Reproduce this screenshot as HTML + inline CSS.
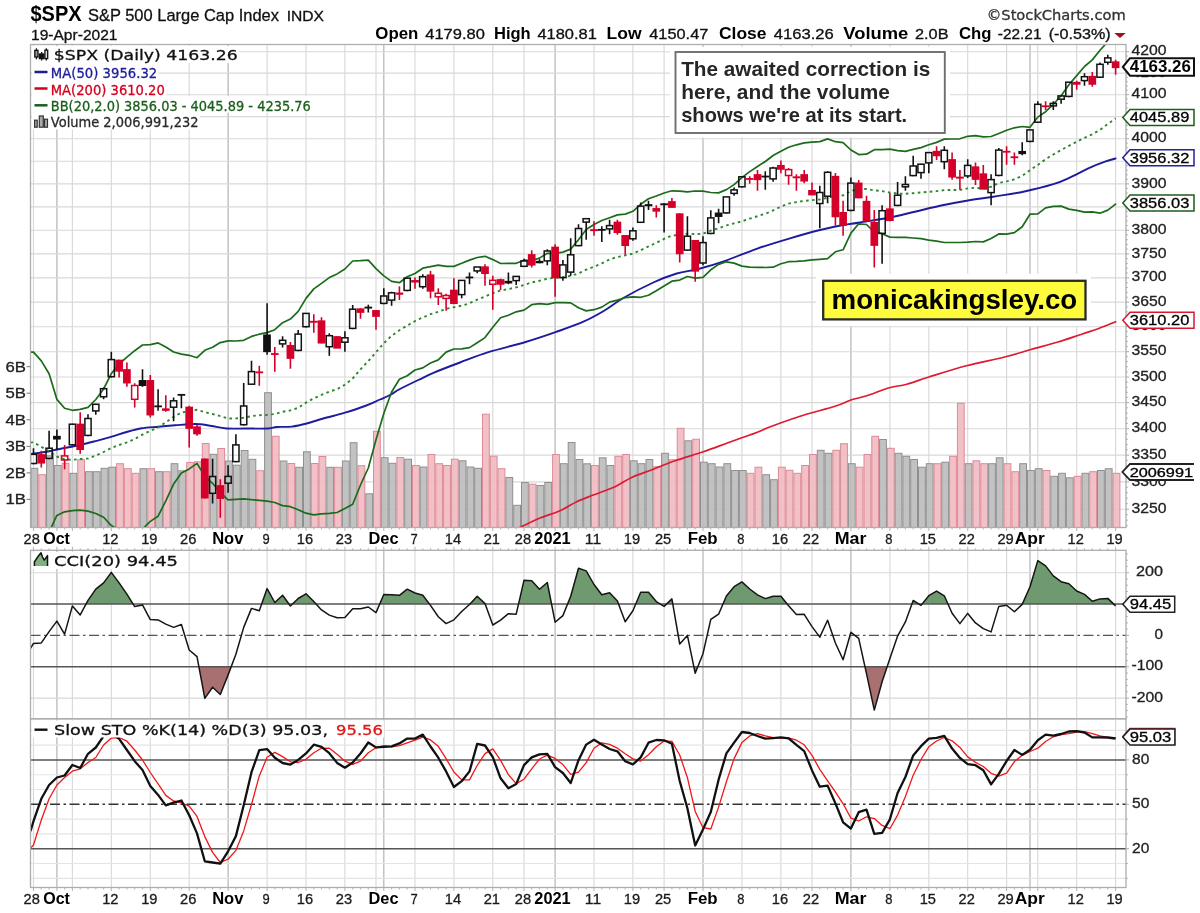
<!DOCTYPE html>
<html lang="en"><head><meta charset="utf-8"><title>$SPX S&amp;P 500 Large Cap Index</title>
<style>html,body{margin:0;padding:0;background:#fff}svg text{white-space:pre}</style></head>
<body>
<svg width="1200" height="913" viewBox="0 0 1200 913" style="display:block">
<rect width="1200" height="913" fill="#fff"/>
<clipPath id="cp"><rect x="30.5" y="44.5" width="1095.5" height="483.0"/></clipPath>
<line x1="33.5" y1="44.5" x2="33.5" y2="527.5" stroke="#d9d9d9" stroke-width="1.15"/>
<line x1="72.4" y1="44.5" x2="72.4" y2="527.5" stroke="#d9d9d9" stroke-width="1.15"/>
<line x1="376" y1="44.5" x2="376" y2="527.5" stroke="#d9d9d9" stroke-width="1.15"/>
<line x1="111.3" y1="44.5" x2="111.3" y2="527.5" stroke="#d9d9d9" stroke-width="1.15"/>
<line x1="150.3" y1="44.5" x2="150.3" y2="527.5" stroke="#d9d9d9" stroke-width="1.15"/>
<line x1="189.2" y1="44.5" x2="189.2" y2="527.5" stroke="#d9d9d9" stroke-width="1.15"/>
<line x1="267.1" y1="44.5" x2="267.1" y2="527.5" stroke="#d9d9d9" stroke-width="1.15"/>
<line x1="306" y1="44.5" x2="306" y2="527.5" stroke="#d9d9d9" stroke-width="1.15"/>
<line x1="344.9" y1="44.5" x2="344.9" y2="527.5" stroke="#d9d9d9" stroke-width="1.15"/>
<line x1="415" y1="44.5" x2="415" y2="527.5" stroke="#d9d9d9" stroke-width="1.15"/>
<line x1="453.9" y1="44.5" x2="453.9" y2="527.5" stroke="#d9d9d9" stroke-width="1.15"/>
<line x1="492.8" y1="44.5" x2="492.8" y2="527.5" stroke="#d9d9d9" stroke-width="1.15"/>
<line x1="524" y1="44.5" x2="524" y2="527.5" stroke="#d9d9d9" stroke-width="1.15"/>
<line x1="594" y1="44.5" x2="594" y2="527.5" stroke="#d9d9d9" stroke-width="1.15"/>
<line x1="632.9" y1="44.5" x2="632.9" y2="527.5" stroke="#d9d9d9" stroke-width="1.15"/>
<line x1="664.1" y1="44.5" x2="664.1" y2="527.5" stroke="#d9d9d9" stroke-width="1.15"/>
<line x1="741.9" y1="44.5" x2="741.9" y2="527.5" stroke="#d9d9d9" stroke-width="1.15"/>
<line x1="780.9" y1="44.5" x2="780.9" y2="527.5" stroke="#d9d9d9" stroke-width="1.15"/>
<line x1="812" y1="44.5" x2="812" y2="527.5" stroke="#d9d9d9" stroke-width="1.15"/>
<line x1="889.9" y1="44.5" x2="889.9" y2="527.5" stroke="#d9d9d9" stroke-width="1.15"/>
<line x1="928.8" y1="44.5" x2="928.8" y2="527.5" stroke="#d9d9d9" stroke-width="1.15"/>
<line x1="967.7" y1="44.5" x2="967.7" y2="527.5" stroke="#d9d9d9" stroke-width="1.15"/>
<line x1="1006.6" y1="44.5" x2="1006.6" y2="527.5" stroke="#d9d9d9" stroke-width="1.15"/>
<line x1="1037.8" y1="44.5" x2="1037.8" y2="527.5" stroke="#d9d9d9" stroke-width="1.15"/>
<line x1="1076.7" y1="44.5" x2="1076.7" y2="527.5" stroke="#d9d9d9" stroke-width="1.15"/>
<line x1="1115.6" y1="44.5" x2="1115.6" y2="527.5" stroke="#d9d9d9" stroke-width="1.15"/>
<line x1="56.9" y1="44.5" x2="56.9" y2="527.5" stroke="#b4b4b4" stroke-width="1.2"/>
<line x1="228.1" y1="44.5" x2="228.1" y2="527.5" stroke="#b4b4b4" stroke-width="1.2"/>
<line x1="383.8" y1="44.5" x2="383.8" y2="527.5" stroke="#b4b4b4" stroke-width="1.2"/>
<line x1="555.1" y1="44.5" x2="555.1" y2="527.5" stroke="#b4b4b4" stroke-width="1.2"/>
<line x1="703" y1="44.5" x2="703" y2="527.5" stroke="#b4b4b4" stroke-width="1.2"/>
<line x1="850.9" y1="44.5" x2="850.9" y2="527.5" stroke="#b4b4b4" stroke-width="1.2"/>
<line x1="1030" y1="44.5" x2="1030" y2="527.5" stroke="#b4b4b4" stroke-width="1.2"/>
<line x1="30.5" y1="509.2" x2="1126" y2="509.2" stroke="#d9d9d9" stroke-width="1.15"/>
<line x1="30.5" y1="481.9" x2="1126" y2="481.9" stroke="#d9d9d9" stroke-width="1.15"/>
<line x1="30.5" y1="455.1" x2="1126" y2="455.1" stroke="#d9d9d9" stroke-width="1.15"/>
<line x1="30.5" y1="428.7" x2="1126" y2="428.7" stroke="#d9d9d9" stroke-width="1.15"/>
<line x1="30.5" y1="402.6" x2="1126" y2="402.6" stroke="#d9d9d9" stroke-width="1.15"/>
<line x1="30.5" y1="377" x2="1126" y2="377" stroke="#d9d9d9" stroke-width="1.15"/>
<line x1="30.5" y1="351.7" x2="1126" y2="351.7" stroke="#d9d9d9" stroke-width="1.15"/>
<line x1="30.5" y1="326.7" x2="1126" y2="326.7" stroke="#d9d9d9" stroke-width="1.15"/>
<line x1="30.5" y1="302.1" x2="1126" y2="302.1" stroke="#d9d9d9" stroke-width="1.15"/>
<line x1="30.5" y1="277.8" x2="1126" y2="277.8" stroke="#d9d9d9" stroke-width="1.15"/>
<line x1="30.5" y1="253.9" x2="1126" y2="253.9" stroke="#d9d9d9" stroke-width="1.15"/>
<line x1="30.5" y1="230.2" x2="1126" y2="230.2" stroke="#d9d9d9" stroke-width="1.15"/>
<line x1="30.5" y1="206.9" x2="1126" y2="206.9" stroke="#d9d9d9" stroke-width="1.15"/>
<line x1="30.5" y1="183.9" x2="1126" y2="183.9" stroke="#d9d9d9" stroke-width="1.15"/>
<line x1="30.5" y1="161.2" x2="1126" y2="161.2" stroke="#d9d9d9" stroke-width="1.15"/>
<line x1="30.5" y1="138.7" x2="1126" y2="138.7" stroke="#d9d9d9" stroke-width="1.15"/>
<line x1="30.5" y1="116.6" x2="1126" y2="116.6" stroke="#d9d9d9" stroke-width="1.15"/>
<line x1="30.5" y1="94.7" x2="1126" y2="94.7" stroke="#d9d9d9" stroke-width="1.15"/>
<line x1="30.5" y1="73.1" x2="1126" y2="73.1" stroke="#d9d9d9" stroke-width="1.15"/>
<line x1="30.5" y1="51.7" x2="1126" y2="51.7" stroke="#d9d9d9" stroke-width="1.15"/>
<g clip-path="url(#cp)">
<rect x="31" y="468.3" width="6.8" height="61.2" fill="#bdbdbd" stroke="#8f8f8f" stroke-width="1" fill-opacity="0.92"/>
<rect x="38.8" y="474.7" width="6.8" height="54.8" fill="#f0bcc2" stroke="#dd8a96" stroke-width="1" fill-opacity="0.92"/>
<rect x="46.6" y="455.8" width="6.8" height="73.7" fill="#bdbdbd" stroke="#8f8f8f" stroke-width="1" fill-opacity="0.92"/>
<rect x="54.4" y="465.5" width="6.8" height="64" fill="#bdbdbd" stroke="#8f8f8f" stroke-width="1" fill-opacity="0.92"/>
<rect x="62.1" y="463.3" width="6.8" height="66.2" fill="#f0bcc2" stroke="#dd8a96" stroke-width="1" fill-opacity="0.92"/>
<rect x="69.9" y="473.3" width="6.8" height="56.2" fill="#bdbdbd" stroke="#8f8f8f" stroke-width="1" fill-opacity="0.92"/>
<rect x="77.7" y="459.7" width="6.8" height="69.8" fill="#f0bcc2" stroke="#dd8a96" stroke-width="1" fill-opacity="0.92"/>
<rect x="85.5" y="471.7" width="6.8" height="57.8" fill="#bdbdbd" stroke="#8f8f8f" stroke-width="1" fill-opacity="0.92"/>
<rect x="93.3" y="471.7" width="6.8" height="57.8" fill="#bdbdbd" stroke="#8f8f8f" stroke-width="1" fill-opacity="0.92"/>
<rect x="101.1" y="468.3" width="6.8" height="61.2" fill="#bdbdbd" stroke="#8f8f8f" stroke-width="1" fill-opacity="0.92"/>
<rect x="108.8" y="467.2" width="6.8" height="62.3" fill="#bdbdbd" stroke="#8f8f8f" stroke-width="1" fill-opacity="0.92"/>
<rect x="116.6" y="463.7" width="6.8" height="65.8" fill="#f0bcc2" stroke="#dd8a96" stroke-width="1" fill-opacity="0.92"/>
<rect x="124.4" y="468.7" width="6.8" height="60.8" fill="#f0bcc2" stroke="#dd8a96" stroke-width="1" fill-opacity="0.92"/>
<rect x="132.2" y="473.3" width="6.8" height="56.2" fill="#f0bcc2" stroke="#dd8a96" stroke-width="1" fill-opacity="0.92"/>
<rect x="140" y="468.7" width="6.8" height="60.8" fill="#bdbdbd" stroke="#8f8f8f" stroke-width="1" fill-opacity="0.92"/>
<rect x="147.8" y="468.7" width="6.8" height="60.8" fill="#f0bcc2" stroke="#dd8a96" stroke-width="1" fill-opacity="0.92"/>
<rect x="155.6" y="471.7" width="6.8" height="57.8" fill="#bdbdbd" stroke="#8f8f8f" stroke-width="1" fill-opacity="0.92"/>
<rect x="163.3" y="471.7" width="6.8" height="57.8" fill="#f0bcc2" stroke="#dd8a96" stroke-width="1" fill-opacity="0.92"/>
<rect x="171.1" y="463.7" width="6.8" height="65.8" fill="#bdbdbd" stroke="#8f8f8f" stroke-width="1" fill-opacity="0.92"/>
<rect x="178.9" y="470.8" width="6.8" height="58.7" fill="#bdbdbd" stroke="#8f8f8f" stroke-width="1" fill-opacity="0.92"/>
<rect x="186.7" y="462.5" width="6.8" height="67" fill="#f0bcc2" stroke="#dd8a96" stroke-width="1" fill-opacity="0.92"/>
<rect x="194.5" y="461.8" width="6.8" height="67.7" fill="#f0bcc2" stroke="#dd8a96" stroke-width="1" fill-opacity="0.92"/>
<rect x="202.3" y="443.5" width="6.8" height="86" fill="#f0bcc2" stroke="#dd8a96" stroke-width="1" fill-opacity="0.92"/>
<rect x="210.1" y="454.3" width="6.8" height="75.2" fill="#bdbdbd" stroke="#8f8f8f" stroke-width="1" fill-opacity="0.92"/>
<rect x="217.8" y="448.5" width="6.8" height="81" fill="#f0bcc2" stroke="#dd8a96" stroke-width="1" fill-opacity="0.92"/>
<rect x="225.6" y="461" width="6.8" height="68.5" fill="#bdbdbd" stroke="#8f8f8f" stroke-width="1" fill-opacity="0.92"/>
<rect x="233.4" y="465.2" width="6.8" height="64.3" fill="#bdbdbd" stroke="#8f8f8f" stroke-width="1" fill-opacity="0.92"/>
<rect x="241.2" y="450.5" width="6.8" height="79" fill="#bdbdbd" stroke="#8f8f8f" stroke-width="1" fill-opacity="0.92"/>
<rect x="249" y="459.3" width="6.8" height="70.2" fill="#bdbdbd" stroke="#8f8f8f" stroke-width="1" fill-opacity="0.92"/>
<rect x="256.8" y="470.7" width="6.8" height="58.8" fill="#f0bcc2" stroke="#dd8a96" stroke-width="1" fill-opacity="0.92"/>
<rect x="264.6" y="392.7" width="6.8" height="136.8" fill="#bdbdbd" stroke="#8f8f8f" stroke-width="1" fill-opacity="0.92"/>
<rect x="272.3" y="436.3" width="6.8" height="93.2" fill="#f0bcc2" stroke="#dd8a96" stroke-width="1" fill-opacity="0.92"/>
<rect x="280.1" y="461" width="6.8" height="68.5" fill="#bdbdbd" stroke="#8f8f8f" stroke-width="1" fill-opacity="0.92"/>
<rect x="287.9" y="463.5" width="6.8" height="66" fill="#f0bcc2" stroke="#dd8a96" stroke-width="1" fill-opacity="0.92"/>
<rect x="295.7" y="467.3" width="6.8" height="62.2" fill="#bdbdbd" stroke="#8f8f8f" stroke-width="1" fill-opacity="0.92"/>
<rect x="303.5" y="451.8" width="6.8" height="77.7" fill="#bdbdbd" stroke="#8f8f8f" stroke-width="1" fill-opacity="0.92"/>
<rect x="311.3" y="463.5" width="6.8" height="66" fill="#f0bcc2" stroke="#dd8a96" stroke-width="1" fill-opacity="0.92"/>
<rect x="319" y="456.5" width="6.8" height="73" fill="#f0bcc2" stroke="#dd8a96" stroke-width="1" fill-opacity="0.92"/>
<rect x="326.8" y="467.3" width="6.8" height="62.2" fill="#bdbdbd" stroke="#8f8f8f" stroke-width="1" fill-opacity="0.92"/>
<rect x="334.6" y="467.3" width="6.8" height="62.2" fill="#f0bcc2" stroke="#dd8a96" stroke-width="1" fill-opacity="0.92"/>
<rect x="342.4" y="461" width="6.8" height="68.5" fill="#bdbdbd" stroke="#8f8f8f" stroke-width="1" fill-opacity="0.92"/>
<rect x="350.2" y="442.7" width="6.8" height="86.8" fill="#bdbdbd" stroke="#8f8f8f" stroke-width="1" fill-opacity="0.92"/>
<rect x="358" y="465.7" width="6.8" height="63.8" fill="#f0bcc2" stroke="#dd8a96" stroke-width="1" fill-opacity="0.92"/>
<rect x="365.8" y="493.8" width="6.8" height="35.7" fill="#bdbdbd" stroke="#8f8f8f" stroke-width="1" fill-opacity="0.92"/>
<rect x="373.5" y="431.3" width="6.8" height="98.2" fill="#f0bcc2" stroke="#dd8a96" stroke-width="1" fill-opacity="0.92"/>
<rect x="381.3" y="457.7" width="6.8" height="71.8" fill="#bdbdbd" stroke="#8f8f8f" stroke-width="1" fill-opacity="0.92"/>
<rect x="389.1" y="463.3" width="6.8" height="66.2" fill="#bdbdbd" stroke="#8f8f8f" stroke-width="1" fill-opacity="0.92"/>
<rect x="396.9" y="457.5" width="6.8" height="72" fill="#f0bcc2" stroke="#dd8a96" stroke-width="1" fill-opacity="0.92"/>
<rect x="404.7" y="459.2" width="6.8" height="70.3" fill="#bdbdbd" stroke="#8f8f8f" stroke-width="1" fill-opacity="0.92"/>
<rect x="412.5" y="465.5" width="6.8" height="64" fill="#f0bcc2" stroke="#dd8a96" stroke-width="1" fill-opacity="0.92"/>
<rect x="420.2" y="467" width="6.8" height="62.5" fill="#bdbdbd" stroke="#8f8f8f" stroke-width="1" fill-opacity="0.92"/>
<rect x="428" y="454.5" width="6.8" height="75" fill="#f0bcc2" stroke="#dd8a96" stroke-width="1" fill-opacity="0.92"/>
<rect x="435.8" y="463.7" width="6.8" height="65.8" fill="#f0bcc2" stroke="#dd8a96" stroke-width="1" fill-opacity="0.92"/>
<rect x="443.6" y="465.5" width="6.8" height="64" fill="#f0bcc2" stroke="#dd8a96" stroke-width="1" fill-opacity="0.92"/>
<rect x="451.4" y="459.2" width="6.8" height="70.3" fill="#f0bcc2" stroke="#dd8a96" stroke-width="1" fill-opacity="0.92"/>
<rect x="459.2" y="460.8" width="6.8" height="68.7" fill="#bdbdbd" stroke="#8f8f8f" stroke-width="1" fill-opacity="0.92"/>
<rect x="467" y="467" width="6.8" height="62.5" fill="#bdbdbd" stroke="#8f8f8f" stroke-width="1" fill-opacity="0.92"/>
<rect x="474.7" y="468.3" width="6.8" height="61.2" fill="#bdbdbd" stroke="#8f8f8f" stroke-width="1" fill-opacity="0.92"/>
<rect x="482.5" y="414.2" width="6.8" height="115.3" fill="#f0bcc2" stroke="#dd8a96" stroke-width="1" fill-opacity="0.92"/>
<rect x="490.3" y="456.2" width="6.8" height="73.3" fill="#f0bcc2" stroke="#dd8a96" stroke-width="1" fill-opacity="0.92"/>
<rect x="498.1" y="468.7" width="6.8" height="60.8" fill="#f0bcc2" stroke="#dd8a96" stroke-width="1" fill-opacity="0.92"/>
<rect x="505.9" y="477.5" width="6.8" height="52" fill="#bdbdbd" stroke="#8f8f8f" stroke-width="1" fill-opacity="0.92"/>
<rect x="513.7" y="505.3" width="6.8" height="24.2" fill="#bdbdbd" stroke="#8f8f8f" stroke-width="1" fill-opacity="0.92"/>
<rect x="521.5" y="482.5" width="6.8" height="47" fill="#bdbdbd" stroke="#8f8f8f" stroke-width="1" fill-opacity="0.92"/>
<rect x="529.2" y="484.2" width="6.8" height="45.3" fill="#f0bcc2" stroke="#dd8a96" stroke-width="1" fill-opacity="0.92"/>
<rect x="537" y="485.5" width="6.8" height="44" fill="#bdbdbd" stroke="#8f8f8f" stroke-width="1" fill-opacity="0.92"/>
<rect x="544.8" y="482.5" width="6.8" height="47" fill="#bdbdbd" stroke="#8f8f8f" stroke-width="1" fill-opacity="0.92"/>
<rect x="552.6" y="454.5" width="6.8" height="75" fill="#f0bcc2" stroke="#dd8a96" stroke-width="1" fill-opacity="0.92"/>
<rect x="560.4" y="463.7" width="6.8" height="65.8" fill="#bdbdbd" stroke="#8f8f8f" stroke-width="1" fill-opacity="0.92"/>
<rect x="568.2" y="442.5" width="6.8" height="87" fill="#bdbdbd" stroke="#8f8f8f" stroke-width="1" fill-opacity="0.92"/>
<rect x="576" y="459.5" width="6.8" height="70" fill="#bdbdbd" stroke="#8f8f8f" stroke-width="1" fill-opacity="0.92"/>
<rect x="583.7" y="463.8" width="6.8" height="65.7" fill="#bdbdbd" stroke="#8f8f8f" stroke-width="1" fill-opacity="0.92"/>
<rect x="591.5" y="465.5" width="6.8" height="64" fill="#f0bcc2" stroke="#dd8a96" stroke-width="1" fill-opacity="0.92"/>
<rect x="599.3" y="457.8" width="6.8" height="71.7" fill="#bdbdbd" stroke="#8f8f8f" stroke-width="1" fill-opacity="0.92"/>
<rect x="607.1" y="465.5" width="6.8" height="64" fill="#bdbdbd" stroke="#8f8f8f" stroke-width="1" fill-opacity="0.92"/>
<rect x="614.9" y="456.3" width="6.8" height="73.2" fill="#f0bcc2" stroke="#dd8a96" stroke-width="1" fill-opacity="0.92"/>
<rect x="622.7" y="454.5" width="6.8" height="75" fill="#f0bcc2" stroke="#dd8a96" stroke-width="1" fill-opacity="0.92"/>
<rect x="630.4" y="460.8" width="6.8" height="68.7" fill="#bdbdbd" stroke="#8f8f8f" stroke-width="1" fill-opacity="0.92"/>
<rect x="638.2" y="463.7" width="6.8" height="65.8" fill="#bdbdbd" stroke="#8f8f8f" stroke-width="1" fill-opacity="0.92"/>
<rect x="646" y="459.5" width="6.8" height="70" fill="#bdbdbd" stroke="#8f8f8f" stroke-width="1" fill-opacity="0.92"/>
<rect x="653.8" y="466.7" width="6.8" height="62.8" fill="#f0bcc2" stroke="#dd8a96" stroke-width="1" fill-opacity="0.92"/>
<rect x="661.6" y="453.3" width="6.8" height="76.2" fill="#bdbdbd" stroke="#8f8f8f" stroke-width="1" fill-opacity="0.92"/>
<rect x="669.4" y="459.7" width="6.8" height="69.8" fill="#f0bcc2" stroke="#dd8a96" stroke-width="1" fill-opacity="0.92"/>
<rect x="677.2" y="428.3" width="6.8" height="101.2" fill="#f0bcc2" stroke="#dd8a96" stroke-width="1" fill-opacity="0.92"/>
<rect x="684.9" y="440.8" width="6.8" height="88.7" fill="#bdbdbd" stroke="#8f8f8f" stroke-width="1" fill-opacity="0.92"/>
<rect x="692.7" y="439.2" width="6.8" height="90.3" fill="#f0bcc2" stroke="#dd8a96" stroke-width="1" fill-opacity="0.92"/>
<rect x="700.5" y="462.2" width="6.8" height="67.3" fill="#bdbdbd" stroke="#8f8f8f" stroke-width="1" fill-opacity="0.92"/>
<rect x="708.3" y="463.7" width="6.8" height="65.8" fill="#bdbdbd" stroke="#8f8f8f" stroke-width="1" fill-opacity="0.92"/>
<rect x="716.1" y="467" width="6.8" height="62.5" fill="#bdbdbd" stroke="#8f8f8f" stroke-width="1" fill-opacity="0.92"/>
<rect x="723.9" y="463.7" width="6.8" height="65.8" fill="#bdbdbd" stroke="#8f8f8f" stroke-width="1" fill-opacity="0.92"/>
<rect x="731.6" y="470.5" width="6.8" height="59" fill="#bdbdbd" stroke="#8f8f8f" stroke-width="1" fill-opacity="0.92"/>
<rect x="739.4" y="470.5" width="6.8" height="59" fill="#bdbdbd" stroke="#8f8f8f" stroke-width="1" fill-opacity="0.92"/>
<rect x="747.2" y="473.3" width="6.8" height="56.2" fill="#f0bcc2" stroke="#dd8a96" stroke-width="1" fill-opacity="0.92"/>
<rect x="755" y="467.2" width="6.8" height="62.3" fill="#f0bcc2" stroke="#dd8a96" stroke-width="1" fill-opacity="0.92"/>
<rect x="762.8" y="474.7" width="6.8" height="54.8" fill="#bdbdbd" stroke="#8f8f8f" stroke-width="1" fill-opacity="0.92"/>
<rect x="770.6" y="479.7" width="6.8" height="49.8" fill="#bdbdbd" stroke="#8f8f8f" stroke-width="1" fill-opacity="0.92"/>
<rect x="778.4" y="467.2" width="6.8" height="62.3" fill="#f0bcc2" stroke="#dd8a96" stroke-width="1" fill-opacity="0.92"/>
<rect x="786.1" y="470.3" width="6.8" height="59.2" fill="#f0bcc2" stroke="#dd8a96" stroke-width="1" fill-opacity="0.92"/>
<rect x="793.9" y="473.3" width="6.8" height="56.2" fill="#f0bcc2" stroke="#dd8a96" stroke-width="1" fill-opacity="0.92"/>
<rect x="801.7" y="465.5" width="6.8" height="64" fill="#f0bcc2" stroke="#dd8a96" stroke-width="1" fill-opacity="0.92"/>
<rect x="809.5" y="454.5" width="6.8" height="75" fill="#f0bcc2" stroke="#dd8a96" stroke-width="1" fill-opacity="0.92"/>
<rect x="817.3" y="450.3" width="6.8" height="79.2" fill="#bdbdbd" stroke="#8f8f8f" stroke-width="1" fill-opacity="0.92"/>
<rect x="825.1" y="453.3" width="6.8" height="76.2" fill="#bdbdbd" stroke="#8f8f8f" stroke-width="1" fill-opacity="0.92"/>
<rect x="832.9" y="450.3" width="6.8" height="79.2" fill="#f0bcc2" stroke="#dd8a96" stroke-width="1" fill-opacity="0.92"/>
<rect x="840.6" y="443.7" width="6.8" height="85.8" fill="#f0bcc2" stroke="#dd8a96" stroke-width="1" fill-opacity="0.92"/>
<rect x="848.4" y="463.7" width="6.8" height="65.8" fill="#bdbdbd" stroke="#8f8f8f" stroke-width="1" fill-opacity="0.92"/>
<rect x="856.2" y="467.2" width="6.8" height="62.3" fill="#f0bcc2" stroke="#dd8a96" stroke-width="1" fill-opacity="0.92"/>
<rect x="864" y="454.5" width="6.8" height="75" fill="#f0bcc2" stroke="#dd8a96" stroke-width="1" fill-opacity="0.92"/>
<rect x="871.8" y="436.3" width="6.8" height="93.2" fill="#f0bcc2" stroke="#dd8a96" stroke-width="1" fill-opacity="0.92"/>
<rect x="879.6" y="439.5" width="6.8" height="90" fill="#bdbdbd" stroke="#8f8f8f" stroke-width="1" fill-opacity="0.92"/>
<rect x="887.4" y="448.3" width="6.8" height="81.2" fill="#f0bcc2" stroke="#dd8a96" stroke-width="1" fill-opacity="0.92"/>
<rect x="895.1" y="453.3" width="6.8" height="76.2" fill="#bdbdbd" stroke="#8f8f8f" stroke-width="1" fill-opacity="0.92"/>
<rect x="902.9" y="456.3" width="6.8" height="73.2" fill="#bdbdbd" stroke="#8f8f8f" stroke-width="1" fill-opacity="0.92"/>
<rect x="910.7" y="459.5" width="6.8" height="70" fill="#bdbdbd" stroke="#8f8f8f" stroke-width="1" fill-opacity="0.92"/>
<rect x="918.5" y="467.2" width="6.8" height="62.3" fill="#bdbdbd" stroke="#8f8f8f" stroke-width="1" fill-opacity="0.92"/>
<rect x="926.3" y="463.7" width="6.8" height="65.8" fill="#bdbdbd" stroke="#8f8f8f" stroke-width="1" fill-opacity="0.92"/>
<rect x="934.1" y="463.7" width="6.8" height="65.8" fill="#f0bcc2" stroke="#dd8a96" stroke-width="1" fill-opacity="0.92"/>
<rect x="941.8" y="462.2" width="6.8" height="67.3" fill="#bdbdbd" stroke="#8f8f8f" stroke-width="1" fill-opacity="0.92"/>
<rect x="949.6" y="456.3" width="6.8" height="73.2" fill="#f0bcc2" stroke="#dd8a96" stroke-width="1" fill-opacity="0.92"/>
<rect x="957.4" y="403.3" width="6.8" height="126.2" fill="#f0bcc2" stroke="#dd8a96" stroke-width="1" fill-opacity="0.92"/>
<rect x="965.2" y="463.7" width="6.8" height="65.8" fill="#bdbdbd" stroke="#8f8f8f" stroke-width="1" fill-opacity="0.92"/>
<rect x="973" y="460.8" width="6.8" height="68.7" fill="#f0bcc2" stroke="#dd8a96" stroke-width="1" fill-opacity="0.92"/>
<rect x="980.8" y="463.7" width="6.8" height="65.8" fill="#f0bcc2" stroke="#dd8a96" stroke-width="1" fill-opacity="0.92"/>
<rect x="988.6" y="463.7" width="6.8" height="65.8" fill="#bdbdbd" stroke="#8f8f8f" stroke-width="1" fill-opacity="0.92"/>
<rect x="996.3" y="457.8" width="6.8" height="71.7" fill="#bdbdbd" stroke="#8f8f8f" stroke-width="1" fill-opacity="0.92"/>
<rect x="1004.1" y="463.7" width="6.8" height="65.8" fill="#f0bcc2" stroke="#dd8a96" stroke-width="1" fill-opacity="0.92"/>
<rect x="1011.9" y="471.7" width="6.8" height="57.8" fill="#f0bcc2" stroke="#dd8a96" stroke-width="1" fill-opacity="0.92"/>
<rect x="1019.7" y="463.7" width="6.8" height="65.8" fill="#bdbdbd" stroke="#8f8f8f" stroke-width="1" fill-opacity="0.92"/>
<rect x="1027.5" y="470.5" width="6.8" height="59" fill="#bdbdbd" stroke="#8f8f8f" stroke-width="1" fill-opacity="0.92"/>
<rect x="1035.3" y="468.7" width="6.8" height="60.8" fill="#bdbdbd" stroke="#8f8f8f" stroke-width="1" fill-opacity="0.92"/>
<rect x="1043.1" y="470.5" width="6.8" height="59" fill="#f0bcc2" stroke="#dd8a96" stroke-width="1" fill-opacity="0.92"/>
<rect x="1050.8" y="476.3" width="6.8" height="53.2" fill="#bdbdbd" stroke="#8f8f8f" stroke-width="1" fill-opacity="0.92"/>
<rect x="1058.6" y="473.3" width="6.8" height="56.2" fill="#bdbdbd" stroke="#8f8f8f" stroke-width="1" fill-opacity="0.92"/>
<rect x="1066.4" y="477.8" width="6.8" height="51.7" fill="#bdbdbd" stroke="#8f8f8f" stroke-width="1" fill-opacity="0.92"/>
<rect x="1074.2" y="476.3" width="6.8" height="53.2" fill="#f0bcc2" stroke="#dd8a96" stroke-width="1" fill-opacity="0.92"/>
<rect x="1082" y="473.3" width="6.8" height="56.2" fill="#bdbdbd" stroke="#8f8f8f" stroke-width="1" fill-opacity="0.92"/>
<rect x="1089.8" y="471.7" width="6.8" height="57.8" fill="#f0bcc2" stroke="#dd8a96" stroke-width="1" fill-opacity="0.92"/>
<rect x="1097.5" y="470.5" width="6.8" height="59" fill="#bdbdbd" stroke="#8f8f8f" stroke-width="1" fill-opacity="0.92"/>
<rect x="1105.3" y="468.7" width="6.8" height="60.8" fill="#bdbdbd" stroke="#8f8f8f" stroke-width="1" fill-opacity="0.92"/>
<rect x="1113.1" y="473.3" width="6.8" height="56.2" fill="#f0bcc2" stroke="#dd8a96" stroke-width="1" fill-opacity="0.92"/>
</g>
<g clip-path="url(#cp)" fill="none" stroke-linejoin="round" stroke-linecap="round">
<path d="M517,529C517.6,528.7 517,528.8 520.8,527C524.6,525.2 533.5,520.7 540,518C546.5,515.3 553.9,513.5 560,510.8C566.1,508.1 571.2,504.3 576.7,501.7C582.2,499.1 586.9,497.5 593.3,495C599.7,492.5 608.6,489.6 615,486.7C621.4,483.8 625.3,480.4 631.7,477.5C638.1,474.6 646.1,472 653.3,469.2C660.5,466.4 666.7,463.7 675,460.8C683.3,457.9 694.7,454.6 703.3,451.7C711.9,448.8 720.3,445.6 726.7,443.3C733.1,441 736.7,439.6 741.7,437.8C746.7,436 751.7,434.4 756.7,432.5C761.7,430.6 763.9,429.2 771.7,426.3C779.5,423.4 792.8,418.6 803.3,415.3C813.8,412 827.1,408.9 835,406.3C842.9,403.8 845.6,401.8 850.9,400C856.2,398.2 860.5,397.8 866.7,395.8C872.9,393.8 881.6,389.9 888.3,388C895,386.1 899.9,386 906.7,384.2C913.5,382.4 919,380.1 929,377C939,373.9 953.9,369.1 966.4,365.8C978.9,362.5 993,360 1003.7,357.3C1014.5,354.6 1021.9,352.1 1030.9,349.5C1040,346.9 1049.5,344.6 1058,342C1066.5,339.4 1075,336.4 1081.8,334.2C1088.6,331.9 1093.2,330.6 1098.8,328.5C1104.4,326.4 1112.8,322.8 1115.6,321.7" stroke="#dd1a30" stroke-width="1.7"/>
<path d="M30.5,453.9C32.9,453.6 40.4,452.8 45,452C49.6,451.2 52.5,450.4 58.3,449.2C64.1,448 73.6,446.4 80,445C86.4,443.6 91.4,442.2 96.7,440.8C102,439.4 106.7,438.2 111.7,436.7C116.7,435.2 121.7,433.4 126.7,432C131.7,430.6 136.4,429.2 141.7,428.3C147,427.4 152.8,427.2 158.3,426.7C163.9,426.2 169.8,425.7 175,425.3C180.2,424.9 185,424.4 189.2,424.2C193.4,424 196.2,423.9 200,424.2C203.8,424.5 207.2,425.3 211.7,426C216.1,426.7 221.1,428.1 226.7,428.5C232.2,428.9 238.1,428.5 245,428.5C251.9,428.5 263,428.8 268.3,428.5C273.6,428.2 272.8,427.3 276.7,427C280.6,426.7 286.7,427.2 291.7,426.6C296.7,426 301.4,424.9 306.7,423.5C312,422.1 316.9,420.3 323.3,418.5C329.7,416.7 338.1,414.8 345,412.7C351.9,410.6 359.2,408.2 365,406C370.8,403.8 375.8,401.3 380,399.5C384.2,397.7 386.7,396.8 390,395C393.3,393.2 395.3,391.5 400,389C404.7,386.5 412.6,382.7 418.3,380C424,377.3 427.1,375.5 434,372.6C440.9,369.7 450.9,365.9 460,362.5C469.1,359.1 477.4,355.6 488.3,352.2C499.2,348.8 514.3,345.4 525.6,342C536.9,338.6 546.6,335.3 556.2,331.9C565.8,328.5 575.5,325.2 583.4,321.7C591.3,318.2 597.1,314.9 603.7,311C610.4,307.1 615,302.8 623.3,298C631.6,293.2 644.4,286.6 653.3,282.5C662.2,278.4 669.2,275.8 676.7,273.5C684.2,271.2 690,271.2 698.3,269C706.6,266.8 717,263.7 726.7,260.3C736.4,256.9 746.2,252.5 756.7,248.8C767.2,245.1 779.5,241.4 790,238.3C800.5,235.2 811.1,232.2 820,230C828.9,227.8 836.6,226.2 843.3,225C850,223.8 852.2,223.8 860,222.5C867.8,221.2 880.8,219.3 890,217.5C899.2,215.7 906.7,213.6 915,211.7C923.3,209.8 931.2,207.7 940,205.8C948.8,203.9 959.1,202 968,200.5C976.9,199 984.1,198.2 993.3,196.7C1002.5,195.2 1013.3,193.8 1023.3,191.7C1033.3,189.6 1045.2,186.7 1053.3,184.2C1061.4,181.7 1065.9,179.3 1071.7,176.7C1077.5,174 1082.8,170.8 1088.3,168.3C1093.8,165.8 1100.5,163.3 1105,161.7C1109.5,160.1 1113.8,159 1115.6,158.5" stroke="#1c1c9c" stroke-width="1.9"/>
<path d="M30.5,352.1 L33.5,352.1 L41.3,360.9 L49.1,373.8 L56.9,399.4 L64.6,408.3 L72.4,410.3 L80.2,409.4 L88,407.4 L95.8,399.5 L103.6,389 L111.3,373.6 L119.1,364 L126.9,357.2 L134.7,350.7 L142.5,345 L150.3,344.6 L158.1,342.9 L165.8,347 L173.6,352 L181.4,354.1 L189.2,355.3 L197,357.7 L204.8,350.3 L212.6,347.3 L220.3,342.6 L228.1,340.9 L235.9,341 L243.7,340.3 L251.5,336.4 L259.3,334.2 L267.1,332.6 L274.8,329.7 L282.6,322.7 L290.4,319.1 L298.2,311.4 L306,298.4 L313.8,288.9 L321.5,283.4 L329.3,277.6 L337.1,273.9 L344.9,269 L352.7,261 L360.5,260.7 L368.3,260.1 L376,268.6 L383.8,275.9 L391.6,281.4 L399.4,282.7 L407.2,276.8 L415,273.5 L422.8,268.2 L430.5,266.7 L438.3,265.1 L446.1,266.4 L453.9,266.4 L461.7,263.3 L469.5,260.1 L477.2,257.5 L485,256.3 L492.8,259.6 L500.6,263.5 L508.4,263.4 L516.2,263.3 L524,260.2 L531.7,260.5 L539.5,258.1 L547.3,253.3 L555.1,253.4 L562.9,252.1 L570.7,249.1 L578.5,239.7 L586.2,229.5 L594,224.5 L601.8,220.5 L609.6,217.7 L617.4,214.9 L625.2,214.1 L632.9,211.3 L640.7,204.3 L648.5,198.8 L656.3,196 L664.1,193 L671.9,190.8 L679.7,191.2 L687.4,191.8 L695.2,191 L703,191.1 L710.8,192.5 L718.6,192.9 L726.4,189.6 L734.1,184.6 L741.9,177.6 L749.7,171.6 L757.5,166.5 L765.3,161.5 L773.1,155.5 L780.9,151.3 L788.6,147.3 L796.4,144.8 L804.2,142.9 L812,142.2 L819.8,141.6 L827.6,138.9 L835.4,141.7 L843.1,142.6 L850.9,150 L858.7,154.6 L866.5,154.2 L874.3,149.7 L882.1,149.6 L889.9,149.2 L897.6,150.7 L905.4,151.3 L913.2,149.4 L921,147.6 L928.8,144.7 L936.6,142.4 L944.3,139.1 L952.1,139 L959.9,138.8 L967.7,136.3 L975.5,135.6 L983.3,136.9 L991.1,136.5 L998.8,133.5 L1006.6,130.2 L1014.4,127.8 L1022.2,126.5 L1030,127.3 L1037.8,117.1 L1045.6,111.7 L1053.3,104.3 L1061.1,95.8 L1068.9,84.8 L1076.7,75.6 L1084.5,66.5 L1092.3,59.9 L1100,50.3 L1107.8,41.7 L1115.6,36.6" stroke="#1b6b1b" stroke-width="1.7"/>
<path d="M30.5,537.6 L33.5,537.6 L41.3,537 L49.1,531.9 L56.9,515.4 L64.6,511.8 L72.4,510.7 L80.2,510.1 L88,511.1 L95.8,513.5 L103.6,517.2 L111.3,525.6 L119.1,529.9 L126.9,531.7 L134.7,531.8 L142.5,529.1 L150.3,521.4 L158.1,516.2 L165.8,500.8 L173.6,484.1 L181.4,472.9 L189.2,468.9 L197,463.4 L204.8,476.3 L212.6,483.3 L220.3,492.7 L228.1,499.9 L235.9,499.3 L243.7,498.9 L251.5,499.7 L259.3,500.3 L267.1,501.1 L274.8,502.5 L282.6,505.6 L290.4,506.7 L298.2,509.7 L306,513.2 L313.8,514.9 L321.5,513.9 L329.3,513.4 L337.1,512.5 L344.9,508.4 L352.7,504.2 L360.5,485 L368.3,468 L376,439.8 L383.8,413.5 L391.6,392 L399.4,379.2 L407.2,375.8 L415,370 L422.8,367.9 L430.5,363 L438.3,359.9 L446.1,352.1 L453.9,349 L461.7,348.9 L469.5,347.6 L477.2,342.7 L485,337.6 L492.8,327.2 L500.6,317.8 L508.4,315.3 L516.2,311.8 L524,310.1 L531.7,304.7 L539.5,303.7 L547.3,304.4 L555.1,302.6 L562.9,302.6 L570.7,302.9 L578.5,307.7 L586.2,310.9 L594,309.7 L601.8,307.1 L609.6,302.1 L617.4,300.1 L625.2,297.7 L632.9,296.9 L640.7,297.3 L648.5,295.3 L656.3,290.8 L664.1,286 L671.9,281.2 L679.7,280.1 L687.4,276.5 L695.2,278.2 L703,277.3 L710.8,269.8 L718.6,264.4 L726.4,261.8 L734.1,263.1 L741.9,266.1 L749.7,267.1 L757.5,267.3 L765.3,267.5 L773.1,267.2 L780.9,263.7 L788.6,261.7 L796.4,261.4 L804.2,260.9 L812,259.9 L819.8,259.3 L827.6,258.6 L835.4,251.8 L843.1,249.8 L850.9,233.1 L858.7,223.8 L866.5,224.5 L874.3,232.1 L882.1,233.7 L889.9,237.1 L897.6,237.4 L905.4,237.4 L913.2,238 L921,238.7 L928.8,240.1 L936.6,241.1 L944.3,242.5 L952.1,242.5 L959.9,242.5 L967.7,242.1 L975.5,241.5 L983.3,241.9 L991.1,238.5 L998.8,233.9 L1006.6,234.2 L1014.4,232.6 L1022.2,226.8 L1030,214.2 L1037.8,213.9 L1045.6,207.9 L1053.3,206.3 L1061.1,206.1 L1068.9,209.1 L1076.7,210.3 L1084.5,212.2 L1092.3,211.8 L1100,213.2 L1107.8,210.1 L1115.6,204.1" stroke="#1b6b1b" stroke-width="1.7"/>
<path d="M30.5,442.4 L33.5,442.4 L41.3,446.8 L49.1,451.1 L56.9,456.5 L64.6,459.3 L72.4,459.8 L80.2,459 L88,458.5 L95.8,455.6 L103.6,452 L111.3,448 L119.1,445 L126.9,442.3 L134.7,439 L142.5,434.6 L150.3,430.8 L158.1,427.5 L165.8,422.3 L173.6,416.9 L181.4,412.5 L189.2,411.2 L197,409.8 L204.8,412.2 L212.6,414 L220.3,416.1 L228.1,418.6 L235.9,418.4 L243.7,417.8 L251.5,416.1 L259.3,415.3 L267.1,414.9 L274.8,414 L282.6,411.8 L290.4,410.4 L298.2,407.8 L306,402.6 L313.8,398.3 L321.5,394.9 L329.3,391.6 L337.1,389.2 L344.9,384.7 L352.7,378.5 L360.5,369.3 L368.3,361 L376,352.2 L383.8,343.3 L391.6,335.8 L399.4,330.3 L407.2,325.6 L415,321.1 L422.8,317.4 L430.5,314.2 L438.3,311.9 L446.1,308.8 L453.9,307.2 L461.7,305.6 L469.5,303.3 L477.2,299.6 L485,296.5 L492.8,293.1 L500.6,290.4 L508.4,289.1 L516.2,287.3 L524,285 L531.7,282.4 L539.5,280.8 L547.3,278.7 L555.1,277.8 L562.9,277.2 L570.7,275.8 L578.5,273.4 L586.2,269.7 L594,266.6 L601.8,263.3 L609.6,259.4 L617.4,257 L625.2,255.4 L632.9,253.6 L640.7,250.2 L648.5,246.4 L656.3,242.8 L664.1,238.9 L671.9,235.4 L679.7,235.1 L687.4,233.7 L695.2,234.1 L703,233.7 L710.8,230.7 L718.6,228.3 L726.4,225.4 L734.1,223.4 L741.9,221.3 L749.7,218.7 L757.5,216.2 L765.3,213.7 L773.1,210.5 L780.9,206.6 L788.6,203.6 L796.4,202.1 L804.2,200.9 L812,200.1 L819.8,199.5 L827.6,197.8 L835.4,195.9 L843.1,195.4 L850.9,191.1 L858.7,188.9 L866.5,189 L874.3,190.4 L882.1,191.1 L889.9,192.6 L897.6,193.5 L905.4,193.8 L913.2,193.2 L921,192.5 L928.8,191.8 L936.6,191.1 L944.3,190.1 L952.1,190 L959.9,189.9 L967.7,188.4 L975.5,187.8 L983.3,188.6 L991.1,186.8 L998.8,183 L1006.6,181.4 L1014.4,179.4 L1022.2,175.9 L1030,170.2 L1037.8,164.9 L1045.6,159.2 L1053.3,154.5 L1061.1,150.1 L1068.9,145.8 L1076.7,141.7 L1084.5,137.9 L1092.3,134.3 L1100,129.9 L1107.8,123.9 L1115.6,118.4" stroke="#2e862e" stroke-width="1.9" stroke-dasharray="2.6,3.4" stroke-linecap="butt"/>
</g>
<g clip-path="url(#cp)">
<line x1="33.5" y1="448.3" x2="33.5" y2="454.3" stroke="#111" stroke-width="1.6"/>
<line x1="33.5" y1="463.4" x2="33.5" y2="464.2" stroke="#111" stroke-width="1.6"/>
<rect x="30.4" y="454.3" width="6.2" height="9.2" fill="none" stroke="#111" stroke-width="1.5"/>
<line x1="41.3" y1="450.8" x2="41.3" y2="454.9" stroke="#d4002a" stroke-width="1.6"/>
<line x1="41.3" y1="462.9" x2="41.3" y2="467.5" stroke="#d4002a" stroke-width="1.6"/>
<rect x="38.2" y="454.9" width="6.2" height="7.9" fill="#d4002a" stroke="#d4002a" stroke-width="1.5"/>
<line x1="49.1" y1="430.8" x2="49.1" y2="448.2" stroke="#111" stroke-width="1.6"/>
<line x1="49.1" y1="458.4" x2="49.1" y2="459.2" stroke="#111" stroke-width="1.6"/>
<rect x="46" y="448.2" width="6.2" height="10.2" fill="none" stroke="#111" stroke-width="1.5"/>
<line x1="56.9" y1="429.5" x2="56.9" y2="436.6" stroke="#111" stroke-width="1.6"/>
<line x1="56.9" y1="438.8" x2="56.9" y2="450" stroke="#111" stroke-width="1.6"/>
<rect x="53.8" y="436.6" width="6.2" height="2.2" fill="#111" stroke="#111" stroke-width="1.5"/>
<line x1="64.6" y1="445" x2="64.6" y2="455.9" stroke="#d4002a" stroke-width="1.6"/>
<line x1="64.6" y1="460.1" x2="64.6" y2="469.2" stroke="#d4002a" stroke-width="1.6"/>
<rect x="61.5" y="455.9" width="6.2" height="4.1" fill="none" stroke="#d4002a" stroke-width="1.5"/>
<line x1="72.4" y1="423.7" x2="72.4" y2="424.2" stroke="#111" stroke-width="1.6"/>
<line x1="72.4" y1="444.7" x2="72.4" y2="445.5" stroke="#111" stroke-width="1.6"/>
<rect x="69.3" y="424.2" width="6.2" height="20.6" fill="none" stroke="#111" stroke-width="1.5"/>
<line x1="80.2" y1="412.2" x2="80.2" y2="424.4" stroke="#d4002a" stroke-width="1.6"/>
<line x1="80.2" y1="449.3" x2="80.2" y2="453.7" stroke="#d4002a" stroke-width="1.6"/>
<rect x="77.1" y="424.4" width="6.2" height="24.9" fill="#d4002a" stroke="#d4002a" stroke-width="1.5"/>
<line x1="88" y1="414.2" x2="88" y2="418.5" stroke="#111" stroke-width="1.6"/>
<line x1="88" y1="435.4" x2="88" y2="436.2" stroke="#111" stroke-width="1.6"/>
<rect x="84.9" y="418.5" width="6.2" height="16.9" fill="none" stroke="#111" stroke-width="1.5"/>
<line x1="95.8" y1="403.8" x2="95.8" y2="404.3" stroke="#111" stroke-width="1.6"/>
<line x1="95.8" y1="410.9" x2="95.8" y2="414.7" stroke="#111" stroke-width="1.6"/>
<rect x="92.7" y="404.3" width="6.2" height="6.6" fill="none" stroke="#111" stroke-width="1.5"/>
<line x1="103.6" y1="387.5" x2="103.6" y2="388.7" stroke="#111" stroke-width="1.6"/>
<line x1="103.6" y1="396.8" x2="103.6" y2="399.2" stroke="#111" stroke-width="1.6"/>
<rect x="100.5" y="388.7" width="6.2" height="8.1" fill="none" stroke="#111" stroke-width="1.5"/>
<line x1="111.3" y1="351.7" x2="111.3" y2="359.6" stroke="#111" stroke-width="1.6"/>
<line x1="111.3" y1="376.8" x2="111.3" y2="377.5" stroke="#111" stroke-width="1.6"/>
<rect x="108.2" y="359.6" width="6.2" height="17.1" fill="none" stroke="#111" stroke-width="1.5"/>
<line x1="119.1" y1="359.7" x2="119.1" y2="360.4" stroke="#d4002a" stroke-width="1.6"/>
<line x1="119.1" y1="370.9" x2="119.1" y2="377.5" stroke="#d4002a" stroke-width="1.6"/>
<rect x="116" y="360.4" width="6.2" height="10.5" fill="#d4002a" stroke="#d4002a" stroke-width="1.5"/>
<line x1="126.9" y1="362.5" x2="126.9" y2="369.9" stroke="#d4002a" stroke-width="1.6"/>
<line x1="126.9" y1="382.7" x2="126.9" y2="386.7" stroke="#d4002a" stroke-width="1.6"/>
<rect x="123.8" y="369.9" width="6.2" height="12.8" fill="#d4002a" stroke="#d4002a" stroke-width="1.5"/>
<line x1="134.7" y1="383.3" x2="134.7" y2="385.5" stroke="#d4002a" stroke-width="1.6"/>
<line x1="134.7" y1="399.2" x2="134.7" y2="407.5" stroke="#d4002a" stroke-width="1.6"/>
<rect x="131.6" y="385.5" width="6.2" height="13.8" fill="none" stroke="#d4002a" stroke-width="1.5"/>
<line x1="142.5" y1="369.2" x2="142.5" y2="380.8" stroke="#111" stroke-width="1.6"/>
<line x1="142.5" y1="385.2" x2="142.5" y2="386.7" stroke="#111" stroke-width="1.6"/>
<rect x="139.4" y="380.8" width="6.2" height="4.5" fill="#111" stroke="#111" stroke-width="1.5"/>
<line x1="150.3" y1="375" x2="150.3" y2="380.8" stroke="#d4002a" stroke-width="1.6"/>
<line x1="150.3" y1="414.6" x2="150.3" y2="417.5" stroke="#d4002a" stroke-width="1.6"/>
<rect x="147.2" y="380.8" width="6.2" height="33.9" fill="#d4002a" stroke="#d4002a" stroke-width="1.5"/>
<line x1="158.1" y1="389.2" x2="158.1" y2="406.2" stroke="#111" stroke-width="1.6"/>
<line x1="158.1" y1="406.5" x2="158.1" y2="410.8" stroke="#111" stroke-width="1.6"/>
<rect x="155" y="406.2" width="6.2" height="0.3" fill="#111" stroke="#111" stroke-width="1.5"/>
<line x1="165.8" y1="395.3" x2="165.8" y2="409.1" stroke="#d4002a" stroke-width="1.6"/>
<line x1="165.8" y1="410.1" x2="165.8" y2="411.7" stroke="#d4002a" stroke-width="1.6"/>
<rect x="162.7" y="409.1" width="6.2" height="1" fill="#d4002a" stroke="#d4002a" stroke-width="1.5"/>
<line x1="173.6" y1="397.5" x2="173.6" y2="400.8" stroke="#111" stroke-width="1.6"/>
<line x1="173.6" y1="407.2" x2="173.6" y2="421.3" stroke="#111" stroke-width="1.6"/>
<rect x="170.5" y="400.8" width="6.2" height="6.4" fill="none" stroke="#111" stroke-width="1.5"/>
<line x1="181.4" y1="394.2" x2="181.4" y2="394.7" stroke="#111" stroke-width="1.6"/>
<line x1="181.4" y1="395" x2="181.4" y2="408.3" stroke="#111" stroke-width="1.6"/>
<rect x="178.3" y="394.7" width="6.2" height="0.3" fill="none" stroke="#111" stroke-width="1.5"/>
<line x1="189.2" y1="405.8" x2="189.2" y2="407.4" stroke="#d4002a" stroke-width="1.6"/>
<line x1="189.2" y1="428.2" x2="189.2" y2="447.5" stroke="#d4002a" stroke-width="1.6"/>
<rect x="186.1" y="407.4" width="6.2" height="20.7" fill="#d4002a" stroke="#d4002a" stroke-width="1.5"/>
<line x1="197" y1="425" x2="197" y2="427.1" stroke="#d4002a" stroke-width="1.6"/>
<line x1="197" y1="433.6" x2="197" y2="435.8" stroke="#d4002a" stroke-width="1.6"/>
<rect x="193.9" y="427.1" width="6.2" height="6.5" fill="#d4002a" stroke="#d4002a" stroke-width="1.5"/>
<line x1="204.8" y1="458.5" x2="204.8" y2="459.3" stroke="#d4002a" stroke-width="1.6"/>
<line x1="204.8" y1="497.7" x2="204.8" y2="498.5" stroke="#d4002a" stroke-width="1.6"/>
<rect x="201.7" y="459.3" width="6.2" height="38.4" fill="#d4002a" stroke="#d4002a" stroke-width="1.5"/>
<line x1="212.6" y1="458.8" x2="212.6" y2="476.5" stroke="#111" stroke-width="1.6"/>
<line x1="212.6" y1="493.2" x2="212.6" y2="503.5" stroke="#111" stroke-width="1.6"/>
<rect x="209.5" y="476.5" width="6.2" height="16.8" fill="none" stroke="#111" stroke-width="1.5"/>
<line x1="220.3" y1="479.3" x2="220.3" y2="485.9" stroke="#d4002a" stroke-width="1.6"/>
<line x1="220.3" y1="498.2" x2="220.3" y2="517.7" stroke="#d4002a" stroke-width="1.6"/>
<rect x="217.2" y="485.9" width="6.2" height="12.3" fill="#d4002a" stroke="#d4002a" stroke-width="1.5"/>
<line x1="228.1" y1="465.2" x2="228.1" y2="476.4" stroke="#111" stroke-width="1.6"/>
<line x1="228.1" y1="483.3" x2="228.1" y2="492.7" stroke="#111" stroke-width="1.6"/>
<rect x="225" y="476.4" width="6.2" height="6.8" fill="none" stroke="#111" stroke-width="1.5"/>
<line x1="235.9" y1="434.3" x2="235.9" y2="444.9" stroke="#111" stroke-width="1.6"/>
<line x1="235.9" y1="461.6" x2="235.9" y2="462.3" stroke="#111" stroke-width="1.6"/>
<rect x="232.8" y="444.9" width="6.2" height="16.7" fill="none" stroke="#111" stroke-width="1.5"/>
<line x1="243.7" y1="383" x2="243.7" y2="406" stroke="#111" stroke-width="1.6"/>
<line x1="243.7" y1="424.8" x2="243.7" y2="425.5" stroke="#111" stroke-width="1.6"/>
<rect x="240.6" y="406" width="6.2" height="18.7" fill="none" stroke="#111" stroke-width="1.5"/>
<line x1="251.5" y1="360.8" x2="251.5" y2="371.6" stroke="#111" stroke-width="1.6"/>
<line x1="251.5" y1="384.2" x2="251.5" y2="385" stroke="#111" stroke-width="1.6"/>
<rect x="248.4" y="371.6" width="6.2" height="12.6" fill="none" stroke="#111" stroke-width="1.5"/>
<line x1="259.3" y1="365.8" x2="259.3" y2="372.2" stroke="#d4002a" stroke-width="1.6"/>
<line x1="259.3" y1="372.5" x2="259.3" y2="385.8" stroke="#d4002a" stroke-width="1.6"/>
<rect x="256.2" y="372.2" width="6.2" height="0.3" fill="#d4002a" stroke="#d4002a" stroke-width="1.5"/>
<line x1="267.1" y1="303.3" x2="267.1" y2="335.2" stroke="#111" stroke-width="1.6"/>
<line x1="267.1" y1="351.4" x2="267.1" y2="354.7" stroke="#111" stroke-width="1.6"/>
<rect x="263.9" y="335.2" width="6.2" height="16.2" fill="#111" stroke="#111" stroke-width="1.5"/>
<line x1="274.8" y1="347" x2="274.8" y2="353.9" stroke="#d4002a" stroke-width="1.6"/>
<line x1="274.8" y1="354.2" x2="274.8" y2="371.7" stroke="#d4002a" stroke-width="1.6"/>
<rect x="271.7" y="353.9" width="6.2" height="0.3" fill="#d4002a" stroke="#d4002a" stroke-width="1.5"/>
<line x1="282.6" y1="336.3" x2="282.6" y2="340.3" stroke="#111" stroke-width="1.6"/>
<line x1="282.6" y1="343.9" x2="282.6" y2="347.5" stroke="#111" stroke-width="1.6"/>
<rect x="279.5" y="340.3" width="6.2" height="3.6" fill="none" stroke="#111" stroke-width="1.5"/>
<line x1="290.4" y1="342" x2="290.4" y2="345.7" stroke="#d4002a" stroke-width="1.6"/>
<line x1="290.4" y1="358.2" x2="290.4" y2="368.7" stroke="#d4002a" stroke-width="1.6"/>
<rect x="287.3" y="345.7" width="6.2" height="12.4" fill="#d4002a" stroke="#d4002a" stroke-width="1.5"/>
<line x1="298.2" y1="330" x2="298.2" y2="334.1" stroke="#111" stroke-width="1.6"/>
<line x1="298.2" y1="350.4" x2="298.2" y2="351.2" stroke="#111" stroke-width="1.6"/>
<rect x="295.1" y="334.1" width="6.2" height="16.3" fill="none" stroke="#111" stroke-width="1.5"/>
<line x1="306" y1="326.7" x2="306" y2="327.5" stroke="#111" stroke-width="1.6"/>
<rect x="302.9" y="313.4" width="6.2" height="13.3" fill="none" stroke="#111" stroke-width="1.5"/>
<line x1="313.8" y1="314.2" x2="313.8" y2="321.6" stroke="#d4002a" stroke-width="1.6"/>
<line x1="313.8" y1="322" x2="313.8" y2="332.8" stroke="#d4002a" stroke-width="1.6"/>
<rect x="310.7" y="321.6" width="6.2" height="0.4" fill="#d4002a" stroke="#d4002a" stroke-width="1.5"/>
<line x1="321.5" y1="317.2" x2="321.5" y2="321.1" stroke="#d4002a" stroke-width="1.6"/>
<line x1="321.5" y1="342.7" x2="321.5" y2="343.3" stroke="#d4002a" stroke-width="1.6"/>
<rect x="318.4" y="321.1" width="6.2" height="21.7" fill="#d4002a" stroke="#d4002a" stroke-width="1.5"/>
<line x1="329.3" y1="333.3" x2="329.3" y2="335.7" stroke="#111" stroke-width="1.6"/>
<line x1="329.3" y1="346.8" x2="329.3" y2="355.8" stroke="#111" stroke-width="1.6"/>
<rect x="326.2" y="335.7" width="6.2" height="11" fill="none" stroke="#111" stroke-width="1.5"/>
<line x1="337.1" y1="336.2" x2="337.1" y2="336.9" stroke="#d4002a" stroke-width="1.6"/>
<rect x="334" y="336.9" width="6.2" height="11" fill="#d4002a" stroke="#d4002a" stroke-width="1.5"/>
<line x1="344.9" y1="331.3" x2="344.9" y2="337.8" stroke="#111" stroke-width="1.6"/>
<line x1="344.9" y1="342.3" x2="344.9" y2="351.7" stroke="#111" stroke-width="1.6"/>
<rect x="341.8" y="337.8" width="6.2" height="4.4" fill="none" stroke="#111" stroke-width="1.5"/>
<line x1="352.7" y1="305" x2="352.7" y2="309.2" stroke="#111" stroke-width="1.6"/>
<line x1="352.7" y1="328.4" x2="352.7" y2="329.2" stroke="#111" stroke-width="1.6"/>
<rect x="349.6" y="309.2" width="6.2" height="19.2" fill="none" stroke="#111" stroke-width="1.5"/>
<line x1="360.5" y1="308.3" x2="360.5" y2="309.1" stroke="#d4002a" stroke-width="1.6"/>
<line x1="360.5" y1="312.1" x2="360.5" y2="318.7" stroke="#d4002a" stroke-width="1.6"/>
<rect x="357.4" y="309.1" width="6.2" height="3" fill="#d4002a" stroke="#d4002a" stroke-width="1.5"/>
<line x1="368.3" y1="304.7" x2="368.3" y2="307.4" stroke="#111" stroke-width="1.6"/>
<line x1="368.3" y1="307.8" x2="368.3" y2="312.5" stroke="#111" stroke-width="1.6"/>
<rect x="365.2" y="307.4" width="6.2" height="0.4" fill="#111" stroke="#111" stroke-width="1.5"/>
<line x1="376" y1="310" x2="376" y2="310.8" stroke="#d4002a" stroke-width="1.6"/>
<line x1="376" y1="316" x2="376" y2="329.7" stroke="#d4002a" stroke-width="1.6"/>
<rect x="372.9" y="310.8" width="6.2" height="5.3" fill="#d4002a" stroke="#d4002a" stroke-width="1.5"/>
<line x1="383.8" y1="288.3" x2="383.8" y2="296" stroke="#111" stroke-width="1.6"/>
<line x1="383.8" y1="303.4" x2="383.8" y2="304.2" stroke="#111" stroke-width="1.6"/>
<rect x="380.7" y="296" width="6.2" height="7.4" fill="none" stroke="#111" stroke-width="1.5"/>
<line x1="391.6" y1="291.7" x2="391.6" y2="292.8" stroke="#111" stroke-width="1.6"/>
<line x1="391.6" y1="300.1" x2="391.6" y2="305.8" stroke="#111" stroke-width="1.6"/>
<rect x="388.5" y="292.8" width="6.2" height="7.3" fill="none" stroke="#111" stroke-width="1.5"/>
<line x1="399.4" y1="286.3" x2="399.4" y2="293.3" stroke="#d4002a" stroke-width="1.6"/>
<line x1="399.4" y1="293.9" x2="399.4" y2="300" stroke="#d4002a" stroke-width="1.6"/>
<rect x="396.3" y="293.3" width="6.2" height="0.7" fill="#d4002a" stroke="#d4002a" stroke-width="1.5"/>
<line x1="407.2" y1="290.4" x2="407.2" y2="291.2" stroke="#111" stroke-width="1.6"/>
<rect x="404.1" y="278.2" width="6.2" height="12.2" fill="none" stroke="#111" stroke-width="1.5"/>
<line x1="415" y1="277.5" x2="415" y2="280.8" stroke="#d4002a" stroke-width="1.6"/>
<line x1="415" y1="281.7" x2="415" y2="288.7" stroke="#d4002a" stroke-width="1.6"/>
<rect x="411.9" y="280.8" width="6.2" height="1" fill="#d4002a" stroke="#d4002a" stroke-width="1.5"/>
<line x1="422.8" y1="274.2" x2="422.8" y2="276.7" stroke="#111" stroke-width="1.6"/>
<line x1="422.8" y1="286.8" x2="422.8" y2="288.7" stroke="#111" stroke-width="1.6"/>
<rect x="419.6" y="276.7" width="6.2" height="10" fill="none" stroke="#111" stroke-width="1.5"/>
<line x1="430.5" y1="270.8" x2="430.5" y2="275.2" stroke="#d4002a" stroke-width="1.6"/>
<line x1="430.5" y1="291" x2="430.5" y2="298.3" stroke="#d4002a" stroke-width="1.6"/>
<rect x="427.4" y="275.2" width="6.2" height="15.7" fill="#d4002a" stroke="#d4002a" stroke-width="1.5"/>
<line x1="438.3" y1="288.3" x2="438.3" y2="293.3" stroke="#d4002a" stroke-width="1.6"/>
<line x1="438.3" y1="296.7" x2="438.3" y2="305" stroke="#d4002a" stroke-width="1.6"/>
<rect x="435.2" y="293.3" width="6.2" height="3.5" fill="none" stroke="#d4002a" stroke-width="1.5"/>
<line x1="446.1" y1="293.7" x2="446.1" y2="295.5" stroke="#d4002a" stroke-width="1.6"/>
<line x1="446.1" y1="298.4" x2="446.1" y2="310.8" stroke="#d4002a" stroke-width="1.6"/>
<rect x="443" y="295.5" width="6.2" height="2.9" fill="none" stroke="#d4002a" stroke-width="1.5"/>
<line x1="453.9" y1="278.3" x2="453.9" y2="290.4" stroke="#d4002a" stroke-width="1.6"/>
<line x1="453.9" y1="303.3" x2="453.9" y2="304.2" stroke="#d4002a" stroke-width="1.6"/>
<rect x="450.8" y="290.4" width="6.2" height="12.9" fill="#d4002a" stroke="#d4002a" stroke-width="1.5"/>
<line x1="461.7" y1="294.6" x2="461.7" y2="298.3" stroke="#111" stroke-width="1.6"/>
<rect x="458.6" y="280.4" width="6.2" height="14.2" fill="none" stroke="#111" stroke-width="1.5"/>
<line x1="469.5" y1="272.5" x2="469.5" y2="277.3" stroke="#111" stroke-width="1.6"/>
<line x1="469.5" y1="277.6" x2="469.5" y2="284.2" stroke="#111" stroke-width="1.6"/>
<rect x="466.4" y="277.3" width="6.2" height="0.3" fill="#111" stroke="#111" stroke-width="1.5"/>
<line x1="477.2" y1="270.9" x2="477.2" y2="273.3" stroke="#111" stroke-width="1.6"/>
<rect x="474.1" y="267" width="6.2" height="3.9" fill="none" stroke="#111" stroke-width="1.5"/>
<line x1="485" y1="264.2" x2="485" y2="267.1" stroke="#d4002a" stroke-width="1.6"/>
<line x1="485" y1="273.3" x2="485" y2="285.8" stroke="#d4002a" stroke-width="1.6"/>
<rect x="481.9" y="267.1" width="6.2" height="6.2" fill="#d4002a" stroke="#d4002a" stroke-width="1.5"/>
<line x1="492.8" y1="275.8" x2="492.8" y2="280.3" stroke="#d4002a" stroke-width="1.6"/>
<line x1="492.8" y1="284.3" x2="492.8" y2="309.7" stroke="#d4002a" stroke-width="1.6"/>
<rect x="489.7" y="280.3" width="6.2" height="4" fill="none" stroke="#d4002a" stroke-width="1.5"/>
<line x1="500.6" y1="278.7" x2="500.6" y2="279.9" stroke="#d4002a" stroke-width="1.6"/>
<line x1="500.6" y1="284" x2="500.6" y2="290" stroke="#d4002a" stroke-width="1.6"/>
<rect x="497.5" y="279.9" width="6.2" height="4.1" fill="#d4002a" stroke="#d4002a" stroke-width="1.5"/>
<line x1="508.4" y1="272.5" x2="508.4" y2="281.6" stroke="#111" stroke-width="1.6"/>
<line x1="508.4" y1="282.6" x2="508.4" y2="284.2" stroke="#111" stroke-width="1.6"/>
<rect x="505.3" y="281.6" width="6.2" height="1.1" fill="#111" stroke="#111" stroke-width="1.5"/>
<line x1="516.2" y1="280.6" x2="516.2" y2="285" stroke="#111" stroke-width="1.6"/>
<rect x="513.1" y="276.4" width="6.2" height="4.2" fill="none" stroke="#111" stroke-width="1.5"/>
<line x1="524" y1="258.7" x2="524" y2="260.9" stroke="#111" stroke-width="1.6"/>
<line x1="524" y1="266.2" x2="524" y2="267" stroke="#111" stroke-width="1.6"/>
<rect x="520.9" y="260.9" width="6.2" height="5.4" fill="none" stroke="#111" stroke-width="1.5"/>
<line x1="531.7" y1="250.3" x2="531.7" y2="254.9" stroke="#d4002a" stroke-width="1.6"/>
<line x1="531.7" y1="264.8" x2="531.7" y2="267.5" stroke="#d4002a" stroke-width="1.6"/>
<rect x="528.6" y="254.9" width="6.2" height="9.9" fill="#d4002a" stroke="#d4002a" stroke-width="1.5"/>
<line x1="539.5" y1="259.2" x2="539.5" y2="261.6" stroke="#111" stroke-width="1.6"/>
<line x1="539.5" y1="262.4" x2="539.5" y2="263.3" stroke="#111" stroke-width="1.6"/>
<rect x="536.4" y="261.6" width="6.2" height="0.9" fill="#111" stroke="#111" stroke-width="1.5"/>
<line x1="547.3" y1="249.2" x2="547.3" y2="251" stroke="#111" stroke-width="1.6"/>
<line x1="547.3" y1="260.9" x2="547.3" y2="265.3" stroke="#111" stroke-width="1.6"/>
<rect x="544.2" y="251" width="6.2" height="9.9" fill="none" stroke="#111" stroke-width="1.5"/>
<line x1="555.1" y1="244.2" x2="555.1" y2="247.4" stroke="#d4002a" stroke-width="1.6"/>
<line x1="555.1" y1="277.5" x2="555.1" y2="296.7" stroke="#d4002a" stroke-width="1.6"/>
<rect x="552" y="247.4" width="6.2" height="30.1" fill="#d4002a" stroke="#d4002a" stroke-width="1.5"/>
<line x1="562.9" y1="260" x2="562.9" y2="264.9" stroke="#111" stroke-width="1.6"/>
<line x1="562.9" y1="277.6" x2="562.9" y2="280.8" stroke="#111" stroke-width="1.6"/>
<rect x="559.8" y="264.9" width="6.2" height="12.7" fill="none" stroke="#111" stroke-width="1.5"/>
<line x1="570.7" y1="238.3" x2="570.7" y2="254.8" stroke="#111" stroke-width="1.6"/>
<line x1="570.7" y1="272.1" x2="570.7" y2="275.8" stroke="#111" stroke-width="1.6"/>
<rect x="567.6" y="254.8" width="6.2" height="17.3" fill="none" stroke="#111" stroke-width="1.5"/>
<line x1="578.5" y1="224.2" x2="578.5" y2="228.5" stroke="#111" stroke-width="1.6"/>
<line x1="578.5" y1="245.6" x2="578.5" y2="246.3" stroke="#111" stroke-width="1.6"/>
<rect x="575.4" y="228.5" width="6.2" height="17.1" fill="none" stroke="#111" stroke-width="1.5"/>
<line x1="586.2" y1="218.3" x2="586.2" y2="218.7" stroke="#111" stroke-width="1.6"/>
<line x1="586.2" y1="222.1" x2="586.2" y2="239.7" stroke="#111" stroke-width="1.6"/>
<rect x="583.1" y="218.7" width="6.2" height="3.4" fill="none" stroke="#111" stroke-width="1.5"/>
<line x1="594" y1="221.2" x2="594" y2="229.9" stroke="#d4002a" stroke-width="1.6"/>
<line x1="594" y1="230.4" x2="594" y2="235.8" stroke="#d4002a" stroke-width="1.6"/>
<rect x="590.9" y="229.9" width="6.2" height="0.5" fill="#d4002a" stroke="#d4002a" stroke-width="1.5"/>
<line x1="601.8" y1="226.3" x2="601.8" y2="229.7" stroke="#111" stroke-width="1.6"/>
<line x1="601.8" y1="230" x2="601.8" y2="242" stroke="#111" stroke-width="1.6"/>
<rect x="598.7" y="229.7" width="6.2" height="0.3" fill="none" stroke="#111" stroke-width="1.5"/>
<line x1="609.6" y1="219.7" x2="609.6" y2="225.6" stroke="#111" stroke-width="1.6"/>
<line x1="609.6" y1="228.9" x2="609.6" y2="234.2" stroke="#111" stroke-width="1.6"/>
<rect x="606.5" y="225.6" width="6.2" height="3.3" fill="none" stroke="#111" stroke-width="1.5"/>
<line x1="617.4" y1="219.7" x2="617.4" y2="222.4" stroke="#d4002a" stroke-width="1.6"/>
<line x1="617.4" y1="232.3" x2="617.4" y2="234.7" stroke="#d4002a" stroke-width="1.6"/>
<rect x="614.3" y="222.4" width="6.2" height="9.9" fill="#d4002a" stroke="#d4002a" stroke-width="1.5"/>
<line x1="625.2" y1="235" x2="625.2" y2="235.8" stroke="#d4002a" stroke-width="1.6"/>
<line x1="625.2" y1="245.2" x2="625.2" y2="254.7" stroke="#d4002a" stroke-width="1.6"/>
<rect x="622.1" y="235.8" width="6.2" height="9.5" fill="#d4002a" stroke="#d4002a" stroke-width="1.5"/>
<line x1="632.9" y1="227.5" x2="632.9" y2="230.8" stroke="#111" stroke-width="1.6"/>
<line x1="632.9" y1="238.8" x2="632.9" y2="240.8" stroke="#111" stroke-width="1.6"/>
<rect x="629.8" y="230.8" width="6.2" height="8" fill="none" stroke="#111" stroke-width="1.5"/>
<line x1="640.7" y1="202.5" x2="640.7" y2="206.1" stroke="#111" stroke-width="1.6"/>
<line x1="640.7" y1="222.2" x2="640.7" y2="223" stroke="#111" stroke-width="1.6"/>
<rect x="637.6" y="206.1" width="6.2" height="16.2" fill="none" stroke="#111" stroke-width="1.5"/>
<line x1="648.5" y1="200.8" x2="648.5" y2="204.9" stroke="#111" stroke-width="1.6"/>
<line x1="648.5" y1="205.5" x2="648.5" y2="210" stroke="#111" stroke-width="1.6"/>
<rect x="645.4" y="204.9" width="6.2" height="0.6" fill="#111" stroke="#111" stroke-width="1.5"/>
<line x1="656.3" y1="205.3" x2="656.3" y2="208.8" stroke="#d4002a" stroke-width="1.6"/>
<line x1="656.3" y1="210.9" x2="656.3" y2="217.5" stroke="#d4002a" stroke-width="1.6"/>
<rect x="653.2" y="208.8" width="6.2" height="2.1" fill="#d4002a" stroke="#d4002a" stroke-width="1.5"/>
<line x1="664.1" y1="203.3" x2="664.1" y2="204.1" stroke="#111" stroke-width="1.6"/>
<line x1="664.1" y1="204.4" x2="664.1" y2="232.5" stroke="#111" stroke-width="1.6"/>
<rect x="661" y="204.1" width="6.2" height="0.4" fill="#111" stroke="#111" stroke-width="1.5"/>
<line x1="671.9" y1="198" x2="671.9" y2="201.9" stroke="#d4002a" stroke-width="1.6"/>
<line x1="671.9" y1="207.1" x2="671.9" y2="207.5" stroke="#d4002a" stroke-width="1.6"/>
<rect x="668.8" y="201.9" width="6.2" height="5.2" fill="#d4002a" stroke="#d4002a" stroke-width="1.5"/>
<line x1="679.7" y1="213.3" x2="679.7" y2="214.1" stroke="#d4002a" stroke-width="1.6"/>
<line x1="679.7" y1="253.5" x2="679.7" y2="262.5" stroke="#d4002a" stroke-width="1.6"/>
<rect x="676.6" y="214.1" width="6.2" height="39.4" fill="#d4002a" stroke="#d4002a" stroke-width="1.5"/>
<line x1="687.4" y1="216.3" x2="687.4" y2="236.2" stroke="#111" stroke-width="1.6"/>
<line x1="687.4" y1="250.1" x2="687.4" y2="250.8" stroke="#111" stroke-width="1.6"/>
<rect x="684.3" y="236.2" width="6.2" height="13.9" fill="none" stroke="#111" stroke-width="1.5"/>
<line x1="695.2" y1="240" x2="695.2" y2="240.7" stroke="#d4002a" stroke-width="1.6"/>
<line x1="695.2" y1="271" x2="695.2" y2="281.7" stroke="#d4002a" stroke-width="1.6"/>
<rect x="692.1" y="240.7" width="6.2" height="30.2" fill="#d4002a" stroke="#d4002a" stroke-width="1.5"/>
<line x1="703" y1="236.3" x2="703" y2="242.6" stroke="#111" stroke-width="1.6"/>
<line x1="703" y1="262.9" x2="703" y2="265.3" stroke="#111" stroke-width="1.6"/>
<rect x="699.9" y="242.6" width="6.2" height="20.4" fill="none" stroke="#111" stroke-width="1.5"/>
<line x1="710.8" y1="210.3" x2="710.8" y2="217.9" stroke="#111" stroke-width="1.6"/>
<line x1="710.8" y1="233.4" x2="710.8" y2="234.2" stroke="#111" stroke-width="1.6"/>
<rect x="707.7" y="217.9" width="6.2" height="15.5" fill="none" stroke="#111" stroke-width="1.5"/>
<line x1="718.6" y1="208.7" x2="718.6" y2="213.3" stroke="#111" stroke-width="1.6"/>
<line x1="718.6" y1="216.1" x2="718.6" y2="223.3" stroke="#111" stroke-width="1.6"/>
<rect x="715.5" y="213.3" width="6.2" height="2.9" fill="#111" stroke="#111" stroke-width="1.5"/>
<line x1="726.4" y1="212.9" x2="726.4" y2="213.7" stroke="#111" stroke-width="1.6"/>
<rect x="723.3" y="196.9" width="6.2" height="16" fill="none" stroke="#111" stroke-width="1.5"/>
<line x1="734.1" y1="187.5" x2="734.1" y2="189.9" stroke="#111" stroke-width="1.6"/>
<line x1="734.1" y1="193.4" x2="734.1" y2="195.8" stroke="#111" stroke-width="1.6"/>
<rect x="731" y="189.9" width="6.2" height="3.5" fill="none" stroke="#111" stroke-width="1.5"/>
<line x1="741.9" y1="176.3" x2="741.9" y2="176.8" stroke="#111" stroke-width="1.6"/>
<line x1="741.9" y1="186.8" x2="741.9" y2="187.5" stroke="#111" stroke-width="1.6"/>
<rect x="738.8" y="176.8" width="6.2" height="10" fill="none" stroke="#111" stroke-width="1.5"/>
<line x1="749.7" y1="176.3" x2="749.7" y2="178.8" stroke="#d4002a" stroke-width="1.6"/>
<line x1="749.7" y1="179.1" x2="749.7" y2="183.7" stroke="#d4002a" stroke-width="1.6"/>
<rect x="746.6" y="178.8" width="6.2" height="0.3" fill="#d4002a" stroke="#d4002a" stroke-width="1.5"/>
<line x1="757.5" y1="170" x2="757.5" y2="174.9" stroke="#d4002a" stroke-width="1.6"/>
<line x1="757.5" y1="179.4" x2="757.5" y2="190.8" stroke="#d4002a" stroke-width="1.6"/>
<rect x="754.4" y="174.9" width="6.2" height="4.5" fill="#d4002a" stroke="#d4002a" stroke-width="1.5"/>
<line x1="765.3" y1="171.3" x2="765.3" y2="176.4" stroke="#111" stroke-width="1.6"/>
<line x1="765.3" y1="176.7" x2="765.3" y2="189.7" stroke="#111" stroke-width="1.6"/>
<rect x="762.2" y="176.4" width="6.2" height="0.3" fill="#111" stroke="#111" stroke-width="1.5"/>
<line x1="773.1" y1="166.7" x2="773.1" y2="168" stroke="#111" stroke-width="1.6"/>
<line x1="773.1" y1="178.9" x2="773.1" y2="181.7" stroke="#111" stroke-width="1.6"/>
<rect x="770" y="168" width="6.2" height="10.9" fill="none" stroke="#111" stroke-width="1.5"/>
<line x1="780.9" y1="160.5" x2="780.9" y2="165.7" stroke="#d4002a" stroke-width="1.6"/>
<line x1="780.9" y1="169.1" x2="780.9" y2="173.3" stroke="#d4002a" stroke-width="1.6"/>
<rect x="777.8" y="165.7" width="6.2" height="3.3" fill="#d4002a" stroke="#d4002a" stroke-width="1.5"/>
<line x1="788.6" y1="168" x2="788.6" y2="169.6" stroke="#d4002a" stroke-width="1.6"/>
<line x1="788.6" y1="175.6" x2="788.6" y2="184.7" stroke="#d4002a" stroke-width="1.6"/>
<rect x="785.5" y="169.6" width="6.2" height="5.9" fill="none" stroke="#d4002a" stroke-width="1.5"/>
<line x1="796.4" y1="174.2" x2="796.4" y2="177.1" stroke="#d4002a" stroke-width="1.6"/>
<line x1="796.4" y1="177.5" x2="796.4" y2="190.8" stroke="#d4002a" stroke-width="1.6"/>
<rect x="793.3" y="177.1" width="6.2" height="0.4" fill="#d4002a" stroke="#d4002a" stroke-width="1.5"/>
<line x1="804.2" y1="170" x2="804.2" y2="174.9" stroke="#d4002a" stroke-width="1.6"/>
<line x1="804.2" y1="180.8" x2="804.2" y2="183.3" stroke="#d4002a" stroke-width="1.6"/>
<rect x="801.1" y="174.9" width="6.2" height="5.9" fill="#d4002a" stroke="#d4002a" stroke-width="1.5"/>
<line x1="812" y1="182.5" x2="812" y2="190.7" stroke="#d4002a" stroke-width="1.6"/>
<line x1="812" y1="194.7" x2="812" y2="195.3" stroke="#d4002a" stroke-width="1.6"/>
<rect x="808.9" y="190.7" width="6.2" height="3.9" fill="#d4002a" stroke="#d4002a" stroke-width="1.5"/>
<line x1="819.8" y1="185.8" x2="819.8" y2="192.5" stroke="#111" stroke-width="1.6"/>
<line x1="819.8" y1="203.4" x2="819.8" y2="228.3" stroke="#111" stroke-width="1.6"/>
<rect x="816.7" y="192.5" width="6.2" height="11" fill="none" stroke="#111" stroke-width="1.5"/>
<line x1="827.6" y1="171.3" x2="827.6" y2="172.3" stroke="#111" stroke-width="1.6"/>
<line x1="827.6" y1="196.3" x2="827.6" y2="203.3" stroke="#111" stroke-width="1.6"/>
<rect x="824.5" y="172.3" width="6.2" height="23.9" fill="none" stroke="#111" stroke-width="1.5"/>
<line x1="835.4" y1="173" x2="835.4" y2="176.6" stroke="#d4002a" stroke-width="1.6"/>
<line x1="835.4" y1="216.5" x2="835.4" y2="225.8" stroke="#d4002a" stroke-width="1.6"/>
<rect x="832.3" y="176.6" width="6.2" height="39.9" fill="#d4002a" stroke="#d4002a" stroke-width="1.5"/>
<line x1="843.1" y1="200.8" x2="843.1" y2="212.7" stroke="#d4002a" stroke-width="1.6"/>
<line x1="843.1" y1="225" x2="843.1" y2="235.8" stroke="#d4002a" stroke-width="1.6"/>
<rect x="840" y="212.7" width="6.2" height="12.3" fill="#d4002a" stroke="#d4002a" stroke-width="1.5"/>
<line x1="850.9" y1="177.5" x2="850.9" y2="183.1" stroke="#111" stroke-width="1.6"/>
<line x1="850.9" y1="210.4" x2="850.9" y2="211.2" stroke="#111" stroke-width="1.6"/>
<rect x="847.8" y="183.1" width="6.2" height="27.3" fill="none" stroke="#111" stroke-width="1.5"/>
<line x1="858.7" y1="180" x2="858.7" y2="183.3" stroke="#d4002a" stroke-width="1.6"/>
<line x1="858.7" y1="197.6" x2="858.7" y2="198.3" stroke="#d4002a" stroke-width="1.6"/>
<rect x="855.6" y="183.3" width="6.2" height="14.3" fill="#d4002a" stroke="#d4002a" stroke-width="1.5"/>
<line x1="866.5" y1="195.8" x2="866.5" y2="201.6" stroke="#d4002a" stroke-width="1.6"/>
<line x1="866.5" y1="221" x2="866.5" y2="221.3" stroke="#d4002a" stroke-width="1.6"/>
<rect x="863.4" y="201.6" width="6.2" height="19.4" fill="#d4002a" stroke="#d4002a" stroke-width="1.5"/>
<line x1="874.3" y1="210" x2="874.3" y2="222.7" stroke="#d4002a" stroke-width="1.6"/>
<line x1="874.3" y1="245.1" x2="874.3" y2="267.5" stroke="#d4002a" stroke-width="1.6"/>
<rect x="871.2" y="222.7" width="6.2" height="22.4" fill="#d4002a" stroke="#d4002a" stroke-width="1.5"/>
<line x1="882.1" y1="205.3" x2="882.1" y2="210.7" stroke="#111" stroke-width="1.6"/>
<line x1="882.1" y1="233.4" x2="882.1" y2="263.7" stroke="#111" stroke-width="1.6"/>
<rect x="879" y="210.7" width="6.2" height="22.7" fill="none" stroke="#111" stroke-width="1.5"/>
<line x1="889.9" y1="193.3" x2="889.9" y2="209.1" stroke="#d4002a" stroke-width="1.6"/>
<line x1="889.9" y1="220.3" x2="889.9" y2="221.3" stroke="#d4002a" stroke-width="1.6"/>
<rect x="886.8" y="209.1" width="6.2" height="11.2" fill="#d4002a" stroke="#d4002a" stroke-width="1.5"/>
<line x1="897.6" y1="182" x2="897.6" y2="195.2" stroke="#111" stroke-width="1.6"/>
<line x1="897.6" y1="205.4" x2="897.6" y2="206.2" stroke="#111" stroke-width="1.6"/>
<rect x="894.5" y="195.2" width="6.2" height="10.2" fill="none" stroke="#111" stroke-width="1.5"/>
<line x1="905.4" y1="176.3" x2="905.4" y2="184.5" stroke="#111" stroke-width="1.6"/>
<line x1="905.4" y1="186.8" x2="905.4" y2="190.8" stroke="#111" stroke-width="1.6"/>
<rect x="902.3" y="184.5" width="6.2" height="2.3" fill="none" stroke="#111" stroke-width="1.5"/>
<line x1="913.2" y1="155.8" x2="913.2" y2="166" stroke="#111" stroke-width="1.6"/>
<line x1="913.2" y1="175.6" x2="913.2" y2="176.3" stroke="#111" stroke-width="1.6"/>
<rect x="910.1" y="166" width="6.2" height="9.6" fill="none" stroke="#111" stroke-width="1.5"/>
<line x1="921" y1="163.7" x2="921" y2="164.2" stroke="#111" stroke-width="1.6"/>
<line x1="921" y1="172.6" x2="921" y2="178.7" stroke="#111" stroke-width="1.6"/>
<rect x="917.9" y="164.2" width="6.2" height="8.4" fill="none" stroke="#111" stroke-width="1.5"/>
<line x1="928.8" y1="162.9" x2="928.8" y2="173.3" stroke="#111" stroke-width="1.6"/>
<rect x="925.7" y="152.6" width="6.2" height="10.3" fill="none" stroke="#111" stroke-width="1.5"/>
<line x1="936.6" y1="146.3" x2="936.6" y2="151.6" stroke="#d4002a" stroke-width="1.6"/>
<line x1="936.6" y1="155.5" x2="936.6" y2="160" stroke="#d4002a" stroke-width="1.6"/>
<rect x="933.5" y="151.6" width="6.2" height="3.9" fill="#d4002a" stroke="#d4002a" stroke-width="1.5"/>
<line x1="944.3" y1="146.3" x2="944.3" y2="150.3" stroke="#111" stroke-width="1.6"/>
<line x1="944.3" y1="161.7" x2="944.3" y2="169.2" stroke="#111" stroke-width="1.6"/>
<rect x="941.2" y="150.3" width="6.2" height="11.4" fill="none" stroke="#111" stroke-width="1.5"/>
<line x1="952.1" y1="152.5" x2="952.1" y2="159.9" stroke="#d4002a" stroke-width="1.6"/>
<line x1="952.1" y1="176.9" x2="952.1" y2="179.7" stroke="#d4002a" stroke-width="1.6"/>
<rect x="949" y="159.9" width="6.2" height="16.9" fill="#d4002a" stroke="#d4002a" stroke-width="1.5"/>
<line x1="959.9" y1="170" x2="959.9" y2="177.4" stroke="#d4002a" stroke-width="1.6"/>
<line x1="959.9" y1="177.9" x2="959.9" y2="189.7" stroke="#d4002a" stroke-width="1.6"/>
<rect x="956.8" y="177.4" width="6.2" height="0.5" fill="#d4002a" stroke="#d4002a" stroke-width="1.5"/>
<line x1="967.7" y1="159.2" x2="967.7" y2="165.4" stroke="#111" stroke-width="1.6"/>
<line x1="967.7" y1="175.9" x2="967.7" y2="178" stroke="#111" stroke-width="1.6"/>
<rect x="964.6" y="165.4" width="6.2" height="10.5" fill="none" stroke="#111" stroke-width="1.5"/>
<line x1="975.5" y1="162.5" x2="975.5" y2="167.1" stroke="#d4002a" stroke-width="1.6"/>
<line x1="975.5" y1="179.1" x2="975.5" y2="185" stroke="#d4002a" stroke-width="1.6"/>
<rect x="972.4" y="167.1" width="6.2" height="12" fill="#d4002a" stroke="#d4002a" stroke-width="1.5"/>
<line x1="983.3" y1="165" x2="983.3" y2="174.1" stroke="#d4002a" stroke-width="1.6"/>
<rect x="980.2" y="174.1" width="6.2" height="14.8" fill="#d4002a" stroke="#d4002a" stroke-width="1.5"/>
<line x1="991.1" y1="174.2" x2="991.1" y2="179.6" stroke="#111" stroke-width="1.6"/>
<line x1="991.1" y1="192.6" x2="991.1" y2="205.3" stroke="#111" stroke-width="1.6"/>
<rect x="988" y="179.6" width="6.2" height="13" fill="none" stroke="#111" stroke-width="1.5"/>
<line x1="998.8" y1="148" x2="998.8" y2="150.1" stroke="#111" stroke-width="1.6"/>
<line x1="998.8" y1="175.4" x2="998.8" y2="176.2" stroke="#111" stroke-width="1.6"/>
<rect x="995.7" y="150.1" width="6.2" height="25.3" fill="none" stroke="#111" stroke-width="1.5"/>
<line x1="1006.6" y1="146.3" x2="1006.6" y2="151.6" stroke="#d4002a" stroke-width="1.6"/>
<line x1="1006.6" y1="151.9" x2="1006.6" y2="164.7" stroke="#d4002a" stroke-width="1.6"/>
<rect x="1003.5" y="151.6" width="6.2" height="0.3" fill="#d4002a" stroke="#d4002a" stroke-width="1.5"/>
<line x1="1014.4" y1="152.5" x2="1014.4" y2="157.1" stroke="#d4002a" stroke-width="1.6"/>
<line x1="1014.4" y1="157.4" x2="1014.4" y2="164.7" stroke="#d4002a" stroke-width="1.6"/>
<rect x="1011.3" y="157.1" width="6.2" height="0.3" fill="#d4002a" stroke="#d4002a" stroke-width="1.5"/>
<line x1="1022.2" y1="142.2" x2="1022.2" y2="151.7" stroke="#111" stroke-width="1.6"/>
<line x1="1022.2" y1="153.4" x2="1022.2" y2="155.3" stroke="#111" stroke-width="1.6"/>
<rect x="1019.1" y="151.7" width="6.2" height="1.7" fill="#111" stroke="#111" stroke-width="1.5"/>
<line x1="1030" y1="141.4" x2="1030" y2="142.2" stroke="#111" stroke-width="1.6"/>
<rect x="1026.9" y="129.9" width="6.2" height="11.5" fill="none" stroke="#111" stroke-width="1.5"/>
<line x1="1037.8" y1="101.3" x2="1037.8" y2="104.3" stroke="#111" stroke-width="1.6"/>
<line x1="1037.8" y1="122.3" x2="1037.8" y2="123" stroke="#111" stroke-width="1.6"/>
<rect x="1034.7" y="104.3" width="6.2" height="17.9" fill="none" stroke="#111" stroke-width="1.5"/>
<line x1="1045.6" y1="101.3" x2="1045.6" y2="106.1" stroke="#d4002a" stroke-width="1.6"/>
<line x1="1045.6" y1="106.4" x2="1045.6" y2="110" stroke="#d4002a" stroke-width="1.6"/>
<rect x="1042.5" y="106.1" width="6.2" height="0.3" fill="#d4002a" stroke="#d4002a" stroke-width="1.5"/>
<line x1="1053.3" y1="101.3" x2="1053.3" y2="103.4" stroke="#111" stroke-width="1.6"/>
<line x1="1053.3" y1="105.9" x2="1053.3" y2="110" stroke="#111" stroke-width="1.6"/>
<rect x="1050.2" y="103.4" width="6.2" height="2.5" fill="none" stroke="#111" stroke-width="1.5"/>
<line x1="1061.1" y1="99.2" x2="1061.1" y2="103.7" stroke="#111" stroke-width="1.6"/>
<rect x="1058" y="95.9" width="6.2" height="3.3" fill="none" stroke="#111" stroke-width="1.5"/>
<line x1="1068.9" y1="96.4" x2="1068.9" y2="97.2" stroke="#111" stroke-width="1.6"/>
<rect x="1065.8" y="82.2" width="6.2" height="14.2" fill="none" stroke="#111" stroke-width="1.5"/>
<line x1="1076.7" y1="80.8" x2="1076.7" y2="82.6" stroke="#d4002a" stroke-width="1.6"/>
<line x1="1076.7" y1="84" x2="1076.7" y2="89.7" stroke="#d4002a" stroke-width="1.6"/>
<rect x="1073.6" y="82.6" width="6.2" height="1.4" fill="none" stroke="#d4002a" stroke-width="1.5"/>
<line x1="1084.5" y1="73.3" x2="1084.5" y2="76.7" stroke="#111" stroke-width="1.6"/>
<line x1="1084.5" y1="80.6" x2="1084.5" y2="85.8" stroke="#111" stroke-width="1.6"/>
<rect x="1081.4" y="76.7" width="6.2" height="3.9" fill="none" stroke="#111" stroke-width="1.5"/>
<line x1="1092.3" y1="72" x2="1092.3" y2="76.6" stroke="#d4002a" stroke-width="1.6"/>
<line x1="1092.3" y1="84" x2="1092.3" y2="86.7" stroke="#d4002a" stroke-width="1.6"/>
<rect x="1089.2" y="76.6" width="6.2" height="7.4" fill="#d4002a" stroke="#d4002a" stroke-width="1.5"/>
<line x1="1100" y1="62.5" x2="1100" y2="64.3" stroke="#111" stroke-width="1.6"/>
<line x1="1100" y1="77.2" x2="1100" y2="78" stroke="#111" stroke-width="1.6"/>
<rect x="1096.9" y="64.3" width="6.2" height="12.9" fill="none" stroke="#111" stroke-width="1.5"/>
<line x1="1107.8" y1="54.7" x2="1107.8" y2="57.9" stroke="#111" stroke-width="1.6"/>
<line x1="1107.8" y1="62.2" x2="1107.8" y2="64.7" stroke="#111" stroke-width="1.6"/>
<rect x="1104.7" y="57.9" width="6.2" height="4.4" fill="none" stroke="#111" stroke-width="1.5"/>
<line x1="1115.6" y1="59.7" x2="1115.6" y2="62.1" stroke="#d4002a" stroke-width="1.6"/>
<line x1="1115.6" y1="67.4" x2="1115.6" y2="74.7" stroke="#d4002a" stroke-width="1.6"/>
<rect x="1112.5" y="62.1" width="6.2" height="5.3" fill="#d4002a" stroke="#d4002a" stroke-width="1.5"/>
</g>
<rect x="30.5" y="44.5" width="1095.5" height="483.0" fill="none" stroke="#adadad" stroke-width="1.3"/>
<line x1="1126.0" y1="525.7" x2="1127.8" y2="525.7" stroke="#aaa" stroke-width="1"/>
<line x1="1126.0" y1="520.2" x2="1127.8" y2="520.2" stroke="#aaa" stroke-width="1"/>
<line x1="1126.0" y1="514.7" x2="1127.8" y2="514.7" stroke="#aaa" stroke-width="1"/>
<line x1="1126.0" y1="509.2" x2="1129.0" y2="509.2" stroke="#aaa" stroke-width="1"/>
<line x1="1126.0" y1="503.7" x2="1127.8" y2="503.7" stroke="#aaa" stroke-width="1"/>
<line x1="1126.0" y1="498.2" x2="1127.8" y2="498.2" stroke="#aaa" stroke-width="1"/>
<line x1="1126.0" y1="492.8" x2="1127.8" y2="492.8" stroke="#aaa" stroke-width="1"/>
<line x1="1126.0" y1="487.3" x2="1127.8" y2="487.3" stroke="#aaa" stroke-width="1"/>
<line x1="1126.0" y1="481.9" x2="1129.0" y2="481.9" stroke="#aaa" stroke-width="1"/>
<line x1="1126.0" y1="476.5" x2="1127.8" y2="476.5" stroke="#aaa" stroke-width="1"/>
<line x1="1126.0" y1="471.2" x2="1127.8" y2="471.2" stroke="#aaa" stroke-width="1"/>
<line x1="1126.0" y1="465.8" x2="1127.8" y2="465.8" stroke="#aaa" stroke-width="1"/>
<line x1="1126.0" y1="460.4" x2="1127.8" y2="460.4" stroke="#aaa" stroke-width="1"/>
<line x1="1126.0" y1="455.1" x2="1129.0" y2="455.1" stroke="#aaa" stroke-width="1"/>
<line x1="1126.0" y1="449.8" x2="1127.8" y2="449.8" stroke="#aaa" stroke-width="1"/>
<line x1="1126.0" y1="444.5" x2="1127.8" y2="444.5" stroke="#aaa" stroke-width="1"/>
<line x1="1126.0" y1="439.2" x2="1127.8" y2="439.2" stroke="#aaa" stroke-width="1"/>
<line x1="1126.0" y1="433.9" x2="1127.8" y2="433.9" stroke="#aaa" stroke-width="1"/>
<line x1="1126.0" y1="428.7" x2="1129.0" y2="428.7" stroke="#aaa" stroke-width="1"/>
<line x1="1126.0" y1="423.4" x2="1127.8" y2="423.4" stroke="#aaa" stroke-width="1"/>
<line x1="1126.0" y1="418.2" x2="1127.8" y2="418.2" stroke="#aaa" stroke-width="1"/>
<line x1="1126.0" y1="413" x2="1127.8" y2="413" stroke="#aaa" stroke-width="1"/>
<line x1="1126.0" y1="407.8" x2="1127.8" y2="407.8" stroke="#aaa" stroke-width="1"/>
<line x1="1126.0" y1="402.6" x2="1129.0" y2="402.6" stroke="#aaa" stroke-width="1"/>
<line x1="1126.0" y1="397.5" x2="1127.8" y2="397.5" stroke="#aaa" stroke-width="1"/>
<line x1="1126.0" y1="392.3" x2="1127.8" y2="392.3" stroke="#aaa" stroke-width="1"/>
<line x1="1126.0" y1="387.2" x2="1127.8" y2="387.2" stroke="#aaa" stroke-width="1"/>
<line x1="1126.0" y1="382.1" x2="1127.8" y2="382.1" stroke="#aaa" stroke-width="1"/>
<line x1="1126.0" y1="377" x2="1129.0" y2="377" stroke="#aaa" stroke-width="1"/>
<line x1="1126.0" y1="371.9" x2="1127.8" y2="371.9" stroke="#aaa" stroke-width="1"/>
<line x1="1126.0" y1="366.8" x2="1127.8" y2="366.8" stroke="#aaa" stroke-width="1"/>
<line x1="1126.0" y1="361.7" x2="1127.8" y2="361.7" stroke="#aaa" stroke-width="1"/>
<line x1="1126.0" y1="356.7" x2="1127.8" y2="356.7" stroke="#aaa" stroke-width="1"/>
<line x1="1126.0" y1="351.7" x2="1129.0" y2="351.7" stroke="#aaa" stroke-width="1"/>
<line x1="1126.0" y1="346.6" x2="1127.8" y2="346.6" stroke="#aaa" stroke-width="1"/>
<line x1="1126.0" y1="341.6" x2="1127.8" y2="341.6" stroke="#aaa" stroke-width="1"/>
<line x1="1126.0" y1="336.6" x2="1127.8" y2="336.6" stroke="#aaa" stroke-width="1"/>
<line x1="1126.0" y1="331.7" x2="1127.8" y2="331.7" stroke="#aaa" stroke-width="1"/>
<line x1="1126.0" y1="326.7" x2="1129.0" y2="326.7" stroke="#aaa" stroke-width="1"/>
<line x1="1126.0" y1="321.8" x2="1127.8" y2="321.8" stroke="#aaa" stroke-width="1"/>
<line x1="1126.0" y1="316.8" x2="1127.8" y2="316.8" stroke="#aaa" stroke-width="1"/>
<line x1="1126.0" y1="311.9" x2="1127.8" y2="311.9" stroke="#aaa" stroke-width="1"/>
<line x1="1126.0" y1="307" x2="1127.8" y2="307" stroke="#aaa" stroke-width="1"/>
<line x1="1126.0" y1="302.1" x2="1129.0" y2="302.1" stroke="#aaa" stroke-width="1"/>
<line x1="1126.0" y1="297.2" x2="1127.8" y2="297.2" stroke="#aaa" stroke-width="1"/>
<line x1="1126.0" y1="292.3" x2="1127.8" y2="292.3" stroke="#aaa" stroke-width="1"/>
<line x1="1126.0" y1="287.5" x2="1127.8" y2="287.5" stroke="#aaa" stroke-width="1"/>
<line x1="1126.0" y1="282.7" x2="1127.8" y2="282.7" stroke="#aaa" stroke-width="1"/>
<line x1="1126.0" y1="277.8" x2="1129.0" y2="277.8" stroke="#aaa" stroke-width="1"/>
<line x1="1126.0" y1="273" x2="1127.8" y2="273" stroke="#aaa" stroke-width="1"/>
<line x1="1126.0" y1="268.2" x2="1127.8" y2="268.2" stroke="#aaa" stroke-width="1"/>
<line x1="1126.0" y1="263.4" x2="1127.8" y2="263.4" stroke="#aaa" stroke-width="1"/>
<line x1="1126.0" y1="258.6" x2="1127.8" y2="258.6" stroke="#aaa" stroke-width="1"/>
<line x1="1126.0" y1="253.9" x2="1129.0" y2="253.9" stroke="#aaa" stroke-width="1"/>
<line x1="1126.0" y1="249.1" x2="1127.8" y2="249.1" stroke="#aaa" stroke-width="1"/>
<line x1="1126.0" y1="244.4" x2="1127.8" y2="244.4" stroke="#aaa" stroke-width="1"/>
<line x1="1126.0" y1="239.7" x2="1127.8" y2="239.7" stroke="#aaa" stroke-width="1"/>
<line x1="1126.0" y1="234.9" x2="1127.8" y2="234.9" stroke="#aaa" stroke-width="1"/>
<line x1="1126.0" y1="230.2" x2="1129.0" y2="230.2" stroke="#aaa" stroke-width="1"/>
<line x1="1126.0" y1="225.6" x2="1127.8" y2="225.6" stroke="#aaa" stroke-width="1"/>
<line x1="1126.0" y1="220.9" x2="1127.8" y2="220.9" stroke="#aaa" stroke-width="1"/>
<line x1="1126.0" y1="216.2" x2="1127.8" y2="216.2" stroke="#aaa" stroke-width="1"/>
<line x1="1126.0" y1="211.6" x2="1127.8" y2="211.6" stroke="#aaa" stroke-width="1"/>
<line x1="1126.0" y1="206.9" x2="1129.0" y2="206.9" stroke="#aaa" stroke-width="1"/>
<line x1="1126.0" y1="202.3" x2="1127.8" y2="202.3" stroke="#aaa" stroke-width="1"/>
<line x1="1126.0" y1="197.7" x2="1127.8" y2="197.7" stroke="#aaa" stroke-width="1"/>
<line x1="1126.0" y1="193.1" x2="1127.8" y2="193.1" stroke="#aaa" stroke-width="1"/>
<line x1="1126.0" y1="188.5" x2="1127.8" y2="188.5" stroke="#aaa" stroke-width="1"/>
<line x1="1126.0" y1="183.9" x2="1129.0" y2="183.9" stroke="#aaa" stroke-width="1"/>
<line x1="1126.0" y1="179.3" x2="1127.8" y2="179.3" stroke="#aaa" stroke-width="1"/>
<line x1="1126.0" y1="174.8" x2="1127.8" y2="174.8" stroke="#aaa" stroke-width="1"/>
<line x1="1126.0" y1="170.2" x2="1127.8" y2="170.2" stroke="#aaa" stroke-width="1"/>
<line x1="1126.0" y1="165.7" x2="1127.8" y2="165.7" stroke="#aaa" stroke-width="1"/>
<line x1="1126.0" y1="161.2" x2="1129.0" y2="161.2" stroke="#aaa" stroke-width="1"/>
<line x1="1126.0" y1="156.7" x2="1127.8" y2="156.7" stroke="#aaa" stroke-width="1"/>
<line x1="1126.0" y1="152.2" x2="1127.8" y2="152.2" stroke="#aaa" stroke-width="1"/>
<line x1="1126.0" y1="147.7" x2="1127.8" y2="147.7" stroke="#aaa" stroke-width="1"/>
<line x1="1126.0" y1="143.2" x2="1127.8" y2="143.2" stroke="#aaa" stroke-width="1"/>
<line x1="1126.0" y1="138.7" x2="1129.0" y2="138.7" stroke="#aaa" stroke-width="1"/>
<line x1="1126.0" y1="134.3" x2="1127.8" y2="134.3" stroke="#aaa" stroke-width="1"/>
<line x1="1126.0" y1="129.8" x2="1127.8" y2="129.8" stroke="#aaa" stroke-width="1"/>
<line x1="1126.0" y1="125.4" x2="1127.8" y2="125.4" stroke="#aaa" stroke-width="1"/>
<line x1="1126.0" y1="121" x2="1127.8" y2="121" stroke="#aaa" stroke-width="1"/>
<line x1="1126.0" y1="116.6" x2="1129.0" y2="116.6" stroke="#aaa" stroke-width="1"/>
<line x1="1126.0" y1="112.2" x2="1127.8" y2="112.2" stroke="#aaa" stroke-width="1"/>
<line x1="1126.0" y1="107.8" x2="1127.8" y2="107.8" stroke="#aaa" stroke-width="1"/>
<line x1="1126.0" y1="103.4" x2="1127.8" y2="103.4" stroke="#aaa" stroke-width="1"/>
<line x1="1126.0" y1="99" x2="1127.8" y2="99" stroke="#aaa" stroke-width="1"/>
<line x1="1126.0" y1="94.7" x2="1129.0" y2="94.7" stroke="#aaa" stroke-width="1"/>
<line x1="1126.0" y1="90.3" x2="1127.8" y2="90.3" stroke="#aaa" stroke-width="1"/>
<line x1="1126.0" y1="86" x2="1127.8" y2="86" stroke="#aaa" stroke-width="1"/>
<line x1="1126.0" y1="81.7" x2="1127.8" y2="81.7" stroke="#aaa" stroke-width="1"/>
<line x1="1126.0" y1="77.4" x2="1127.8" y2="77.4" stroke="#aaa" stroke-width="1"/>
<line x1="1126.0" y1="73.1" x2="1129.0" y2="73.1" stroke="#aaa" stroke-width="1"/>
<line x1="1126.0" y1="68.8" x2="1127.8" y2="68.8" stroke="#aaa" stroke-width="1"/>
<line x1="1126.0" y1="64.5" x2="1127.8" y2="64.5" stroke="#aaa" stroke-width="1"/>
<line x1="1126.0" y1="60.2" x2="1127.8" y2="60.2" stroke="#aaa" stroke-width="1"/>
<line x1="1126.0" y1="56" x2="1127.8" y2="56" stroke="#aaa" stroke-width="1"/>
<line x1="1126.0" y1="51.7" x2="1129.0" y2="51.7" stroke="#aaa" stroke-width="1"/>
<text x="1131.5" y="512.8" font-family="Liberation Sans, Arial, sans-serif" font-size="14.5" font-weight="normal" fill="#222" textLength="35" lengthAdjust="spacingAndGlyphs" stroke="#222" stroke-width="0.3">3250</text>
<text x="1131.5" y="485.5" font-family="Liberation Sans, Arial, sans-serif" font-size="14.5" font-weight="normal" fill="#222" textLength="35" lengthAdjust="spacingAndGlyphs" stroke="#222" stroke-width="0.3">3300</text>
<text x="1131.5" y="458.7" font-family="Liberation Sans, Arial, sans-serif" font-size="14.5" font-weight="normal" fill="#222" textLength="35" lengthAdjust="spacingAndGlyphs" stroke="#222" stroke-width="0.3">3350</text>
<text x="1131.5" y="432.3" font-family="Liberation Sans, Arial, sans-serif" font-size="14.5" font-weight="normal" fill="#222" textLength="35" lengthAdjust="spacingAndGlyphs" stroke="#222" stroke-width="0.3">3400</text>
<text x="1131.5" y="406.2" font-family="Liberation Sans, Arial, sans-serif" font-size="14.5" font-weight="normal" fill="#222" textLength="35" lengthAdjust="spacingAndGlyphs" stroke="#222" stroke-width="0.3">3450</text>
<text x="1131.5" y="380.6" font-family="Liberation Sans, Arial, sans-serif" font-size="14.5" font-weight="normal" fill="#222" textLength="35" lengthAdjust="spacingAndGlyphs" stroke="#222" stroke-width="0.3">3500</text>
<text x="1131.5" y="355.3" font-family="Liberation Sans, Arial, sans-serif" font-size="14.5" font-weight="normal" fill="#222" textLength="35" lengthAdjust="spacingAndGlyphs" stroke="#222" stroke-width="0.3">3550</text>
<text x="1131.5" y="330.3" font-family="Liberation Sans, Arial, sans-serif" font-size="14.5" font-weight="normal" fill="#222" textLength="35" lengthAdjust="spacingAndGlyphs" stroke="#222" stroke-width="0.3">3600</text>
<text x="1131.5" y="305.7" font-family="Liberation Sans, Arial, sans-serif" font-size="14.5" font-weight="normal" fill="#222" textLength="35" lengthAdjust="spacingAndGlyphs" stroke="#222" stroke-width="0.3">3650</text>
<text x="1131.5" y="281.4" font-family="Liberation Sans, Arial, sans-serif" font-size="14.5" font-weight="normal" fill="#222" textLength="35" lengthAdjust="spacingAndGlyphs" stroke="#222" stroke-width="0.3">3700</text>
<text x="1131.5" y="257.5" font-family="Liberation Sans, Arial, sans-serif" font-size="14.5" font-weight="normal" fill="#222" textLength="35" lengthAdjust="spacingAndGlyphs" stroke="#222" stroke-width="0.3">3750</text>
<text x="1131.5" y="233.8" font-family="Liberation Sans, Arial, sans-serif" font-size="14.5" font-weight="normal" fill="#222" textLength="35" lengthAdjust="spacingAndGlyphs" stroke="#222" stroke-width="0.3">3800</text>
<text x="1131.5" y="210.5" font-family="Liberation Sans, Arial, sans-serif" font-size="14.5" font-weight="normal" fill="#222" textLength="35" lengthAdjust="spacingAndGlyphs" stroke="#222" stroke-width="0.3">3850</text>
<text x="1131.5" y="187.5" font-family="Liberation Sans, Arial, sans-serif" font-size="14.5" font-weight="normal" fill="#222" textLength="35" lengthAdjust="spacingAndGlyphs" stroke="#222" stroke-width="0.3">3900</text>
<text x="1131.5" y="164.8" font-family="Liberation Sans, Arial, sans-serif" font-size="14.5" font-weight="normal" fill="#222" textLength="35" lengthAdjust="spacingAndGlyphs" stroke="#222" stroke-width="0.3">3950</text>
<text x="1131.5" y="142.3" font-family="Liberation Sans, Arial, sans-serif" font-size="14.5" font-weight="normal" fill="#222" textLength="35" lengthAdjust="spacingAndGlyphs" stroke="#222" stroke-width="0.3">4000</text>
<text x="1131.5" y="120.2" font-family="Liberation Sans, Arial, sans-serif" font-size="14.5" font-weight="normal" fill="#222" textLength="35" lengthAdjust="spacingAndGlyphs" stroke="#222" stroke-width="0.3">4050</text>
<text x="1131.5" y="98.3" font-family="Liberation Sans, Arial, sans-serif" font-size="14.5" font-weight="normal" fill="#222" textLength="35" lengthAdjust="spacingAndGlyphs" stroke="#222" stroke-width="0.3">4100</text>
<text x="1131.5" y="76.7" font-family="Liberation Sans, Arial, sans-serif" font-size="14.5" font-weight="normal" fill="#222" textLength="35" lengthAdjust="spacingAndGlyphs" stroke="#222" stroke-width="0.3">4150</text>
<text x="1131.5" y="55.3" font-family="Liberation Sans, Arial, sans-serif" font-size="14.5" font-weight="normal" fill="#222" textLength="35" lengthAdjust="spacingAndGlyphs" stroke="#222" stroke-width="0.3">4200</text>
<line x1="33.5" y1="527.5" x2="33.5" y2="531.0" stroke="#b8b8b8" stroke-width="1.1"/>
<line x1="33.5" y1="546.8" x2="33.5" y2="550.3" stroke="#b8b8b8" stroke-width="1.1"/>
<line x1="33.5" y1="887.5" x2="33.5" y2="891.0" stroke="#b8b8b8" stroke-width="1.1"/>
<line x1="41.3" y1="527.5" x2="41.3" y2="529.5" stroke="#b8b8b8" stroke-width="1.1"/>
<line x1="41.3" y1="548.3" x2="41.3" y2="550.3" stroke="#b8b8b8" stroke-width="1.1"/>
<line x1="41.3" y1="887.5" x2="41.3" y2="889.5" stroke="#b8b8b8" stroke-width="1.1"/>
<line x1="49.1" y1="527.5" x2="49.1" y2="529.5" stroke="#b8b8b8" stroke-width="1.1"/>
<line x1="49.1" y1="548.3" x2="49.1" y2="550.3" stroke="#b8b8b8" stroke-width="1.1"/>
<line x1="49.1" y1="887.5" x2="49.1" y2="889.5" stroke="#b8b8b8" stroke-width="1.1"/>
<line x1="56.9" y1="527.5" x2="56.9" y2="531.0" stroke="#b8b8b8" stroke-width="1.1"/>
<line x1="56.9" y1="546.8" x2="56.9" y2="550.3" stroke="#b8b8b8" stroke-width="1.1"/>
<line x1="56.9" y1="887.5" x2="56.9" y2="891.0" stroke="#b8b8b8" stroke-width="1.1"/>
<line x1="64.6" y1="527.5" x2="64.6" y2="529.5" stroke="#b8b8b8" stroke-width="1.1"/>
<line x1="64.6" y1="548.3" x2="64.6" y2="550.3" stroke="#b8b8b8" stroke-width="1.1"/>
<line x1="64.6" y1="887.5" x2="64.6" y2="889.5" stroke="#b8b8b8" stroke-width="1.1"/>
<line x1="72.4" y1="527.5" x2="72.4" y2="531.0" stroke="#b8b8b8" stroke-width="1.1"/>
<line x1="72.4" y1="546.8" x2="72.4" y2="550.3" stroke="#b8b8b8" stroke-width="1.1"/>
<line x1="72.4" y1="887.5" x2="72.4" y2="891.0" stroke="#b8b8b8" stroke-width="1.1"/>
<line x1="80.2" y1="527.5" x2="80.2" y2="529.5" stroke="#b8b8b8" stroke-width="1.1"/>
<line x1="80.2" y1="548.3" x2="80.2" y2="550.3" stroke="#b8b8b8" stroke-width="1.1"/>
<line x1="80.2" y1="887.5" x2="80.2" y2="889.5" stroke="#b8b8b8" stroke-width="1.1"/>
<line x1="88" y1="527.5" x2="88" y2="529.5" stroke="#b8b8b8" stroke-width="1.1"/>
<line x1="88" y1="548.3" x2="88" y2="550.3" stroke="#b8b8b8" stroke-width="1.1"/>
<line x1="88" y1="887.5" x2="88" y2="889.5" stroke="#b8b8b8" stroke-width="1.1"/>
<line x1="95.8" y1="527.5" x2="95.8" y2="529.5" stroke="#b8b8b8" stroke-width="1.1"/>
<line x1="95.8" y1="548.3" x2="95.8" y2="550.3" stroke="#b8b8b8" stroke-width="1.1"/>
<line x1="95.8" y1="887.5" x2="95.8" y2="889.5" stroke="#b8b8b8" stroke-width="1.1"/>
<line x1="103.6" y1="527.5" x2="103.6" y2="529.5" stroke="#b8b8b8" stroke-width="1.1"/>
<line x1="103.6" y1="548.3" x2="103.6" y2="550.3" stroke="#b8b8b8" stroke-width="1.1"/>
<line x1="103.6" y1="887.5" x2="103.6" y2="889.5" stroke="#b8b8b8" stroke-width="1.1"/>
<line x1="111.3" y1="527.5" x2="111.3" y2="531.0" stroke="#b8b8b8" stroke-width="1.1"/>
<line x1="111.3" y1="546.8" x2="111.3" y2="550.3" stroke="#b8b8b8" stroke-width="1.1"/>
<line x1="111.3" y1="887.5" x2="111.3" y2="891.0" stroke="#b8b8b8" stroke-width="1.1"/>
<line x1="119.1" y1="527.5" x2="119.1" y2="529.5" stroke="#b8b8b8" stroke-width="1.1"/>
<line x1="119.1" y1="548.3" x2="119.1" y2="550.3" stroke="#b8b8b8" stroke-width="1.1"/>
<line x1="119.1" y1="887.5" x2="119.1" y2="889.5" stroke="#b8b8b8" stroke-width="1.1"/>
<line x1="126.9" y1="527.5" x2="126.9" y2="529.5" stroke="#b8b8b8" stroke-width="1.1"/>
<line x1="126.9" y1="548.3" x2="126.9" y2="550.3" stroke="#b8b8b8" stroke-width="1.1"/>
<line x1="126.9" y1="887.5" x2="126.9" y2="889.5" stroke="#b8b8b8" stroke-width="1.1"/>
<line x1="134.7" y1="527.5" x2="134.7" y2="529.5" stroke="#b8b8b8" stroke-width="1.1"/>
<line x1="134.7" y1="548.3" x2="134.7" y2="550.3" stroke="#b8b8b8" stroke-width="1.1"/>
<line x1="134.7" y1="887.5" x2="134.7" y2="889.5" stroke="#b8b8b8" stroke-width="1.1"/>
<line x1="142.5" y1="527.5" x2="142.5" y2="529.5" stroke="#b8b8b8" stroke-width="1.1"/>
<line x1="142.5" y1="548.3" x2="142.5" y2="550.3" stroke="#b8b8b8" stroke-width="1.1"/>
<line x1="142.5" y1="887.5" x2="142.5" y2="889.5" stroke="#b8b8b8" stroke-width="1.1"/>
<line x1="150.3" y1="527.5" x2="150.3" y2="531.0" stroke="#b8b8b8" stroke-width="1.1"/>
<line x1="150.3" y1="546.8" x2="150.3" y2="550.3" stroke="#b8b8b8" stroke-width="1.1"/>
<line x1="150.3" y1="887.5" x2="150.3" y2="891.0" stroke="#b8b8b8" stroke-width="1.1"/>
<line x1="158.1" y1="527.5" x2="158.1" y2="529.5" stroke="#b8b8b8" stroke-width="1.1"/>
<line x1="158.1" y1="548.3" x2="158.1" y2="550.3" stroke="#b8b8b8" stroke-width="1.1"/>
<line x1="158.1" y1="887.5" x2="158.1" y2="889.5" stroke="#b8b8b8" stroke-width="1.1"/>
<line x1="165.8" y1="527.5" x2="165.8" y2="529.5" stroke="#b8b8b8" stroke-width="1.1"/>
<line x1="165.8" y1="548.3" x2="165.8" y2="550.3" stroke="#b8b8b8" stroke-width="1.1"/>
<line x1="165.8" y1="887.5" x2="165.8" y2="889.5" stroke="#b8b8b8" stroke-width="1.1"/>
<line x1="173.6" y1="527.5" x2="173.6" y2="529.5" stroke="#b8b8b8" stroke-width="1.1"/>
<line x1="173.6" y1="548.3" x2="173.6" y2="550.3" stroke="#b8b8b8" stroke-width="1.1"/>
<line x1="173.6" y1="887.5" x2="173.6" y2="889.5" stroke="#b8b8b8" stroke-width="1.1"/>
<line x1="181.4" y1="527.5" x2="181.4" y2="529.5" stroke="#b8b8b8" stroke-width="1.1"/>
<line x1="181.4" y1="548.3" x2="181.4" y2="550.3" stroke="#b8b8b8" stroke-width="1.1"/>
<line x1="181.4" y1="887.5" x2="181.4" y2="889.5" stroke="#b8b8b8" stroke-width="1.1"/>
<line x1="189.2" y1="527.5" x2="189.2" y2="531.0" stroke="#b8b8b8" stroke-width="1.1"/>
<line x1="189.2" y1="546.8" x2="189.2" y2="550.3" stroke="#b8b8b8" stroke-width="1.1"/>
<line x1="189.2" y1="887.5" x2="189.2" y2="891.0" stroke="#b8b8b8" stroke-width="1.1"/>
<line x1="197" y1="527.5" x2="197" y2="529.5" stroke="#b8b8b8" stroke-width="1.1"/>
<line x1="197" y1="548.3" x2="197" y2="550.3" stroke="#b8b8b8" stroke-width="1.1"/>
<line x1="197" y1="887.5" x2="197" y2="889.5" stroke="#b8b8b8" stroke-width="1.1"/>
<line x1="204.8" y1="527.5" x2="204.8" y2="529.5" stroke="#b8b8b8" stroke-width="1.1"/>
<line x1="204.8" y1="548.3" x2="204.8" y2="550.3" stroke="#b8b8b8" stroke-width="1.1"/>
<line x1="204.8" y1="887.5" x2="204.8" y2="889.5" stroke="#b8b8b8" stroke-width="1.1"/>
<line x1="212.6" y1="527.5" x2="212.6" y2="529.5" stroke="#b8b8b8" stroke-width="1.1"/>
<line x1="212.6" y1="548.3" x2="212.6" y2="550.3" stroke="#b8b8b8" stroke-width="1.1"/>
<line x1="212.6" y1="887.5" x2="212.6" y2="889.5" stroke="#b8b8b8" stroke-width="1.1"/>
<line x1="220.3" y1="527.5" x2="220.3" y2="529.5" stroke="#b8b8b8" stroke-width="1.1"/>
<line x1="220.3" y1="548.3" x2="220.3" y2="550.3" stroke="#b8b8b8" stroke-width="1.1"/>
<line x1="220.3" y1="887.5" x2="220.3" y2="889.5" stroke="#b8b8b8" stroke-width="1.1"/>
<line x1="228.1" y1="527.5" x2="228.1" y2="531.0" stroke="#b8b8b8" stroke-width="1.1"/>
<line x1="228.1" y1="546.8" x2="228.1" y2="550.3" stroke="#b8b8b8" stroke-width="1.1"/>
<line x1="228.1" y1="887.5" x2="228.1" y2="891.0" stroke="#b8b8b8" stroke-width="1.1"/>
<line x1="235.9" y1="527.5" x2="235.9" y2="529.5" stroke="#b8b8b8" stroke-width="1.1"/>
<line x1="235.9" y1="548.3" x2="235.9" y2="550.3" stroke="#b8b8b8" stroke-width="1.1"/>
<line x1="235.9" y1="887.5" x2="235.9" y2="889.5" stroke="#b8b8b8" stroke-width="1.1"/>
<line x1="243.7" y1="527.5" x2="243.7" y2="529.5" stroke="#b8b8b8" stroke-width="1.1"/>
<line x1="243.7" y1="548.3" x2="243.7" y2="550.3" stroke="#b8b8b8" stroke-width="1.1"/>
<line x1="243.7" y1="887.5" x2="243.7" y2="889.5" stroke="#b8b8b8" stroke-width="1.1"/>
<line x1="251.5" y1="527.5" x2="251.5" y2="529.5" stroke="#b8b8b8" stroke-width="1.1"/>
<line x1="251.5" y1="548.3" x2="251.5" y2="550.3" stroke="#b8b8b8" stroke-width="1.1"/>
<line x1="251.5" y1="887.5" x2="251.5" y2="889.5" stroke="#b8b8b8" stroke-width="1.1"/>
<line x1="259.3" y1="527.5" x2="259.3" y2="529.5" stroke="#b8b8b8" stroke-width="1.1"/>
<line x1="259.3" y1="548.3" x2="259.3" y2="550.3" stroke="#b8b8b8" stroke-width="1.1"/>
<line x1="259.3" y1="887.5" x2="259.3" y2="889.5" stroke="#b8b8b8" stroke-width="1.1"/>
<line x1="267.1" y1="527.5" x2="267.1" y2="531.0" stroke="#b8b8b8" stroke-width="1.1"/>
<line x1="267.1" y1="546.8" x2="267.1" y2="550.3" stroke="#b8b8b8" stroke-width="1.1"/>
<line x1="267.1" y1="887.5" x2="267.1" y2="891.0" stroke="#b8b8b8" stroke-width="1.1"/>
<line x1="274.8" y1="527.5" x2="274.8" y2="529.5" stroke="#b8b8b8" stroke-width="1.1"/>
<line x1="274.8" y1="548.3" x2="274.8" y2="550.3" stroke="#b8b8b8" stroke-width="1.1"/>
<line x1="274.8" y1="887.5" x2="274.8" y2="889.5" stroke="#b8b8b8" stroke-width="1.1"/>
<line x1="282.6" y1="527.5" x2="282.6" y2="529.5" stroke="#b8b8b8" stroke-width="1.1"/>
<line x1="282.6" y1="548.3" x2="282.6" y2="550.3" stroke="#b8b8b8" stroke-width="1.1"/>
<line x1="282.6" y1="887.5" x2="282.6" y2="889.5" stroke="#b8b8b8" stroke-width="1.1"/>
<line x1="290.4" y1="527.5" x2="290.4" y2="529.5" stroke="#b8b8b8" stroke-width="1.1"/>
<line x1="290.4" y1="548.3" x2="290.4" y2="550.3" stroke="#b8b8b8" stroke-width="1.1"/>
<line x1="290.4" y1="887.5" x2="290.4" y2="889.5" stroke="#b8b8b8" stroke-width="1.1"/>
<line x1="298.2" y1="527.5" x2="298.2" y2="529.5" stroke="#b8b8b8" stroke-width="1.1"/>
<line x1="298.2" y1="548.3" x2="298.2" y2="550.3" stroke="#b8b8b8" stroke-width="1.1"/>
<line x1="298.2" y1="887.5" x2="298.2" y2="889.5" stroke="#b8b8b8" stroke-width="1.1"/>
<line x1="306" y1="527.5" x2="306" y2="531.0" stroke="#b8b8b8" stroke-width="1.1"/>
<line x1="306" y1="546.8" x2="306" y2="550.3" stroke="#b8b8b8" stroke-width="1.1"/>
<line x1="306" y1="887.5" x2="306" y2="891.0" stroke="#b8b8b8" stroke-width="1.1"/>
<line x1="313.8" y1="527.5" x2="313.8" y2="529.5" stroke="#b8b8b8" stroke-width="1.1"/>
<line x1="313.8" y1="548.3" x2="313.8" y2="550.3" stroke="#b8b8b8" stroke-width="1.1"/>
<line x1="313.8" y1="887.5" x2="313.8" y2="889.5" stroke="#b8b8b8" stroke-width="1.1"/>
<line x1="321.5" y1="527.5" x2="321.5" y2="529.5" stroke="#b8b8b8" stroke-width="1.1"/>
<line x1="321.5" y1="548.3" x2="321.5" y2="550.3" stroke="#b8b8b8" stroke-width="1.1"/>
<line x1="321.5" y1="887.5" x2="321.5" y2="889.5" stroke="#b8b8b8" stroke-width="1.1"/>
<line x1="329.3" y1="527.5" x2="329.3" y2="529.5" stroke="#b8b8b8" stroke-width="1.1"/>
<line x1="329.3" y1="548.3" x2="329.3" y2="550.3" stroke="#b8b8b8" stroke-width="1.1"/>
<line x1="329.3" y1="887.5" x2="329.3" y2="889.5" stroke="#b8b8b8" stroke-width="1.1"/>
<line x1="337.1" y1="527.5" x2="337.1" y2="529.5" stroke="#b8b8b8" stroke-width="1.1"/>
<line x1="337.1" y1="548.3" x2="337.1" y2="550.3" stroke="#b8b8b8" stroke-width="1.1"/>
<line x1="337.1" y1="887.5" x2="337.1" y2="889.5" stroke="#b8b8b8" stroke-width="1.1"/>
<line x1="344.9" y1="527.5" x2="344.9" y2="531.0" stroke="#b8b8b8" stroke-width="1.1"/>
<line x1="344.9" y1="546.8" x2="344.9" y2="550.3" stroke="#b8b8b8" stroke-width="1.1"/>
<line x1="344.9" y1="887.5" x2="344.9" y2="891.0" stroke="#b8b8b8" stroke-width="1.1"/>
<line x1="352.7" y1="527.5" x2="352.7" y2="529.5" stroke="#b8b8b8" stroke-width="1.1"/>
<line x1="352.7" y1="548.3" x2="352.7" y2="550.3" stroke="#b8b8b8" stroke-width="1.1"/>
<line x1="352.7" y1="887.5" x2="352.7" y2="889.5" stroke="#b8b8b8" stroke-width="1.1"/>
<line x1="360.5" y1="527.5" x2="360.5" y2="529.5" stroke="#b8b8b8" stroke-width="1.1"/>
<line x1="360.5" y1="548.3" x2="360.5" y2="550.3" stroke="#b8b8b8" stroke-width="1.1"/>
<line x1="360.5" y1="887.5" x2="360.5" y2="889.5" stroke="#b8b8b8" stroke-width="1.1"/>
<line x1="368.3" y1="527.5" x2="368.3" y2="529.5" stroke="#b8b8b8" stroke-width="1.1"/>
<line x1="368.3" y1="548.3" x2="368.3" y2="550.3" stroke="#b8b8b8" stroke-width="1.1"/>
<line x1="368.3" y1="887.5" x2="368.3" y2="889.5" stroke="#b8b8b8" stroke-width="1.1"/>
<line x1="376" y1="527.5" x2="376" y2="531.0" stroke="#b8b8b8" stroke-width="1.1"/>
<line x1="376" y1="546.8" x2="376" y2="550.3" stroke="#b8b8b8" stroke-width="1.1"/>
<line x1="376" y1="887.5" x2="376" y2="891.0" stroke="#b8b8b8" stroke-width="1.1"/>
<line x1="383.8" y1="527.5" x2="383.8" y2="531.0" stroke="#b8b8b8" stroke-width="1.1"/>
<line x1="383.8" y1="546.8" x2="383.8" y2="550.3" stroke="#b8b8b8" stroke-width="1.1"/>
<line x1="383.8" y1="887.5" x2="383.8" y2="891.0" stroke="#b8b8b8" stroke-width="1.1"/>
<line x1="391.6" y1="527.5" x2="391.6" y2="529.5" stroke="#b8b8b8" stroke-width="1.1"/>
<line x1="391.6" y1="548.3" x2="391.6" y2="550.3" stroke="#b8b8b8" stroke-width="1.1"/>
<line x1="391.6" y1="887.5" x2="391.6" y2="889.5" stroke="#b8b8b8" stroke-width="1.1"/>
<line x1="399.4" y1="527.5" x2="399.4" y2="529.5" stroke="#b8b8b8" stroke-width="1.1"/>
<line x1="399.4" y1="548.3" x2="399.4" y2="550.3" stroke="#b8b8b8" stroke-width="1.1"/>
<line x1="399.4" y1="887.5" x2="399.4" y2="889.5" stroke="#b8b8b8" stroke-width="1.1"/>
<line x1="407.2" y1="527.5" x2="407.2" y2="529.5" stroke="#b8b8b8" stroke-width="1.1"/>
<line x1="407.2" y1="548.3" x2="407.2" y2="550.3" stroke="#b8b8b8" stroke-width="1.1"/>
<line x1="407.2" y1="887.5" x2="407.2" y2="889.5" stroke="#b8b8b8" stroke-width="1.1"/>
<line x1="415" y1="527.5" x2="415" y2="531.0" stroke="#b8b8b8" stroke-width="1.1"/>
<line x1="415" y1="546.8" x2="415" y2="550.3" stroke="#b8b8b8" stroke-width="1.1"/>
<line x1="415" y1="887.5" x2="415" y2="891.0" stroke="#b8b8b8" stroke-width="1.1"/>
<line x1="422.8" y1="527.5" x2="422.8" y2="529.5" stroke="#b8b8b8" stroke-width="1.1"/>
<line x1="422.8" y1="548.3" x2="422.8" y2="550.3" stroke="#b8b8b8" stroke-width="1.1"/>
<line x1="422.8" y1="887.5" x2="422.8" y2="889.5" stroke="#b8b8b8" stroke-width="1.1"/>
<line x1="430.5" y1="527.5" x2="430.5" y2="529.5" stroke="#b8b8b8" stroke-width="1.1"/>
<line x1="430.5" y1="548.3" x2="430.5" y2="550.3" stroke="#b8b8b8" stroke-width="1.1"/>
<line x1="430.5" y1="887.5" x2="430.5" y2="889.5" stroke="#b8b8b8" stroke-width="1.1"/>
<line x1="438.3" y1="527.5" x2="438.3" y2="529.5" stroke="#b8b8b8" stroke-width="1.1"/>
<line x1="438.3" y1="548.3" x2="438.3" y2="550.3" stroke="#b8b8b8" stroke-width="1.1"/>
<line x1="438.3" y1="887.5" x2="438.3" y2="889.5" stroke="#b8b8b8" stroke-width="1.1"/>
<line x1="446.1" y1="527.5" x2="446.1" y2="529.5" stroke="#b8b8b8" stroke-width="1.1"/>
<line x1="446.1" y1="548.3" x2="446.1" y2="550.3" stroke="#b8b8b8" stroke-width="1.1"/>
<line x1="446.1" y1="887.5" x2="446.1" y2="889.5" stroke="#b8b8b8" stroke-width="1.1"/>
<line x1="453.9" y1="527.5" x2="453.9" y2="531.0" stroke="#b8b8b8" stroke-width="1.1"/>
<line x1="453.9" y1="546.8" x2="453.9" y2="550.3" stroke="#b8b8b8" stroke-width="1.1"/>
<line x1="453.9" y1="887.5" x2="453.9" y2="891.0" stroke="#b8b8b8" stroke-width="1.1"/>
<line x1="461.7" y1="527.5" x2="461.7" y2="529.5" stroke="#b8b8b8" stroke-width="1.1"/>
<line x1="461.7" y1="548.3" x2="461.7" y2="550.3" stroke="#b8b8b8" stroke-width="1.1"/>
<line x1="461.7" y1="887.5" x2="461.7" y2="889.5" stroke="#b8b8b8" stroke-width="1.1"/>
<line x1="469.5" y1="527.5" x2="469.5" y2="529.5" stroke="#b8b8b8" stroke-width="1.1"/>
<line x1="469.5" y1="548.3" x2="469.5" y2="550.3" stroke="#b8b8b8" stroke-width="1.1"/>
<line x1="469.5" y1="887.5" x2="469.5" y2="889.5" stroke="#b8b8b8" stroke-width="1.1"/>
<line x1="477.2" y1="527.5" x2="477.2" y2="529.5" stroke="#b8b8b8" stroke-width="1.1"/>
<line x1="477.2" y1="548.3" x2="477.2" y2="550.3" stroke="#b8b8b8" stroke-width="1.1"/>
<line x1="477.2" y1="887.5" x2="477.2" y2="889.5" stroke="#b8b8b8" stroke-width="1.1"/>
<line x1="485" y1="527.5" x2="485" y2="529.5" stroke="#b8b8b8" stroke-width="1.1"/>
<line x1="485" y1="548.3" x2="485" y2="550.3" stroke="#b8b8b8" stroke-width="1.1"/>
<line x1="485" y1="887.5" x2="485" y2="889.5" stroke="#b8b8b8" stroke-width="1.1"/>
<line x1="492.8" y1="527.5" x2="492.8" y2="531.0" stroke="#b8b8b8" stroke-width="1.1"/>
<line x1="492.8" y1="546.8" x2="492.8" y2="550.3" stroke="#b8b8b8" stroke-width="1.1"/>
<line x1="492.8" y1="887.5" x2="492.8" y2="891.0" stroke="#b8b8b8" stroke-width="1.1"/>
<line x1="500.6" y1="527.5" x2="500.6" y2="529.5" stroke="#b8b8b8" stroke-width="1.1"/>
<line x1="500.6" y1="548.3" x2="500.6" y2="550.3" stroke="#b8b8b8" stroke-width="1.1"/>
<line x1="500.6" y1="887.5" x2="500.6" y2="889.5" stroke="#b8b8b8" stroke-width="1.1"/>
<line x1="508.4" y1="527.5" x2="508.4" y2="529.5" stroke="#b8b8b8" stroke-width="1.1"/>
<line x1="508.4" y1="548.3" x2="508.4" y2="550.3" stroke="#b8b8b8" stroke-width="1.1"/>
<line x1="508.4" y1="887.5" x2="508.4" y2="889.5" stroke="#b8b8b8" stroke-width="1.1"/>
<line x1="516.2" y1="527.5" x2="516.2" y2="529.5" stroke="#b8b8b8" stroke-width="1.1"/>
<line x1="516.2" y1="548.3" x2="516.2" y2="550.3" stroke="#b8b8b8" stroke-width="1.1"/>
<line x1="516.2" y1="887.5" x2="516.2" y2="889.5" stroke="#b8b8b8" stroke-width="1.1"/>
<line x1="524" y1="527.5" x2="524" y2="531.0" stroke="#b8b8b8" stroke-width="1.1"/>
<line x1="524" y1="546.8" x2="524" y2="550.3" stroke="#b8b8b8" stroke-width="1.1"/>
<line x1="524" y1="887.5" x2="524" y2="891.0" stroke="#b8b8b8" stroke-width="1.1"/>
<line x1="531.7" y1="527.5" x2="531.7" y2="529.5" stroke="#b8b8b8" stroke-width="1.1"/>
<line x1="531.7" y1="548.3" x2="531.7" y2="550.3" stroke="#b8b8b8" stroke-width="1.1"/>
<line x1="531.7" y1="887.5" x2="531.7" y2="889.5" stroke="#b8b8b8" stroke-width="1.1"/>
<line x1="539.5" y1="527.5" x2="539.5" y2="529.5" stroke="#b8b8b8" stroke-width="1.1"/>
<line x1="539.5" y1="548.3" x2="539.5" y2="550.3" stroke="#b8b8b8" stroke-width="1.1"/>
<line x1="539.5" y1="887.5" x2="539.5" y2="889.5" stroke="#b8b8b8" stroke-width="1.1"/>
<line x1="547.3" y1="527.5" x2="547.3" y2="529.5" stroke="#b8b8b8" stroke-width="1.1"/>
<line x1="547.3" y1="548.3" x2="547.3" y2="550.3" stroke="#b8b8b8" stroke-width="1.1"/>
<line x1="547.3" y1="887.5" x2="547.3" y2="889.5" stroke="#b8b8b8" stroke-width="1.1"/>
<line x1="555.1" y1="527.5" x2="555.1" y2="531.0" stroke="#b8b8b8" stroke-width="1.1"/>
<line x1="555.1" y1="546.8" x2="555.1" y2="550.3" stroke="#b8b8b8" stroke-width="1.1"/>
<line x1="555.1" y1="887.5" x2="555.1" y2="891.0" stroke="#b8b8b8" stroke-width="1.1"/>
<line x1="562.9" y1="527.5" x2="562.9" y2="529.5" stroke="#b8b8b8" stroke-width="1.1"/>
<line x1="562.9" y1="548.3" x2="562.9" y2="550.3" stroke="#b8b8b8" stroke-width="1.1"/>
<line x1="562.9" y1="887.5" x2="562.9" y2="889.5" stroke="#b8b8b8" stroke-width="1.1"/>
<line x1="570.7" y1="527.5" x2="570.7" y2="529.5" stroke="#b8b8b8" stroke-width="1.1"/>
<line x1="570.7" y1="548.3" x2="570.7" y2="550.3" stroke="#b8b8b8" stroke-width="1.1"/>
<line x1="570.7" y1="887.5" x2="570.7" y2="889.5" stroke="#b8b8b8" stroke-width="1.1"/>
<line x1="578.5" y1="527.5" x2="578.5" y2="529.5" stroke="#b8b8b8" stroke-width="1.1"/>
<line x1="578.5" y1="548.3" x2="578.5" y2="550.3" stroke="#b8b8b8" stroke-width="1.1"/>
<line x1="578.5" y1="887.5" x2="578.5" y2="889.5" stroke="#b8b8b8" stroke-width="1.1"/>
<line x1="586.2" y1="527.5" x2="586.2" y2="529.5" stroke="#b8b8b8" stroke-width="1.1"/>
<line x1="586.2" y1="548.3" x2="586.2" y2="550.3" stroke="#b8b8b8" stroke-width="1.1"/>
<line x1="586.2" y1="887.5" x2="586.2" y2="889.5" stroke="#b8b8b8" stroke-width="1.1"/>
<line x1="594" y1="527.5" x2="594" y2="531.0" stroke="#b8b8b8" stroke-width="1.1"/>
<line x1="594" y1="546.8" x2="594" y2="550.3" stroke="#b8b8b8" stroke-width="1.1"/>
<line x1="594" y1="887.5" x2="594" y2="891.0" stroke="#b8b8b8" stroke-width="1.1"/>
<line x1="601.8" y1="527.5" x2="601.8" y2="529.5" stroke="#b8b8b8" stroke-width="1.1"/>
<line x1="601.8" y1="548.3" x2="601.8" y2="550.3" stroke="#b8b8b8" stroke-width="1.1"/>
<line x1="601.8" y1="887.5" x2="601.8" y2="889.5" stroke="#b8b8b8" stroke-width="1.1"/>
<line x1="609.6" y1="527.5" x2="609.6" y2="529.5" stroke="#b8b8b8" stroke-width="1.1"/>
<line x1="609.6" y1="548.3" x2="609.6" y2="550.3" stroke="#b8b8b8" stroke-width="1.1"/>
<line x1="609.6" y1="887.5" x2="609.6" y2="889.5" stroke="#b8b8b8" stroke-width="1.1"/>
<line x1="617.4" y1="527.5" x2="617.4" y2="529.5" stroke="#b8b8b8" stroke-width="1.1"/>
<line x1="617.4" y1="548.3" x2="617.4" y2="550.3" stroke="#b8b8b8" stroke-width="1.1"/>
<line x1="617.4" y1="887.5" x2="617.4" y2="889.5" stroke="#b8b8b8" stroke-width="1.1"/>
<line x1="625.2" y1="527.5" x2="625.2" y2="529.5" stroke="#b8b8b8" stroke-width="1.1"/>
<line x1="625.2" y1="548.3" x2="625.2" y2="550.3" stroke="#b8b8b8" stroke-width="1.1"/>
<line x1="625.2" y1="887.5" x2="625.2" y2="889.5" stroke="#b8b8b8" stroke-width="1.1"/>
<line x1="632.9" y1="527.5" x2="632.9" y2="531.0" stroke="#b8b8b8" stroke-width="1.1"/>
<line x1="632.9" y1="546.8" x2="632.9" y2="550.3" stroke="#b8b8b8" stroke-width="1.1"/>
<line x1="632.9" y1="887.5" x2="632.9" y2="891.0" stroke="#b8b8b8" stroke-width="1.1"/>
<line x1="640.7" y1="527.5" x2="640.7" y2="529.5" stroke="#b8b8b8" stroke-width="1.1"/>
<line x1="640.7" y1="548.3" x2="640.7" y2="550.3" stroke="#b8b8b8" stroke-width="1.1"/>
<line x1="640.7" y1="887.5" x2="640.7" y2="889.5" stroke="#b8b8b8" stroke-width="1.1"/>
<line x1="648.5" y1="527.5" x2="648.5" y2="529.5" stroke="#b8b8b8" stroke-width="1.1"/>
<line x1="648.5" y1="548.3" x2="648.5" y2="550.3" stroke="#b8b8b8" stroke-width="1.1"/>
<line x1="648.5" y1="887.5" x2="648.5" y2="889.5" stroke="#b8b8b8" stroke-width="1.1"/>
<line x1="656.3" y1="527.5" x2="656.3" y2="529.5" stroke="#b8b8b8" stroke-width="1.1"/>
<line x1="656.3" y1="548.3" x2="656.3" y2="550.3" stroke="#b8b8b8" stroke-width="1.1"/>
<line x1="656.3" y1="887.5" x2="656.3" y2="889.5" stroke="#b8b8b8" stroke-width="1.1"/>
<line x1="664.1" y1="527.5" x2="664.1" y2="531.0" stroke="#b8b8b8" stroke-width="1.1"/>
<line x1="664.1" y1="546.8" x2="664.1" y2="550.3" stroke="#b8b8b8" stroke-width="1.1"/>
<line x1="664.1" y1="887.5" x2="664.1" y2="891.0" stroke="#b8b8b8" stroke-width="1.1"/>
<line x1="671.9" y1="527.5" x2="671.9" y2="529.5" stroke="#b8b8b8" stroke-width="1.1"/>
<line x1="671.9" y1="548.3" x2="671.9" y2="550.3" stroke="#b8b8b8" stroke-width="1.1"/>
<line x1="671.9" y1="887.5" x2="671.9" y2="889.5" stroke="#b8b8b8" stroke-width="1.1"/>
<line x1="679.7" y1="527.5" x2="679.7" y2="529.5" stroke="#b8b8b8" stroke-width="1.1"/>
<line x1="679.7" y1="548.3" x2="679.7" y2="550.3" stroke="#b8b8b8" stroke-width="1.1"/>
<line x1="679.7" y1="887.5" x2="679.7" y2="889.5" stroke="#b8b8b8" stroke-width="1.1"/>
<line x1="687.4" y1="527.5" x2="687.4" y2="529.5" stroke="#b8b8b8" stroke-width="1.1"/>
<line x1="687.4" y1="548.3" x2="687.4" y2="550.3" stroke="#b8b8b8" stroke-width="1.1"/>
<line x1="687.4" y1="887.5" x2="687.4" y2="889.5" stroke="#b8b8b8" stroke-width="1.1"/>
<line x1="695.2" y1="527.5" x2="695.2" y2="529.5" stroke="#b8b8b8" stroke-width="1.1"/>
<line x1="695.2" y1="548.3" x2="695.2" y2="550.3" stroke="#b8b8b8" stroke-width="1.1"/>
<line x1="695.2" y1="887.5" x2="695.2" y2="889.5" stroke="#b8b8b8" stroke-width="1.1"/>
<line x1="703" y1="527.5" x2="703" y2="531.0" stroke="#b8b8b8" stroke-width="1.1"/>
<line x1="703" y1="546.8" x2="703" y2="550.3" stroke="#b8b8b8" stroke-width="1.1"/>
<line x1="703" y1="887.5" x2="703" y2="891.0" stroke="#b8b8b8" stroke-width="1.1"/>
<line x1="710.8" y1="527.5" x2="710.8" y2="529.5" stroke="#b8b8b8" stroke-width="1.1"/>
<line x1="710.8" y1="548.3" x2="710.8" y2="550.3" stroke="#b8b8b8" stroke-width="1.1"/>
<line x1="710.8" y1="887.5" x2="710.8" y2="889.5" stroke="#b8b8b8" stroke-width="1.1"/>
<line x1="718.6" y1="527.5" x2="718.6" y2="529.5" stroke="#b8b8b8" stroke-width="1.1"/>
<line x1="718.6" y1="548.3" x2="718.6" y2="550.3" stroke="#b8b8b8" stroke-width="1.1"/>
<line x1="718.6" y1="887.5" x2="718.6" y2="889.5" stroke="#b8b8b8" stroke-width="1.1"/>
<line x1="726.4" y1="527.5" x2="726.4" y2="529.5" stroke="#b8b8b8" stroke-width="1.1"/>
<line x1="726.4" y1="548.3" x2="726.4" y2="550.3" stroke="#b8b8b8" stroke-width="1.1"/>
<line x1="726.4" y1="887.5" x2="726.4" y2="889.5" stroke="#b8b8b8" stroke-width="1.1"/>
<line x1="734.1" y1="527.5" x2="734.1" y2="529.5" stroke="#b8b8b8" stroke-width="1.1"/>
<line x1="734.1" y1="548.3" x2="734.1" y2="550.3" stroke="#b8b8b8" stroke-width="1.1"/>
<line x1="734.1" y1="887.5" x2="734.1" y2="889.5" stroke="#b8b8b8" stroke-width="1.1"/>
<line x1="741.9" y1="527.5" x2="741.9" y2="531.0" stroke="#b8b8b8" stroke-width="1.1"/>
<line x1="741.9" y1="546.8" x2="741.9" y2="550.3" stroke="#b8b8b8" stroke-width="1.1"/>
<line x1="741.9" y1="887.5" x2="741.9" y2="891.0" stroke="#b8b8b8" stroke-width="1.1"/>
<line x1="749.7" y1="527.5" x2="749.7" y2="529.5" stroke="#b8b8b8" stroke-width="1.1"/>
<line x1="749.7" y1="548.3" x2="749.7" y2="550.3" stroke="#b8b8b8" stroke-width="1.1"/>
<line x1="749.7" y1="887.5" x2="749.7" y2="889.5" stroke="#b8b8b8" stroke-width="1.1"/>
<line x1="757.5" y1="527.5" x2="757.5" y2="529.5" stroke="#b8b8b8" stroke-width="1.1"/>
<line x1="757.5" y1="548.3" x2="757.5" y2="550.3" stroke="#b8b8b8" stroke-width="1.1"/>
<line x1="757.5" y1="887.5" x2="757.5" y2="889.5" stroke="#b8b8b8" stroke-width="1.1"/>
<line x1="765.3" y1="527.5" x2="765.3" y2="529.5" stroke="#b8b8b8" stroke-width="1.1"/>
<line x1="765.3" y1="548.3" x2="765.3" y2="550.3" stroke="#b8b8b8" stroke-width="1.1"/>
<line x1="765.3" y1="887.5" x2="765.3" y2="889.5" stroke="#b8b8b8" stroke-width="1.1"/>
<line x1="773.1" y1="527.5" x2="773.1" y2="529.5" stroke="#b8b8b8" stroke-width="1.1"/>
<line x1="773.1" y1="548.3" x2="773.1" y2="550.3" stroke="#b8b8b8" stroke-width="1.1"/>
<line x1="773.1" y1="887.5" x2="773.1" y2="889.5" stroke="#b8b8b8" stroke-width="1.1"/>
<line x1="780.9" y1="527.5" x2="780.9" y2="531.0" stroke="#b8b8b8" stroke-width="1.1"/>
<line x1="780.9" y1="546.8" x2="780.9" y2="550.3" stroke="#b8b8b8" stroke-width="1.1"/>
<line x1="780.9" y1="887.5" x2="780.9" y2="891.0" stroke="#b8b8b8" stroke-width="1.1"/>
<line x1="788.6" y1="527.5" x2="788.6" y2="529.5" stroke="#b8b8b8" stroke-width="1.1"/>
<line x1="788.6" y1="548.3" x2="788.6" y2="550.3" stroke="#b8b8b8" stroke-width="1.1"/>
<line x1="788.6" y1="887.5" x2="788.6" y2="889.5" stroke="#b8b8b8" stroke-width="1.1"/>
<line x1="796.4" y1="527.5" x2="796.4" y2="529.5" stroke="#b8b8b8" stroke-width="1.1"/>
<line x1="796.4" y1="548.3" x2="796.4" y2="550.3" stroke="#b8b8b8" stroke-width="1.1"/>
<line x1="796.4" y1="887.5" x2="796.4" y2="889.5" stroke="#b8b8b8" stroke-width="1.1"/>
<line x1="804.2" y1="527.5" x2="804.2" y2="529.5" stroke="#b8b8b8" stroke-width="1.1"/>
<line x1="804.2" y1="548.3" x2="804.2" y2="550.3" stroke="#b8b8b8" stroke-width="1.1"/>
<line x1="804.2" y1="887.5" x2="804.2" y2="889.5" stroke="#b8b8b8" stroke-width="1.1"/>
<line x1="812" y1="527.5" x2="812" y2="531.0" stroke="#b8b8b8" stroke-width="1.1"/>
<line x1="812" y1="546.8" x2="812" y2="550.3" stroke="#b8b8b8" stroke-width="1.1"/>
<line x1="812" y1="887.5" x2="812" y2="891.0" stroke="#b8b8b8" stroke-width="1.1"/>
<line x1="819.8" y1="527.5" x2="819.8" y2="529.5" stroke="#b8b8b8" stroke-width="1.1"/>
<line x1="819.8" y1="548.3" x2="819.8" y2="550.3" stroke="#b8b8b8" stroke-width="1.1"/>
<line x1="819.8" y1="887.5" x2="819.8" y2="889.5" stroke="#b8b8b8" stroke-width="1.1"/>
<line x1="827.6" y1="527.5" x2="827.6" y2="529.5" stroke="#b8b8b8" stroke-width="1.1"/>
<line x1="827.6" y1="548.3" x2="827.6" y2="550.3" stroke="#b8b8b8" stroke-width="1.1"/>
<line x1="827.6" y1="887.5" x2="827.6" y2="889.5" stroke="#b8b8b8" stroke-width="1.1"/>
<line x1="835.4" y1="527.5" x2="835.4" y2="529.5" stroke="#b8b8b8" stroke-width="1.1"/>
<line x1="835.4" y1="548.3" x2="835.4" y2="550.3" stroke="#b8b8b8" stroke-width="1.1"/>
<line x1="835.4" y1="887.5" x2="835.4" y2="889.5" stroke="#b8b8b8" stroke-width="1.1"/>
<line x1="843.1" y1="527.5" x2="843.1" y2="529.5" stroke="#b8b8b8" stroke-width="1.1"/>
<line x1="843.1" y1="548.3" x2="843.1" y2="550.3" stroke="#b8b8b8" stroke-width="1.1"/>
<line x1="843.1" y1="887.5" x2="843.1" y2="889.5" stroke="#b8b8b8" stroke-width="1.1"/>
<line x1="850.9" y1="527.5" x2="850.9" y2="531.0" stroke="#b8b8b8" stroke-width="1.1"/>
<line x1="850.9" y1="546.8" x2="850.9" y2="550.3" stroke="#b8b8b8" stroke-width="1.1"/>
<line x1="850.9" y1="887.5" x2="850.9" y2="891.0" stroke="#b8b8b8" stroke-width="1.1"/>
<line x1="858.7" y1="527.5" x2="858.7" y2="529.5" stroke="#b8b8b8" stroke-width="1.1"/>
<line x1="858.7" y1="548.3" x2="858.7" y2="550.3" stroke="#b8b8b8" stroke-width="1.1"/>
<line x1="858.7" y1="887.5" x2="858.7" y2="889.5" stroke="#b8b8b8" stroke-width="1.1"/>
<line x1="866.5" y1="527.5" x2="866.5" y2="529.5" stroke="#b8b8b8" stroke-width="1.1"/>
<line x1="866.5" y1="548.3" x2="866.5" y2="550.3" stroke="#b8b8b8" stroke-width="1.1"/>
<line x1="866.5" y1="887.5" x2="866.5" y2="889.5" stroke="#b8b8b8" stroke-width="1.1"/>
<line x1="874.3" y1="527.5" x2="874.3" y2="529.5" stroke="#b8b8b8" stroke-width="1.1"/>
<line x1="874.3" y1="548.3" x2="874.3" y2="550.3" stroke="#b8b8b8" stroke-width="1.1"/>
<line x1="874.3" y1="887.5" x2="874.3" y2="889.5" stroke="#b8b8b8" stroke-width="1.1"/>
<line x1="882.1" y1="527.5" x2="882.1" y2="529.5" stroke="#b8b8b8" stroke-width="1.1"/>
<line x1="882.1" y1="548.3" x2="882.1" y2="550.3" stroke="#b8b8b8" stroke-width="1.1"/>
<line x1="882.1" y1="887.5" x2="882.1" y2="889.5" stroke="#b8b8b8" stroke-width="1.1"/>
<line x1="889.9" y1="527.5" x2="889.9" y2="531.0" stroke="#b8b8b8" stroke-width="1.1"/>
<line x1="889.9" y1="546.8" x2="889.9" y2="550.3" stroke="#b8b8b8" stroke-width="1.1"/>
<line x1="889.9" y1="887.5" x2="889.9" y2="891.0" stroke="#b8b8b8" stroke-width="1.1"/>
<line x1="897.6" y1="527.5" x2="897.6" y2="529.5" stroke="#b8b8b8" stroke-width="1.1"/>
<line x1="897.6" y1="548.3" x2="897.6" y2="550.3" stroke="#b8b8b8" stroke-width="1.1"/>
<line x1="897.6" y1="887.5" x2="897.6" y2="889.5" stroke="#b8b8b8" stroke-width="1.1"/>
<line x1="905.4" y1="527.5" x2="905.4" y2="529.5" stroke="#b8b8b8" stroke-width="1.1"/>
<line x1="905.4" y1="548.3" x2="905.4" y2="550.3" stroke="#b8b8b8" stroke-width="1.1"/>
<line x1="905.4" y1="887.5" x2="905.4" y2="889.5" stroke="#b8b8b8" stroke-width="1.1"/>
<line x1="913.2" y1="527.5" x2="913.2" y2="529.5" stroke="#b8b8b8" stroke-width="1.1"/>
<line x1="913.2" y1="548.3" x2="913.2" y2="550.3" stroke="#b8b8b8" stroke-width="1.1"/>
<line x1="913.2" y1="887.5" x2="913.2" y2="889.5" stroke="#b8b8b8" stroke-width="1.1"/>
<line x1="921" y1="527.5" x2="921" y2="529.5" stroke="#b8b8b8" stroke-width="1.1"/>
<line x1="921" y1="548.3" x2="921" y2="550.3" stroke="#b8b8b8" stroke-width="1.1"/>
<line x1="921" y1="887.5" x2="921" y2="889.5" stroke="#b8b8b8" stroke-width="1.1"/>
<line x1="928.8" y1="527.5" x2="928.8" y2="531.0" stroke="#b8b8b8" stroke-width="1.1"/>
<line x1="928.8" y1="546.8" x2="928.8" y2="550.3" stroke="#b8b8b8" stroke-width="1.1"/>
<line x1="928.8" y1="887.5" x2="928.8" y2="891.0" stroke="#b8b8b8" stroke-width="1.1"/>
<line x1="936.6" y1="527.5" x2="936.6" y2="529.5" stroke="#b8b8b8" stroke-width="1.1"/>
<line x1="936.6" y1="548.3" x2="936.6" y2="550.3" stroke="#b8b8b8" stroke-width="1.1"/>
<line x1="936.6" y1="887.5" x2="936.6" y2="889.5" stroke="#b8b8b8" stroke-width="1.1"/>
<line x1="944.3" y1="527.5" x2="944.3" y2="529.5" stroke="#b8b8b8" stroke-width="1.1"/>
<line x1="944.3" y1="548.3" x2="944.3" y2="550.3" stroke="#b8b8b8" stroke-width="1.1"/>
<line x1="944.3" y1="887.5" x2="944.3" y2="889.5" stroke="#b8b8b8" stroke-width="1.1"/>
<line x1="952.1" y1="527.5" x2="952.1" y2="529.5" stroke="#b8b8b8" stroke-width="1.1"/>
<line x1="952.1" y1="548.3" x2="952.1" y2="550.3" stroke="#b8b8b8" stroke-width="1.1"/>
<line x1="952.1" y1="887.5" x2="952.1" y2="889.5" stroke="#b8b8b8" stroke-width="1.1"/>
<line x1="959.9" y1="527.5" x2="959.9" y2="529.5" stroke="#b8b8b8" stroke-width="1.1"/>
<line x1="959.9" y1="548.3" x2="959.9" y2="550.3" stroke="#b8b8b8" stroke-width="1.1"/>
<line x1="959.9" y1="887.5" x2="959.9" y2="889.5" stroke="#b8b8b8" stroke-width="1.1"/>
<line x1="967.7" y1="527.5" x2="967.7" y2="531.0" stroke="#b8b8b8" stroke-width="1.1"/>
<line x1="967.7" y1="546.8" x2="967.7" y2="550.3" stroke="#b8b8b8" stroke-width="1.1"/>
<line x1="967.7" y1="887.5" x2="967.7" y2="891.0" stroke="#b8b8b8" stroke-width="1.1"/>
<line x1="975.5" y1="527.5" x2="975.5" y2="529.5" stroke="#b8b8b8" stroke-width="1.1"/>
<line x1="975.5" y1="548.3" x2="975.5" y2="550.3" stroke="#b8b8b8" stroke-width="1.1"/>
<line x1="975.5" y1="887.5" x2="975.5" y2="889.5" stroke="#b8b8b8" stroke-width="1.1"/>
<line x1="983.3" y1="527.5" x2="983.3" y2="529.5" stroke="#b8b8b8" stroke-width="1.1"/>
<line x1="983.3" y1="548.3" x2="983.3" y2="550.3" stroke="#b8b8b8" stroke-width="1.1"/>
<line x1="983.3" y1="887.5" x2="983.3" y2="889.5" stroke="#b8b8b8" stroke-width="1.1"/>
<line x1="991.1" y1="527.5" x2="991.1" y2="529.5" stroke="#b8b8b8" stroke-width="1.1"/>
<line x1="991.1" y1="548.3" x2="991.1" y2="550.3" stroke="#b8b8b8" stroke-width="1.1"/>
<line x1="991.1" y1="887.5" x2="991.1" y2="889.5" stroke="#b8b8b8" stroke-width="1.1"/>
<line x1="998.8" y1="527.5" x2="998.8" y2="529.5" stroke="#b8b8b8" stroke-width="1.1"/>
<line x1="998.8" y1="548.3" x2="998.8" y2="550.3" stroke="#b8b8b8" stroke-width="1.1"/>
<line x1="998.8" y1="887.5" x2="998.8" y2="889.5" stroke="#b8b8b8" stroke-width="1.1"/>
<line x1="1006.6" y1="527.5" x2="1006.6" y2="531.0" stroke="#b8b8b8" stroke-width="1.1"/>
<line x1="1006.6" y1="546.8" x2="1006.6" y2="550.3" stroke="#b8b8b8" stroke-width="1.1"/>
<line x1="1006.6" y1="887.5" x2="1006.6" y2="891.0" stroke="#b8b8b8" stroke-width="1.1"/>
<line x1="1014.4" y1="527.5" x2="1014.4" y2="529.5" stroke="#b8b8b8" stroke-width="1.1"/>
<line x1="1014.4" y1="548.3" x2="1014.4" y2="550.3" stroke="#b8b8b8" stroke-width="1.1"/>
<line x1="1014.4" y1="887.5" x2="1014.4" y2="889.5" stroke="#b8b8b8" stroke-width="1.1"/>
<line x1="1022.2" y1="527.5" x2="1022.2" y2="529.5" stroke="#b8b8b8" stroke-width="1.1"/>
<line x1="1022.2" y1="548.3" x2="1022.2" y2="550.3" stroke="#b8b8b8" stroke-width="1.1"/>
<line x1="1022.2" y1="887.5" x2="1022.2" y2="889.5" stroke="#b8b8b8" stroke-width="1.1"/>
<line x1="1030" y1="527.5" x2="1030" y2="531.0" stroke="#b8b8b8" stroke-width="1.1"/>
<line x1="1030" y1="546.8" x2="1030" y2="550.3" stroke="#b8b8b8" stroke-width="1.1"/>
<line x1="1030" y1="887.5" x2="1030" y2="891.0" stroke="#b8b8b8" stroke-width="1.1"/>
<line x1="1037.8" y1="527.5" x2="1037.8" y2="531.0" stroke="#b8b8b8" stroke-width="1.1"/>
<line x1="1037.8" y1="546.8" x2="1037.8" y2="550.3" stroke="#b8b8b8" stroke-width="1.1"/>
<line x1="1037.8" y1="887.5" x2="1037.8" y2="891.0" stroke="#b8b8b8" stroke-width="1.1"/>
<line x1="1045.6" y1="527.5" x2="1045.6" y2="529.5" stroke="#b8b8b8" stroke-width="1.1"/>
<line x1="1045.6" y1="548.3" x2="1045.6" y2="550.3" stroke="#b8b8b8" stroke-width="1.1"/>
<line x1="1045.6" y1="887.5" x2="1045.6" y2="889.5" stroke="#b8b8b8" stroke-width="1.1"/>
<line x1="1053.3" y1="527.5" x2="1053.3" y2="529.5" stroke="#b8b8b8" stroke-width="1.1"/>
<line x1="1053.3" y1="548.3" x2="1053.3" y2="550.3" stroke="#b8b8b8" stroke-width="1.1"/>
<line x1="1053.3" y1="887.5" x2="1053.3" y2="889.5" stroke="#b8b8b8" stroke-width="1.1"/>
<line x1="1061.1" y1="527.5" x2="1061.1" y2="529.5" stroke="#b8b8b8" stroke-width="1.1"/>
<line x1="1061.1" y1="548.3" x2="1061.1" y2="550.3" stroke="#b8b8b8" stroke-width="1.1"/>
<line x1="1061.1" y1="887.5" x2="1061.1" y2="889.5" stroke="#b8b8b8" stroke-width="1.1"/>
<line x1="1068.9" y1="527.5" x2="1068.9" y2="529.5" stroke="#b8b8b8" stroke-width="1.1"/>
<line x1="1068.9" y1="548.3" x2="1068.9" y2="550.3" stroke="#b8b8b8" stroke-width="1.1"/>
<line x1="1068.9" y1="887.5" x2="1068.9" y2="889.5" stroke="#b8b8b8" stroke-width="1.1"/>
<line x1="1076.7" y1="527.5" x2="1076.7" y2="531.0" stroke="#b8b8b8" stroke-width="1.1"/>
<line x1="1076.7" y1="546.8" x2="1076.7" y2="550.3" stroke="#b8b8b8" stroke-width="1.1"/>
<line x1="1076.7" y1="887.5" x2="1076.7" y2="891.0" stroke="#b8b8b8" stroke-width="1.1"/>
<line x1="1084.5" y1="527.5" x2="1084.5" y2="529.5" stroke="#b8b8b8" stroke-width="1.1"/>
<line x1="1084.5" y1="548.3" x2="1084.5" y2="550.3" stroke="#b8b8b8" stroke-width="1.1"/>
<line x1="1084.5" y1="887.5" x2="1084.5" y2="889.5" stroke="#b8b8b8" stroke-width="1.1"/>
<line x1="1092.3" y1="527.5" x2="1092.3" y2="529.5" stroke="#b8b8b8" stroke-width="1.1"/>
<line x1="1092.3" y1="548.3" x2="1092.3" y2="550.3" stroke="#b8b8b8" stroke-width="1.1"/>
<line x1="1092.3" y1="887.5" x2="1092.3" y2="889.5" stroke="#b8b8b8" stroke-width="1.1"/>
<line x1="1100" y1="527.5" x2="1100" y2="529.5" stroke="#b8b8b8" stroke-width="1.1"/>
<line x1="1100" y1="548.3" x2="1100" y2="550.3" stroke="#b8b8b8" stroke-width="1.1"/>
<line x1="1100" y1="887.5" x2="1100" y2="889.5" stroke="#b8b8b8" stroke-width="1.1"/>
<line x1="1107.8" y1="527.5" x2="1107.8" y2="529.5" stroke="#b8b8b8" stroke-width="1.1"/>
<line x1="1107.8" y1="548.3" x2="1107.8" y2="550.3" stroke="#b8b8b8" stroke-width="1.1"/>
<line x1="1107.8" y1="887.5" x2="1107.8" y2="889.5" stroke="#b8b8b8" stroke-width="1.1"/>
<line x1="1115.6" y1="527.5" x2="1115.6" y2="531.0" stroke="#b8b8b8" stroke-width="1.1"/>
<line x1="1115.6" y1="546.8" x2="1115.6" y2="550.3" stroke="#b8b8b8" stroke-width="1.1"/>
<line x1="1115.6" y1="887.5" x2="1115.6" y2="891.0" stroke="#b8b8b8" stroke-width="1.1"/>
<text x="31.7" y="543.8" font-family="Liberation Sans, Arial, sans-serif" font-size="14.8" font-weight="normal" fill="#1a1a1a" textLength="16.3" lengthAdjust="spacingAndGlyphs" text-anchor="middle" stroke="#1a1a1a" stroke-width="0.3">28</text>
<text x="110.3" y="543.8" font-family="Liberation Sans, Arial, sans-serif" font-size="14.8" font-weight="normal" fill="#1a1a1a" textLength="16.3" lengthAdjust="spacingAndGlyphs" text-anchor="middle" stroke="#1a1a1a" stroke-width="0.3">12</text>
<text x="149.3" y="543.8" font-family="Liberation Sans, Arial, sans-serif" font-size="14.8" font-weight="normal" fill="#1a1a1a" textLength="16.3" lengthAdjust="spacingAndGlyphs" text-anchor="middle" stroke="#1a1a1a" stroke-width="0.3">19</text>
<text x="188.2" y="543.8" font-family="Liberation Sans, Arial, sans-serif" font-size="14.8" font-weight="normal" fill="#1a1a1a" textLength="16.3" lengthAdjust="spacingAndGlyphs" text-anchor="middle" stroke="#1a1a1a" stroke-width="0.3">26</text>
<text x="266.1" y="543.8" font-family="Liberation Sans, Arial, sans-serif" font-size="14.8" font-weight="normal" fill="#1a1a1a" textLength="7.2" lengthAdjust="spacingAndGlyphs" text-anchor="middle" stroke="#1a1a1a" stroke-width="0.3">9</text>
<text x="305" y="543.8" font-family="Liberation Sans, Arial, sans-serif" font-size="14.8" font-weight="normal" fill="#1a1a1a" textLength="16.3" lengthAdjust="spacingAndGlyphs" text-anchor="middle" stroke="#1a1a1a" stroke-width="0.3">16</text>
<text x="343.9" y="543.8" font-family="Liberation Sans, Arial, sans-serif" font-size="14.8" font-weight="normal" fill="#1a1a1a" textLength="16.3" lengthAdjust="spacingAndGlyphs" text-anchor="middle" stroke="#1a1a1a" stroke-width="0.3">23</text>
<text x="414" y="543.8" font-family="Liberation Sans, Arial, sans-serif" font-size="14.8" font-weight="normal" fill="#1a1a1a" textLength="7.2" lengthAdjust="spacingAndGlyphs" text-anchor="middle" stroke="#1a1a1a" stroke-width="0.3">7</text>
<text x="452.9" y="543.8" font-family="Liberation Sans, Arial, sans-serif" font-size="14.8" font-weight="normal" fill="#1a1a1a" textLength="16.3" lengthAdjust="spacingAndGlyphs" text-anchor="middle" stroke="#1a1a1a" stroke-width="0.3">14</text>
<text x="491.8" y="543.8" font-family="Liberation Sans, Arial, sans-serif" font-size="14.8" font-weight="normal" fill="#1a1a1a" textLength="16.3" lengthAdjust="spacingAndGlyphs" text-anchor="middle" stroke="#1a1a1a" stroke-width="0.3">21</text>
<text x="523" y="543.8" font-family="Liberation Sans, Arial, sans-serif" font-size="14.8" font-weight="normal" fill="#1a1a1a" textLength="16.3" lengthAdjust="spacingAndGlyphs" text-anchor="middle" stroke="#1a1a1a" stroke-width="0.3">28</text>
<text x="593" y="543.8" font-family="Liberation Sans, Arial, sans-serif" font-size="14.8" font-weight="normal" fill="#1a1a1a" textLength="16.3" lengthAdjust="spacingAndGlyphs" text-anchor="middle" stroke="#1a1a1a" stroke-width="0.3">11</text>
<text x="631.9" y="543.8" font-family="Liberation Sans, Arial, sans-serif" font-size="14.8" font-weight="normal" fill="#1a1a1a" textLength="16.3" lengthAdjust="spacingAndGlyphs" text-anchor="middle" stroke="#1a1a1a" stroke-width="0.3">19</text>
<text x="663.1" y="543.8" font-family="Liberation Sans, Arial, sans-serif" font-size="14.8" font-weight="normal" fill="#1a1a1a" textLength="16.3" lengthAdjust="spacingAndGlyphs" text-anchor="middle" stroke="#1a1a1a" stroke-width="0.3">25</text>
<text x="740.9" y="543.8" font-family="Liberation Sans, Arial, sans-serif" font-size="14.8" font-weight="normal" fill="#1a1a1a" textLength="7.2" lengthAdjust="spacingAndGlyphs" text-anchor="middle" stroke="#1a1a1a" stroke-width="0.3">8</text>
<text x="779.9" y="543.8" font-family="Liberation Sans, Arial, sans-serif" font-size="14.8" font-weight="normal" fill="#1a1a1a" textLength="16.3" lengthAdjust="spacingAndGlyphs" text-anchor="middle" stroke="#1a1a1a" stroke-width="0.3">16</text>
<text x="811" y="543.8" font-family="Liberation Sans, Arial, sans-serif" font-size="14.8" font-weight="normal" fill="#1a1a1a" textLength="16.3" lengthAdjust="spacingAndGlyphs" text-anchor="middle" stroke="#1a1a1a" stroke-width="0.3">22</text>
<text x="888.9" y="543.8" font-family="Liberation Sans, Arial, sans-serif" font-size="14.8" font-weight="normal" fill="#1a1a1a" textLength="7.2" lengthAdjust="spacingAndGlyphs" text-anchor="middle" stroke="#1a1a1a" stroke-width="0.3">8</text>
<text x="927.8" y="543.8" font-family="Liberation Sans, Arial, sans-serif" font-size="14.8" font-weight="normal" fill="#1a1a1a" textLength="16.3" lengthAdjust="spacingAndGlyphs" text-anchor="middle" stroke="#1a1a1a" stroke-width="0.3">15</text>
<text x="966.7" y="543.8" font-family="Liberation Sans, Arial, sans-serif" font-size="14.8" font-weight="normal" fill="#1a1a1a" textLength="16.3" lengthAdjust="spacingAndGlyphs" text-anchor="middle" stroke="#1a1a1a" stroke-width="0.3">22</text>
<text x="1005.6" y="543.8" font-family="Liberation Sans, Arial, sans-serif" font-size="14.8" font-weight="normal" fill="#1a1a1a" textLength="16.3" lengthAdjust="spacingAndGlyphs" text-anchor="middle" stroke="#1a1a1a" stroke-width="0.3">29</text>
<text x="1075.7" y="543.8" font-family="Liberation Sans, Arial, sans-serif" font-size="14.8" font-weight="normal" fill="#1a1a1a" textLength="16.3" lengthAdjust="spacingAndGlyphs" text-anchor="middle" stroke="#1a1a1a" stroke-width="0.3">12</text>
<text x="1114.6" y="543.8" font-family="Liberation Sans, Arial, sans-serif" font-size="14.8" font-weight="normal" fill="#1a1a1a" textLength="16.3" lengthAdjust="spacingAndGlyphs" text-anchor="middle" stroke="#1a1a1a" stroke-width="0.3">19</text>
<text x="56.6" y="543.8" font-family="Liberation Sans, Arial, sans-serif" font-size="16" font-weight="bold" fill="#000" textLength="26.7" lengthAdjust="spacingAndGlyphs" text-anchor="middle">Oct</text>
<text x="227.8" y="543.8" font-family="Liberation Sans, Arial, sans-serif" font-size="16" font-weight="bold" fill="#000" textLength="31.3" lengthAdjust="spacingAndGlyphs" text-anchor="middle">Nov</text>
<text x="383.5" y="543.8" font-family="Liberation Sans, Arial, sans-serif" font-size="16" font-weight="bold" fill="#000" textLength="30" lengthAdjust="spacingAndGlyphs" text-anchor="middle">Dec</text>
<text x="552.5" y="543.8" font-family="Liberation Sans, Arial, sans-serif" font-size="16" font-weight="bold" fill="#000" textLength="36.4" lengthAdjust="spacingAndGlyphs" text-anchor="middle">2021</text>
<text x="702.7" y="543.8" font-family="Liberation Sans, Arial, sans-serif" font-size="16" font-weight="bold" fill="#000" textLength="30" lengthAdjust="spacingAndGlyphs" text-anchor="middle">Feb</text>
<text x="850.6" y="543.8" font-family="Liberation Sans, Arial, sans-serif" font-size="16" font-weight="bold" fill="#000" textLength="31.7" lengthAdjust="spacingAndGlyphs" text-anchor="middle">Mar</text>
<text x="1029.7" y="543.8" font-family="Liberation Sans, Arial, sans-serif" font-size="16" font-weight="bold" fill="#000" textLength="30" lengthAdjust="spacingAndGlyphs" text-anchor="middle">Apr</text>
<text x="31.7" y="903.8" font-family="Liberation Sans, Arial, sans-serif" font-size="14.8" font-weight="normal" fill="#1a1a1a" textLength="16.3" lengthAdjust="spacingAndGlyphs" text-anchor="middle" stroke="#1a1a1a" stroke-width="0.3">28</text>
<text x="110.3" y="903.8" font-family="Liberation Sans, Arial, sans-serif" font-size="14.8" font-weight="normal" fill="#1a1a1a" textLength="16.3" lengthAdjust="spacingAndGlyphs" text-anchor="middle" stroke="#1a1a1a" stroke-width="0.3">12</text>
<text x="149.3" y="903.8" font-family="Liberation Sans, Arial, sans-serif" font-size="14.8" font-weight="normal" fill="#1a1a1a" textLength="16.3" lengthAdjust="spacingAndGlyphs" text-anchor="middle" stroke="#1a1a1a" stroke-width="0.3">19</text>
<text x="188.2" y="903.8" font-family="Liberation Sans, Arial, sans-serif" font-size="14.8" font-weight="normal" fill="#1a1a1a" textLength="16.3" lengthAdjust="spacingAndGlyphs" text-anchor="middle" stroke="#1a1a1a" stroke-width="0.3">26</text>
<text x="266.1" y="903.8" font-family="Liberation Sans, Arial, sans-serif" font-size="14.8" font-weight="normal" fill="#1a1a1a" textLength="7.2" lengthAdjust="spacingAndGlyphs" text-anchor="middle" stroke="#1a1a1a" stroke-width="0.3">9</text>
<text x="305" y="903.8" font-family="Liberation Sans, Arial, sans-serif" font-size="14.8" font-weight="normal" fill="#1a1a1a" textLength="16.3" lengthAdjust="spacingAndGlyphs" text-anchor="middle" stroke="#1a1a1a" stroke-width="0.3">16</text>
<text x="343.9" y="903.8" font-family="Liberation Sans, Arial, sans-serif" font-size="14.8" font-weight="normal" fill="#1a1a1a" textLength="16.3" lengthAdjust="spacingAndGlyphs" text-anchor="middle" stroke="#1a1a1a" stroke-width="0.3">23</text>
<text x="414" y="903.8" font-family="Liberation Sans, Arial, sans-serif" font-size="14.8" font-weight="normal" fill="#1a1a1a" textLength="7.2" lengthAdjust="spacingAndGlyphs" text-anchor="middle" stroke="#1a1a1a" stroke-width="0.3">7</text>
<text x="452.9" y="903.8" font-family="Liberation Sans, Arial, sans-serif" font-size="14.8" font-weight="normal" fill="#1a1a1a" textLength="16.3" lengthAdjust="spacingAndGlyphs" text-anchor="middle" stroke="#1a1a1a" stroke-width="0.3">14</text>
<text x="491.8" y="903.8" font-family="Liberation Sans, Arial, sans-serif" font-size="14.8" font-weight="normal" fill="#1a1a1a" textLength="16.3" lengthAdjust="spacingAndGlyphs" text-anchor="middle" stroke="#1a1a1a" stroke-width="0.3">21</text>
<text x="523" y="903.8" font-family="Liberation Sans, Arial, sans-serif" font-size="14.8" font-weight="normal" fill="#1a1a1a" textLength="16.3" lengthAdjust="spacingAndGlyphs" text-anchor="middle" stroke="#1a1a1a" stroke-width="0.3">28</text>
<text x="593" y="903.8" font-family="Liberation Sans, Arial, sans-serif" font-size="14.8" font-weight="normal" fill="#1a1a1a" textLength="16.3" lengthAdjust="spacingAndGlyphs" text-anchor="middle" stroke="#1a1a1a" stroke-width="0.3">11</text>
<text x="631.9" y="903.8" font-family="Liberation Sans, Arial, sans-serif" font-size="14.8" font-weight="normal" fill="#1a1a1a" textLength="16.3" lengthAdjust="spacingAndGlyphs" text-anchor="middle" stroke="#1a1a1a" stroke-width="0.3">19</text>
<text x="663.1" y="903.8" font-family="Liberation Sans, Arial, sans-serif" font-size="14.8" font-weight="normal" fill="#1a1a1a" textLength="16.3" lengthAdjust="spacingAndGlyphs" text-anchor="middle" stroke="#1a1a1a" stroke-width="0.3">25</text>
<text x="740.9" y="903.8" font-family="Liberation Sans, Arial, sans-serif" font-size="14.8" font-weight="normal" fill="#1a1a1a" textLength="7.2" lengthAdjust="spacingAndGlyphs" text-anchor="middle" stroke="#1a1a1a" stroke-width="0.3">8</text>
<text x="779.9" y="903.8" font-family="Liberation Sans, Arial, sans-serif" font-size="14.8" font-weight="normal" fill="#1a1a1a" textLength="16.3" lengthAdjust="spacingAndGlyphs" text-anchor="middle" stroke="#1a1a1a" stroke-width="0.3">16</text>
<text x="811" y="903.8" font-family="Liberation Sans, Arial, sans-serif" font-size="14.8" font-weight="normal" fill="#1a1a1a" textLength="16.3" lengthAdjust="spacingAndGlyphs" text-anchor="middle" stroke="#1a1a1a" stroke-width="0.3">22</text>
<text x="888.9" y="903.8" font-family="Liberation Sans, Arial, sans-serif" font-size="14.8" font-weight="normal" fill="#1a1a1a" textLength="7.2" lengthAdjust="spacingAndGlyphs" text-anchor="middle" stroke="#1a1a1a" stroke-width="0.3">8</text>
<text x="927.8" y="903.8" font-family="Liberation Sans, Arial, sans-serif" font-size="14.8" font-weight="normal" fill="#1a1a1a" textLength="16.3" lengthAdjust="spacingAndGlyphs" text-anchor="middle" stroke="#1a1a1a" stroke-width="0.3">15</text>
<text x="966.7" y="903.8" font-family="Liberation Sans, Arial, sans-serif" font-size="14.8" font-weight="normal" fill="#1a1a1a" textLength="16.3" lengthAdjust="spacingAndGlyphs" text-anchor="middle" stroke="#1a1a1a" stroke-width="0.3">22</text>
<text x="1005.6" y="903.8" font-family="Liberation Sans, Arial, sans-serif" font-size="14.8" font-weight="normal" fill="#1a1a1a" textLength="16.3" lengthAdjust="spacingAndGlyphs" text-anchor="middle" stroke="#1a1a1a" stroke-width="0.3">29</text>
<text x="1075.7" y="903.8" font-family="Liberation Sans, Arial, sans-serif" font-size="14.8" font-weight="normal" fill="#1a1a1a" textLength="16.3" lengthAdjust="spacingAndGlyphs" text-anchor="middle" stroke="#1a1a1a" stroke-width="0.3">12</text>
<text x="1114.6" y="903.8" font-family="Liberation Sans, Arial, sans-serif" font-size="14.8" font-weight="normal" fill="#1a1a1a" textLength="16.3" lengthAdjust="spacingAndGlyphs" text-anchor="middle" stroke="#1a1a1a" stroke-width="0.3">19</text>
<text x="56.6" y="903.8" font-family="Liberation Sans, Arial, sans-serif" font-size="16" font-weight="bold" fill="#000" textLength="26.7" lengthAdjust="spacingAndGlyphs" text-anchor="middle">Oct</text>
<text x="227.8" y="903.8" font-family="Liberation Sans, Arial, sans-serif" font-size="16" font-weight="bold" fill="#000" textLength="31.3" lengthAdjust="spacingAndGlyphs" text-anchor="middle">Nov</text>
<text x="383.5" y="903.8" font-family="Liberation Sans, Arial, sans-serif" font-size="16" font-weight="bold" fill="#000" textLength="30" lengthAdjust="spacingAndGlyphs" text-anchor="middle">Dec</text>
<text x="552.5" y="903.8" font-family="Liberation Sans, Arial, sans-serif" font-size="16" font-weight="bold" fill="#000" textLength="36.4" lengthAdjust="spacingAndGlyphs" text-anchor="middle">2021</text>
<text x="702.7" y="903.8" font-family="Liberation Sans, Arial, sans-serif" font-size="16" font-weight="bold" fill="#000" textLength="30" lengthAdjust="spacingAndGlyphs" text-anchor="middle">Feb</text>
<text x="850.6" y="903.8" font-family="Liberation Sans, Arial, sans-serif" font-size="16" font-weight="bold" fill="#000" textLength="31.7" lengthAdjust="spacingAndGlyphs" text-anchor="middle">Mar</text>
<text x="1029.7" y="903.8" font-family="Liberation Sans, Arial, sans-serif" font-size="16" font-weight="bold" fill="#000" textLength="30" lengthAdjust="spacingAndGlyphs" text-anchor="middle">Apr</text>
<text x="5.5" y="504.3" font-family="Liberation Sans, Arial, sans-serif" font-size="14.5" font-weight="normal" fill="#222" textLength="20.5" lengthAdjust="spacingAndGlyphs" stroke="#222" stroke-width="0.3">1B</text>
<line x1="26.5" y1="499.4" x2="30.5" y2="499.4" stroke="#777" stroke-width="1"/>
<text x="5.5" y="477.8" font-family="Liberation Sans, Arial, sans-serif" font-size="14.5" font-weight="normal" fill="#222" textLength="20.5" lengthAdjust="spacingAndGlyphs" stroke="#222" stroke-width="0.3">2B</text>
<line x1="26.5" y1="472.9" x2="30.5" y2="472.9" stroke="#777" stroke-width="1"/>
<text x="5.5" y="451.2" font-family="Liberation Sans, Arial, sans-serif" font-size="14.5" font-weight="normal" fill="#222" textLength="20.5" lengthAdjust="spacingAndGlyphs" stroke="#222" stroke-width="0.3">3B</text>
<line x1="26.5" y1="446.4" x2="30.5" y2="446.4" stroke="#777" stroke-width="1"/>
<text x="5.5" y="424.7" font-family="Liberation Sans, Arial, sans-serif" font-size="14.5" font-weight="normal" fill="#222" textLength="20.5" lengthAdjust="spacingAndGlyphs" stroke="#222" stroke-width="0.3">4B</text>
<line x1="26.5" y1="419.8" x2="30.5" y2="419.8" stroke="#777" stroke-width="1"/>
<text x="5.5" y="398.1" font-family="Liberation Sans, Arial, sans-serif" font-size="14.5" font-weight="normal" fill="#222" textLength="20.5" lengthAdjust="spacingAndGlyphs" stroke="#222" stroke-width="0.3">5B</text>
<line x1="26.5" y1="393.2" x2="30.5" y2="393.2" stroke="#777" stroke-width="1"/>
<text x="5.5" y="371.6" font-family="Liberation Sans, Arial, sans-serif" font-size="14.5" font-weight="normal" fill="#222" textLength="20.5" lengthAdjust="spacingAndGlyphs" stroke="#222" stroke-width="0.3">6B</text>
<line x1="26.5" y1="366.7" x2="30.5" y2="366.7" stroke="#777" stroke-width="1"/>
<clipPath id="cc"><rect x="30.5" y="550.3" width="1095.5" height="168.5"/></clipPath>
<line x1="33.5" y1="550.3" x2="33.5" y2="718.8" stroke="#d9d9d9" stroke-width="1.15"/>
<line x1="72.4" y1="550.3" x2="72.4" y2="718.8" stroke="#d9d9d9" stroke-width="1.15"/>
<line x1="376" y1="550.3" x2="376" y2="718.8" stroke="#d9d9d9" stroke-width="1.15"/>
<line x1="111.3" y1="550.3" x2="111.3" y2="718.8" stroke="#d9d9d9" stroke-width="1.15"/>
<line x1="150.3" y1="550.3" x2="150.3" y2="718.8" stroke="#d9d9d9" stroke-width="1.15"/>
<line x1="189.2" y1="550.3" x2="189.2" y2="718.8" stroke="#d9d9d9" stroke-width="1.15"/>
<line x1="267.1" y1="550.3" x2="267.1" y2="718.8" stroke="#d9d9d9" stroke-width="1.15"/>
<line x1="306" y1="550.3" x2="306" y2="718.8" stroke="#d9d9d9" stroke-width="1.15"/>
<line x1="344.9" y1="550.3" x2="344.9" y2="718.8" stroke="#d9d9d9" stroke-width="1.15"/>
<line x1="415" y1="550.3" x2="415" y2="718.8" stroke="#d9d9d9" stroke-width="1.15"/>
<line x1="453.9" y1="550.3" x2="453.9" y2="718.8" stroke="#d9d9d9" stroke-width="1.15"/>
<line x1="492.8" y1="550.3" x2="492.8" y2="718.8" stroke="#d9d9d9" stroke-width="1.15"/>
<line x1="524" y1="550.3" x2="524" y2="718.8" stroke="#d9d9d9" stroke-width="1.15"/>
<line x1="594" y1="550.3" x2="594" y2="718.8" stroke="#d9d9d9" stroke-width="1.15"/>
<line x1="632.9" y1="550.3" x2="632.9" y2="718.8" stroke="#d9d9d9" stroke-width="1.15"/>
<line x1="664.1" y1="550.3" x2="664.1" y2="718.8" stroke="#d9d9d9" stroke-width="1.15"/>
<line x1="741.9" y1="550.3" x2="741.9" y2="718.8" stroke="#d9d9d9" stroke-width="1.15"/>
<line x1="780.9" y1="550.3" x2="780.9" y2="718.8" stroke="#d9d9d9" stroke-width="1.15"/>
<line x1="812" y1="550.3" x2="812" y2="718.8" stroke="#d9d9d9" stroke-width="1.15"/>
<line x1="889.9" y1="550.3" x2="889.9" y2="718.8" stroke="#d9d9d9" stroke-width="1.15"/>
<line x1="928.8" y1="550.3" x2="928.8" y2="718.8" stroke="#d9d9d9" stroke-width="1.15"/>
<line x1="967.7" y1="550.3" x2="967.7" y2="718.8" stroke="#d9d9d9" stroke-width="1.15"/>
<line x1="1006.6" y1="550.3" x2="1006.6" y2="718.8" stroke="#d9d9d9" stroke-width="1.15"/>
<line x1="1037.8" y1="550.3" x2="1037.8" y2="718.8" stroke="#d9d9d9" stroke-width="1.15"/>
<line x1="1076.7" y1="550.3" x2="1076.7" y2="718.8" stroke="#d9d9d9" stroke-width="1.15"/>
<line x1="1115.6" y1="550.3" x2="1115.6" y2="718.8" stroke="#d9d9d9" stroke-width="1.15"/>
<line x1="56.9" y1="550.3" x2="56.9" y2="718.8" stroke="#b4b4b4" stroke-width="1.2"/>
<line x1="228.1" y1="550.3" x2="228.1" y2="718.8" stroke="#b4b4b4" stroke-width="1.2"/>
<line x1="383.8" y1="550.3" x2="383.8" y2="718.8" stroke="#b4b4b4" stroke-width="1.2"/>
<line x1="555.1" y1="550.3" x2="555.1" y2="718.8" stroke="#b4b4b4" stroke-width="1.2"/>
<line x1="703" y1="550.3" x2="703" y2="718.8" stroke="#b4b4b4" stroke-width="1.2"/>
<line x1="850.9" y1="550.3" x2="850.9" y2="718.8" stroke="#b4b4b4" stroke-width="1.2"/>
<line x1="1030" y1="550.3" x2="1030" y2="718.8" stroke="#b4b4b4" stroke-width="1.2"/>
<line x1="30.5" y1="572.7" x2="1126" y2="572.7" stroke="#d9d9d9" stroke-width="1.15"/>
<line x1="30.5" y1="698.1" x2="1126" y2="698.1" stroke="#d9d9d9" stroke-width="1.15"/>
<g clip-path="url(#cc)">
<path d="M86,604 L88,600.4 L95.8,589.1 L103.6,582.9 L111.3,572.4 L119.1,582.9 L126.9,594.1 L133.1,604Z" fill="#6f9a6f"/>
<path d="M261.6,604 L267.1,588.6 L274.8,602.5 L282.6,595.2 L289,604Z" fill="#6f9a6f"/>
<path d="M292.5,604 L298.2,598.5 L306,593.8 L313.8,601.5 L316.1,604Z" fill="#6f9a6f"/>
<path d="M379.7,604 L383.8,594.5 L391.6,594.8 L399.4,595.3 L407.2,589.2 L415,593 L422.8,595.3 L429.5,604Z" fill="#6f9a6f"/>
<path d="M469.8,604 L477.2,596.2 L485,603.6 L485.2,604Z" fill="#6f9a6f"/>
<path d="M518.5,604 L524,580.3 L531.7,580.7 L539.5,589.2 L547.3,582.5 L551.5,604Z" fill="#6f9a6f"/>
<path d="M567.5,604 L570.7,596.2 L578.5,568.2 L586.2,570.9 L594,584.5 L601.8,594.8 L609.6,592.7 L617.4,601.1 L618.5,604Z" fill="#6f9a6f"/>
<path d="M635.8,604 L640.7,592.2 L648.5,592.3 L656.3,601.6 L660.2,604Z" fill="#6f9a6f"/>
<path d="M666.5,604 L671.9,598.9 L672.8,604Z" fill="#6f9a6f"/>
<path d="M722.9,604 L726.4,596 L734.1,586.7 L741.9,581.9 L749.7,589 L757.5,594.9 L765.3,598.6 L773.1,596.2 L780.9,596.3 L787.2,604Z" fill="#6f9a6f"/>
<path d="M911.9,604 L913.2,600.4 L918.9,604Z" fill="#6f9a6f"/>
<path d="M922.1,604 L928.8,595.7 L936.6,591.1 L944.3,595.8 L948,604Z" fill="#6f9a6f"/>
<path d="M1022.3,604 L1030,586.8 L1037.8,560.6 L1045.6,565.9 L1053.3,575.9 L1061.1,581.7 L1068.9,583.7 L1076.7,591 L1084.5,594.4 L1092.3,601.3 L1100,598.9 L1107.8,598.4 L1113.7,604Z" fill="#6f9a6f"/>
<path d="M198.9,666.8 L204.8,698.4 L212.6,687.2 L220.3,694.5 L228.1,674.9 L231.2,666.8Z" fill="#a87070"/>
<path d="M693.9,666.8 L695.2,673.3 L697.8,666.8Z" fill="#a87070"/>
<path d="M865,666.8 L866.5,673.6 L874.3,710.1 L882.1,681.7 L887.1,666.8Z" fill="#a87070"/>
<line x1="30.5" y1="604" x2="1126.0" y2="604" stroke="#555" stroke-width="1.5"/>
<line x1="30.5" y1="666.8" x2="1126.0" y2="666.8" stroke="#555" stroke-width="1.5"/>
<line x1="30.5" y1="635.4" x2="1129.0" y2="635.4" stroke="#555" stroke-width="1.2" stroke-dasharray="10,3.5,2.5,3.5"/>
<path d="M30.5,648.4 L33.5,643.4 L41.3,642.9 L49.1,631.6 L56.9,621.1 L64.6,634.1 L72.4,605.9 L80.2,614.9 L88,600.4 L95.8,589.1 L103.6,582.9 L111.3,572.4 L119.1,582.9 L126.9,594.1 L134.7,606.6 L142.5,604.9 L150.3,619.6 L158.1,619.9 L165.8,624.1 L173.6,627.4 L181.4,624.5 L189.2,650 L197,656.6 L204.8,698.4 L212.6,687.2 L220.3,694.5 L228.1,674.9 L235.9,654.3 L243.7,627.4 L251.5,608.4 L259.3,610.7 L267.1,588.6 L274.8,602.5 L282.6,595.2 L290.4,606 L298.2,598.5 L306,593.8 L313.8,601.5 L321.5,609.9 L329.3,615.1 L337.1,617.7 L344.9,617.6 L352.7,608.7 L360.5,608.8 L368.3,607 L376,612.6 L383.8,594.5 L391.6,594.8 L399.4,595.3 L407.2,589.2 L415,593 L422.8,595.3 L430.5,605.4 L438.3,616.7 L446.1,623.6 L453.9,619.8 L461.7,611.5 L469.5,604.5 L477.2,596.2 L485,603.6 L492.8,625 L500.6,620.2 L508.4,613.7 L516.2,614.2 L524,580.3 L531.7,580.7 L539.5,589.2 L547.3,582.5 L555.1,622.2 L562.9,615.6 L570.7,596.2 L578.5,568.2 L586.2,570.9 L594,584.5 L601.8,594.8 L609.6,592.7 L617.4,601.1 L625.2,621.8 L632.9,610.8 L640.7,592.2 L648.5,592.3 L656.3,601.6 L664.1,606.4 L671.9,598.9 L679.7,644 L687.4,635.4 L695.2,673.3 L703,653.7 L710.8,619.4 L718.6,614.2 L726.4,596 L734.1,586.7 L741.9,581.9 L749.7,589 L757.5,594.9 L765.3,598.6 L773.1,596.2 L780.9,596.3 L788.6,605.8 L796.4,614.6 L804.2,614.3 L812,626.6 L819.8,637.1 L827.6,620.3 L835.4,643 L843.1,659.8 L850.9,632.3 L858.7,638.3 L866.5,673.6 L874.3,710.1 L882.1,681.7 L889.9,658.6 L897.6,636.1 L905.4,621.9 L913.2,600.4 L921,605.4 L928.8,595.7 L936.6,591.1 L944.3,595.8 L952.1,613.3 L959.9,623.6 L967.7,613.4 L975.5,622.9 L983.3,628.6 L991.1,631.9 L998.8,606.4 L1006.6,605.2 L1014.4,611.8 L1022.2,604.4 L1030,586.8 L1037.8,560.6 L1045.6,565.9 L1053.3,575.9 L1061.1,581.7 L1068.9,583.7 L1076.7,591 L1084.5,594.4 L1092.3,601.3 L1100,598.9 L1107.8,598.4 L1115.6,605.9" fill="none" stroke="#151515" stroke-width="1.5" stroke-linejoin="round"/>
</g>
<rect x="30.5" y="550.3" width="1095.5" height="168.5" fill="none" stroke="#adadad" stroke-width="1.3"/>
<line x1="1126.0" y1="716.9" x2="1127.8" y2="716.9" stroke="#aaa" stroke-width="1"/>
<line x1="1126.0" y1="710.6" x2="1127.8" y2="710.6" stroke="#aaa" stroke-width="1"/>
<line x1="1126.0" y1="704.4" x2="1127.8" y2="704.4" stroke="#aaa" stroke-width="1"/>
<line x1="1126.0" y1="698.1" x2="1129.0" y2="698.1" stroke="#aaa" stroke-width="1"/>
<line x1="1126.0" y1="691.8" x2="1127.8" y2="691.8" stroke="#aaa" stroke-width="1"/>
<line x1="1126.0" y1="685.6" x2="1127.8" y2="685.6" stroke="#aaa" stroke-width="1"/>
<line x1="1126.0" y1="679.3" x2="1127.8" y2="679.3" stroke="#aaa" stroke-width="1"/>
<line x1="1126.0" y1="673" x2="1127.8" y2="673" stroke="#aaa" stroke-width="1"/>
<line x1="1126.0" y1="666.8" x2="1129.0" y2="666.8" stroke="#aaa" stroke-width="1"/>
<line x1="1126.0" y1="660.5" x2="1127.8" y2="660.5" stroke="#aaa" stroke-width="1"/>
<line x1="1126.0" y1="654.2" x2="1127.8" y2="654.2" stroke="#aaa" stroke-width="1"/>
<line x1="1126.0" y1="647.9" x2="1127.8" y2="647.9" stroke="#aaa" stroke-width="1"/>
<line x1="1126.0" y1="641.7" x2="1127.8" y2="641.7" stroke="#aaa" stroke-width="1"/>
<line x1="1126.0" y1="635.4" x2="1129.0" y2="635.4" stroke="#aaa" stroke-width="1"/>
<line x1="1126.0" y1="629.1" x2="1127.8" y2="629.1" stroke="#aaa" stroke-width="1"/>
<line x1="1126.0" y1="622.9" x2="1127.8" y2="622.9" stroke="#aaa" stroke-width="1"/>
<line x1="1126.0" y1="616.6" x2="1127.8" y2="616.6" stroke="#aaa" stroke-width="1"/>
<line x1="1126.0" y1="610.3" x2="1127.8" y2="610.3" stroke="#aaa" stroke-width="1"/>
<line x1="1126.0" y1="604" x2="1129.0" y2="604" stroke="#aaa" stroke-width="1"/>
<line x1="1126.0" y1="597.8" x2="1127.8" y2="597.8" stroke="#aaa" stroke-width="1"/>
<line x1="1126.0" y1="591.5" x2="1127.8" y2="591.5" stroke="#aaa" stroke-width="1"/>
<line x1="1126.0" y1="585.2" x2="1127.8" y2="585.2" stroke="#aaa" stroke-width="1"/>
<line x1="1126.0" y1="579" x2="1127.8" y2="579" stroke="#aaa" stroke-width="1"/>
<line x1="1126.0" y1="572.7" x2="1129.0" y2="572.7" stroke="#aaa" stroke-width="1"/>
<line x1="1126.0" y1="566.4" x2="1127.8" y2="566.4" stroke="#aaa" stroke-width="1"/>
<line x1="1126.0" y1="560.2" x2="1127.8" y2="560.2" stroke="#aaa" stroke-width="1"/>
<line x1="1126.0" y1="553.9" x2="1127.8" y2="553.9" stroke="#aaa" stroke-width="1"/>
<text x="1136" y="576.3" font-family="Liberation Sans, Arial, sans-serif" font-size="14.5" font-weight="normal" fill="#222" textLength="27" lengthAdjust="spacingAndGlyphs" stroke="#222" stroke-width="0.3">200</text>
<text x="1154.5" y="639" font-family="Liberation Sans, Arial, sans-serif" font-size="14.5" font-weight="normal" fill="#222" textLength="8.5" lengthAdjust="spacingAndGlyphs" stroke="#222" stroke-width="0.3">0</text>
<text x="1131.5" y="670.4" font-family="Liberation Sans, Arial, sans-serif" font-size="14.5" font-weight="normal" fill="#222" textLength="31.5" lengthAdjust="spacingAndGlyphs" stroke="#222" stroke-width="0.3">-100</text>
<text x="1131.5" y="701.7" font-family="Liberation Sans, Arial, sans-serif" font-size="14.5" font-weight="normal" fill="#222" textLength="31.5" lengthAdjust="spacingAndGlyphs" stroke="#222" stroke-width="0.3">-200</text>
<clipPath id="cs"><rect x="30.5" y="718.8" width="1095.5" height="168.70000000000005"/></clipPath>
<line x1="33.5" y1="718.8" x2="33.5" y2="887.5" stroke="#d9d9d9" stroke-width="1.15"/>
<line x1="72.4" y1="718.8" x2="72.4" y2="887.5" stroke="#d9d9d9" stroke-width="1.15"/>
<line x1="376" y1="718.8" x2="376" y2="887.5" stroke="#d9d9d9" stroke-width="1.15"/>
<line x1="111.3" y1="718.8" x2="111.3" y2="887.5" stroke="#d9d9d9" stroke-width="1.15"/>
<line x1="150.3" y1="718.8" x2="150.3" y2="887.5" stroke="#d9d9d9" stroke-width="1.15"/>
<line x1="189.2" y1="718.8" x2="189.2" y2="887.5" stroke="#d9d9d9" stroke-width="1.15"/>
<line x1="267.1" y1="718.8" x2="267.1" y2="887.5" stroke="#d9d9d9" stroke-width="1.15"/>
<line x1="306" y1="718.8" x2="306" y2="887.5" stroke="#d9d9d9" stroke-width="1.15"/>
<line x1="344.9" y1="718.8" x2="344.9" y2="887.5" stroke="#d9d9d9" stroke-width="1.15"/>
<line x1="415" y1="718.8" x2="415" y2="887.5" stroke="#d9d9d9" stroke-width="1.15"/>
<line x1="453.9" y1="718.8" x2="453.9" y2="887.5" stroke="#d9d9d9" stroke-width="1.15"/>
<line x1="492.8" y1="718.8" x2="492.8" y2="887.5" stroke="#d9d9d9" stroke-width="1.15"/>
<line x1="524" y1="718.8" x2="524" y2="887.5" stroke="#d9d9d9" stroke-width="1.15"/>
<line x1="594" y1="718.8" x2="594" y2="887.5" stroke="#d9d9d9" stroke-width="1.15"/>
<line x1="632.9" y1="718.8" x2="632.9" y2="887.5" stroke="#d9d9d9" stroke-width="1.15"/>
<line x1="664.1" y1="718.8" x2="664.1" y2="887.5" stroke="#d9d9d9" stroke-width="1.15"/>
<line x1="741.9" y1="718.8" x2="741.9" y2="887.5" stroke="#d9d9d9" stroke-width="1.15"/>
<line x1="780.9" y1="718.8" x2="780.9" y2="887.5" stroke="#d9d9d9" stroke-width="1.15"/>
<line x1="812" y1="718.8" x2="812" y2="887.5" stroke="#d9d9d9" stroke-width="1.15"/>
<line x1="889.9" y1="718.8" x2="889.9" y2="887.5" stroke="#d9d9d9" stroke-width="1.15"/>
<line x1="928.8" y1="718.8" x2="928.8" y2="887.5" stroke="#d9d9d9" stroke-width="1.15"/>
<line x1="967.7" y1="718.8" x2="967.7" y2="887.5" stroke="#d9d9d9" stroke-width="1.15"/>
<line x1="1006.6" y1="718.8" x2="1006.6" y2="887.5" stroke="#d9d9d9" stroke-width="1.15"/>
<line x1="1037.8" y1="718.8" x2="1037.8" y2="887.5" stroke="#d9d9d9" stroke-width="1.15"/>
<line x1="1076.7" y1="718.8" x2="1076.7" y2="887.5" stroke="#d9d9d9" stroke-width="1.15"/>
<line x1="1115.6" y1="718.8" x2="1115.6" y2="887.5" stroke="#d9d9d9" stroke-width="1.15"/>
<line x1="56.9" y1="718.8" x2="56.9" y2="887.5" stroke="#b4b4b4" stroke-width="1.2"/>
<line x1="228.1" y1="718.8" x2="228.1" y2="887.5" stroke="#b4b4b4" stroke-width="1.2"/>
<line x1="383.8" y1="718.8" x2="383.8" y2="887.5" stroke="#b4b4b4" stroke-width="1.2"/>
<line x1="555.1" y1="718.8" x2="555.1" y2="887.5" stroke="#b4b4b4" stroke-width="1.2"/>
<line x1="703" y1="718.8" x2="703" y2="887.5" stroke="#b4b4b4" stroke-width="1.2"/>
<line x1="850.9" y1="718.8" x2="850.9" y2="887.5" stroke="#b4b4b4" stroke-width="1.2"/>
<line x1="1030" y1="718.8" x2="1030" y2="887.5" stroke="#b4b4b4" stroke-width="1.2"/>
<line x1="30.5" y1="863.5" x2="1126" y2="863.5" stroke="#e4e4e4" stroke-width="1.15"/>
<line x1="30.5" y1="833.9" x2="1126" y2="833.9" stroke="#e4e4e4" stroke-width="1.15"/>
<line x1="30.5" y1="819.1" x2="1126" y2="819.1" stroke="#e4e4e4" stroke-width="1.15"/>
<line x1="30.5" y1="789.5" x2="1126" y2="789.5" stroke="#e4e4e4" stroke-width="1.15"/>
<line x1="30.5" y1="774.7" x2="1126" y2="774.7" stroke="#e4e4e4" stroke-width="1.15"/>
<line x1="30.5" y1="745.1" x2="1126" y2="745.1" stroke="#e4e4e4" stroke-width="1.15"/>
<line x1="30.5" y1="730.3" x2="1126" y2="730.3" stroke="#e4e4e4" stroke-width="1.15"/>
<line x1="30.5" y1="878.3" x2="1126" y2="878.3" stroke="#e4e4e4" stroke-width="1.15"/>
<g clip-path="url(#cs)">
<line x1="30.5" y1="759.9" x2="1126.0" y2="759.9" stroke="#555" stroke-width="1.5"/>
<line x1="30.5" y1="848.7" x2="1126.0" y2="848.7" stroke="#555" stroke-width="1.5"/>
<line x1="30.5" y1="804.3" x2="1129.0" y2="804.3" stroke="#333" stroke-width="1.5" stroke-dasharray="10,3.5,2.5,3.5"/>
<path d="M30.5,848 L33.5,845 L41.3,820 L49.1,798.8 L56.9,785 L64.6,777.5 L72.4,771.2 L80.2,768.8 L88,762.5 L95.8,757.5 L103.6,745 L111.3,738 L119.1,737.5 L126.9,741.2 L134.7,750 L142.5,760 L150.3,772.5 L158.1,783.8 L165.8,795.4 L173.6,801 L181.4,802.9 L189.2,806.1 L197,816.4 L204.8,836.6 L212.6,852.4 L220.3,862.5 L228.1,859.2 L235.9,850.4 L243.7,830.9 L251.5,804.5 L259.3,775.9 L267.1,757.2 L274.8,752.4 L282.6,756.6 L290.4,761.8 L298.2,762.5 L306,759.3 L313.8,752.7 L321.5,748.3 L329.3,748.2 L337.1,754.3 L344.9,761.2 L352.7,764.3 L360.5,761.2 L368.3,752.8 L376,747.8 L383.8,745.6 L391.6,746.9 L399.4,745.6 L407.2,742.8 L415,740.2 L422.8,737.2 L430.5,739.9 L438.3,746.3 L446.1,758.6 L453.9,772 L461.7,779.9 L469.5,779.9 L477.2,765.5 L485,753.6 L492.8,748.9 L500.6,760.4 L508.4,774.6 L516.2,783.6 L524,779.2 L531.7,768.9 L539.5,759 L547.3,755.2 L555.1,758.4 L562.9,764.6 L570.7,774.4 L578.5,772.1 L586.2,762.6 L594,748.2 L601.8,742.9 L609.6,744.4 L617.4,748.2 L625.2,753.8 L632.9,758.9 L640.7,761 L648.5,754.8 L656.3,746.7 L664.1,741 L671.9,741.4 L679.7,755 L687.4,777.7 L695.2,811.5 L703,827.7 L710.8,829 L718.6,807.1 L726.4,781.7 L734.1,758.6 L741.9,742.6 L749.7,735.9 L757.5,733.6 L765.3,735.9 L773.1,737.6 L780.9,738.1 L788.6,738 L796.4,740.2 L804.2,744.8 L812,755.4 L819.8,769.4 L827.6,780.9 L835.4,791.9 L843.1,803.8 L850.9,818.1 L858.7,821 L866.5,816.8 L874.3,818.6 L882.1,825.4 L889.9,828.7 L897.6,815.1 L905.4,796.5 L913.2,775.2 L921,759.5 L928.8,746.8 L936.6,741 L944.3,737.5 L952.1,740.8 L959.9,747.4 L967.7,756.9 L975.5,762.4 L983.3,766.5 L991.1,773.3 L998.8,776.2 L1006.6,773.1 L1014.4,761.6 L1022.2,755.3 L1030,751.5 L1037.8,748.2 L1045.6,741.5 L1053.3,736.8 L1061.1,734.7 L1068.9,733.7 L1076.7,732.2 L1084.5,731.7 L1092.3,733.6 L1100,735.8 L1107.8,737.4 L1115.6,737.8" fill="none" stroke="#f01818" stroke-width="1.3" stroke-linejoin="round"/>
<path d="M30.5,831.2 L33.5,821.2 L41.3,798.8 L49.1,785 L56.9,777.5 L64.6,775.5 L72.4,765 L80.2,768 L88,753.8 L95.8,747.5 L103.6,736.2 L111.3,733.8 L119.1,738.8 L126.9,750 L134.7,761.2 L142.5,770 L150.3,786.1 L158.1,794.9 L165.8,805.4 L173.6,802.7 L181.4,800.5 L189.2,815.2 L197,833.4 L204.8,861.3 L212.6,862.5 L220.3,863.7 L228.1,851.3 L235.9,836.1 L243.7,805.2 L251.5,772.2 L259.3,750.2 L267.1,749.1 L274.8,757.8 L282.6,763 L290.4,764.6 L298.2,759.9 L306,753.4 L313.8,744.7 L321.5,746.8 L329.3,753.2 L337.1,762.9 L344.9,767.7 L352.7,762.5 L360.5,753.5 L368.3,742.5 L376,747.4 L383.8,746.9 L391.6,746.4 L399.4,743.4 L407.2,738.6 L415,738.5 L422.8,734.6 L430.5,746.5 L438.3,757.7 L446.1,771.4 L453.9,787 L461.7,781.2 L469.5,771.4 L477.2,743.9 L485,745.5 L492.8,757.2 L500.6,778.3 L508.4,788.3 L516.2,784.1 L524,765.1 L531.7,757.4 L539.5,754.4 L547.3,753.8 L555.1,767.1 L562.9,773 L570.7,783 L578.5,760.2 L586.2,744.6 L594,739.7 L601.8,744.5 L609.6,749 L617.4,751.3 L625.2,761.2 L632.9,764.4 L640.7,757.4 L648.5,742.7 L656.3,740 L664.1,740.3 L671.9,743.8 L679.7,781 L687.4,808.2 L695.2,845.4 L703,829.4 L710.8,812 L718.6,779.7 L726.4,753.3 L734.1,742.6 L741.9,732 L749.7,733 L757.5,736 L765.3,738.7 L773.1,738.1 L780.9,737.4 L788.6,738.3 L796.4,744.9 L804.2,751.1 L812,770.4 L819.8,786.7 L827.6,785.6 L835.4,803.4 L843.1,822.3 L850.9,828.6 L858.7,812.2 L866.5,809.6 L874.3,833.9 L882.1,832.8 L889.9,819.3 L897.6,793 L905.4,777 L913.2,755.4 L921,746.2 L928.8,738.7 L936.6,737.9 L944.3,735.8 L952.1,748.6 L959.9,757.9 L967.7,764.2 L975.5,765.2 L983.3,770.2 L991.1,784.4 L998.8,773.9 L1006.6,761 L1014.4,750 L1022.2,754.9 L1030,749.7 L1037.8,740.2 L1045.6,734.6 L1053.3,735.6 L1061.1,734 L1068.9,731.5 L1076.7,731.1 L1084.5,732.5 L1092.3,737.4 L1100,737.4 L1107.8,737.5 L1115.6,738.5" fill="none" stroke="#111" stroke-width="2.3" stroke-linejoin="round"/>
</g>
<rect x="30.5" y="718.8" width="1095.5" height="168.70000000000005" fill="none" stroke="#adadad" stroke-width="1.3"/>
<line x1="1126.0" y1="878.3" x2="1127.8" y2="878.3" stroke="#aaa" stroke-width="1"/>
<line x1="1126.0" y1="863.5" x2="1127.8" y2="863.5" stroke="#aaa" stroke-width="1"/>
<line x1="1126.0" y1="848.7" x2="1129.0" y2="848.7" stroke="#aaa" stroke-width="1"/>
<line x1="1126.0" y1="833.9" x2="1127.8" y2="833.9" stroke="#aaa" stroke-width="1"/>
<line x1="1126.0" y1="819.1" x2="1127.8" y2="819.1" stroke="#aaa" stroke-width="1"/>
<line x1="1126.0" y1="804.3" x2="1129.0" y2="804.3" stroke="#aaa" stroke-width="1"/>
<line x1="1126.0" y1="789.5" x2="1127.8" y2="789.5" stroke="#aaa" stroke-width="1"/>
<line x1="1126.0" y1="774.7" x2="1127.8" y2="774.7" stroke="#aaa" stroke-width="1"/>
<line x1="1126.0" y1="759.9" x2="1129.0" y2="759.9" stroke="#aaa" stroke-width="1"/>
<line x1="1126.0" y1="745.1" x2="1127.8" y2="745.1" stroke="#aaa" stroke-width="1"/>
<line x1="1126.0" y1="730.3" x2="1127.8" y2="730.3" stroke="#aaa" stroke-width="1"/>
<text x="1132" y="763.7" font-family="Liberation Sans, Arial, sans-serif" font-size="14.5" font-weight="normal" fill="#222" textLength="17.3" lengthAdjust="spacingAndGlyphs" stroke="#222" stroke-width="0.3">80</text>
<text x="1132" y="808.1" font-family="Liberation Sans, Arial, sans-serif" font-size="14.5" font-weight="normal" fill="#222" textLength="17.3" lengthAdjust="spacingAndGlyphs" stroke="#222" stroke-width="0.3">50</text>
<text x="1132" y="852.5" font-family="Liberation Sans, Arial, sans-serif" font-size="14.5" font-weight="normal" fill="#222" textLength="17.3" lengthAdjust="spacingAndGlyphs" stroke="#222" stroke-width="0.3">20</text>
<path d="M1122.8,117.4 L1130.0,109.4 L1194.0,109.4 L1194.0,125.4 L1130.0,125.4 Z" fill="#fff" stroke="#1b5e1b" stroke-width="1.5" stroke-linejoin="miter"/>
<text x="1129.8" y="122.4" font-family="Liberation Sans, Arial, sans-serif" font-size="14.5" font-weight="normal" fill="#000" textLength="59.5" lengthAdjust="spacingAndGlyphs" stroke="#000" stroke-width="0.3">4045.89</text>
<path d="M1122.8,157.7 L1130.0,149.7 L1194.0,149.7 L1194.0,165.7 L1130.0,165.7 Z" fill="#fff" stroke="#22229a" stroke-width="1.5" stroke-linejoin="miter"/>
<text x="1129.8" y="162.7" font-family="Liberation Sans, Arial, sans-serif" font-size="14.5" font-weight="normal" fill="#000" textLength="59.5" lengthAdjust="spacingAndGlyphs" stroke="#000" stroke-width="0.3">3956.32</text>
<path d="M1122.8,202.9 L1130.0,194.9 L1194.0,194.9 L1194.0,210.9 L1130.0,210.9 Z" fill="#fff" stroke="#1b5e1b" stroke-width="1.5" stroke-linejoin="miter"/>
<text x="1129.8" y="207.9" font-family="Liberation Sans, Arial, sans-serif" font-size="14.5" font-weight="normal" fill="#000" textLength="59.5" lengthAdjust="spacingAndGlyphs" stroke="#000" stroke-width="0.3">3856.03</text>
<path d="M1122.8,320.2 L1130.0,312.2 L1194.0,312.2 L1194.0,328.2 L1130.0,328.2 Z" fill="#fff" stroke="#d81830" stroke-width="1.5" stroke-linejoin="miter"/>
<text x="1129.8" y="325.2" font-family="Liberation Sans, Arial, sans-serif" font-size="14.5" font-weight="normal" fill="#000" textLength="59.5" lengthAdjust="spacingAndGlyphs" stroke="#000" stroke-width="0.3">3610.20</text>
<path d="M1194,464.0 L1130,464.0 L1122.4,472.0 L1130,480.0 L1194,480.0" fill="#fff" stroke="#222" stroke-width="1.8" stroke-linejoin="miter"/>
<text x="1129.7" y="476.6" font-family="Liberation Sans, Arial, sans-serif" font-size="12.6" font-weight="normal" fill="#000" textLength="63.3" lengthAdjust="spacingAndGlyphs" stroke="#000" stroke-width="0.3">2006991</text>
<path d="M1122.8,67 L1130.0,58.2 L1194.0,58.2 L1194.0,75.7 L1130.0,75.7 Z" fill="#fff" stroke="#111" stroke-width="2" stroke-linejoin="miter"/>
<text x="1129.8" y="72" font-family="Liberation Sans, Arial, sans-serif" font-size="16" font-weight="bold" fill="#000" textLength="61" lengthAdjust="spacingAndGlyphs">4163.26</text>
<path d="M1122.8,604.3 L1130.0,596.3 L1174.7,596.3 L1174.7,612.3 L1130.0,612.3 Z" fill="#fff" stroke="#222" stroke-width="1.5" stroke-linejoin="miter"/>
<text x="1129.8" y="609.3" font-family="Liberation Sans, Arial, sans-serif" font-size="14.5" font-weight="normal" fill="#000" textLength="41.5" lengthAdjust="spacingAndGlyphs" stroke="#000" stroke-width="0.3">94.45</text>
<path d="M1122.8,736.4 L1130,728.4 L1174.7,728.4 L1174.7,744.4 L1130,744.4 Z" fill="#fff" stroke="#e01818" stroke-width="1.5"/>
<path d="M1122.8,737.1 L1130.0,729.1 L1174.9,729.1 L1174.9,745.1 L1130.0,745.1 Z" fill="#fff" stroke="#222" stroke-width="1.5" stroke-linejoin="miter"/>
<text x="1129.8" y="742.1" font-family="Liberation Sans, Arial, sans-serif" font-size="14.5" font-weight="normal" fill="#000" textLength="41.5" lengthAdjust="spacingAndGlyphs" stroke="#000" stroke-width="0.3">95.03</text>
<rect x="32" y="46" width="207" height="17" fill="#fff"/>
<rect x="32" y="63" width="127" height="16.5" fill="#fff"/>
<rect x="32" y="79.5" width="134.5" height="16.5" fill="#fff"/>
<rect x="32" y="96" width="280" height="16.5" fill="#fff"/>
<rect x="32" y="112.5" width="168" height="17" fill="#fff"/>
<g stroke="#111" stroke-width="1.3" fill="none"><line x1="36.4" y1="48.3" x2="36.4" y2="59.3"/><rect x="34.8" y="50.4" width="3.2" height="6.6" fill="#999"/><line x1="41.6" y1="52" x2="41.6" y2="60.5"/><rect x="39.4" y="54" width="4.4" height="4.6" fill="#111"/><line x1="46.3" y1="48.3" x2="46.3" y2="60.5"/><rect x="44.9" y="50.2" width="2.8" height="8.4" fill="#ddd"/></g>
<text x="53.8" y="60.2" font-family="DejaVu Sans, Verdana, sans-serif" font-size="14.3" font-weight="normal" fill="#111" textLength="184" lengthAdjust="spacingAndGlyphs" stroke="#111" stroke-width="0.3">$SPX (Daily) 4163.26</text>
<line x1="34.5" y1="72" x2="47.5" y2="72" stroke="#1c1c8c" stroke-width="2.5"/>
<text x="50.8" y="77.5" font-family="DejaVu Sans, Verdana, sans-serif" font-size="14" font-weight="normal" fill="#1c1c9c" textLength="106.5" lengthAdjust="spacingAndGlyphs" stroke="#1c1c9c" stroke-width="0.3">MA(50) 3956.32</text>
<line x1="34.5" y1="88.5" x2="47.5" y2="88.5" stroke="#d4001e" stroke-width="2.5"/>
<text x="50.8" y="94.5" font-family="DejaVu Sans, Verdana, sans-serif" font-size="14" font-weight="normal" fill="#d4001e" textLength="114" lengthAdjust="spacingAndGlyphs" stroke="#d4001e" stroke-width="0.3">MA(200) 3610.20</text>
<line x1="34.5" y1="105.3" x2="47.5" y2="105.3" stroke="#1b5e1b" stroke-width="2.5"/>
<text x="50.8" y="111.3" font-family="DejaVu Sans, Verdana, sans-serif" font-size="14" font-weight="normal" fill="#1b5e1b" textLength="260" lengthAdjust="spacingAndGlyphs" stroke="#1b5e1b" stroke-width="0.3">BB(20,2.0) 3856.03 - 4045.89 - 4235.76</text>
<g fill="#aaa" stroke="#333" stroke-width="1.2"><rect x="34.6" y="120.2" width="2.6" height="7"/><rect x="39.3" y="116" width="4" height="11.2"/><rect x="44.5" y="119.2" width="3" height="8"/></g>
<text x="50.8" y="127.4" font-family="DejaVu Sans, Verdana, sans-serif" font-size="14" font-weight="normal" fill="#2a2a2a" textLength="147.7" lengthAdjust="spacingAndGlyphs" stroke="#2a2a2a" stroke-width="0.3">Volume 2,006,991,232</text>
<rect x="32" y="552" width="150" height="17" fill="#fff"/>
<path d="M34.4,566 L34.4,561.8 L38,556.5 L41,552.8 L42.5,557 L44.2,560.2 L47.5,555.6 L47.5,566 Z" fill="#7fb27f"/>
<path d="M34.4,566 L34.4,561.8 L38,556.5 L41,552.8 L42.5,557 L44.2,560.2 L47.5,555.6 L47.5,566" fill="none" stroke="#111" stroke-width="1.5" stroke-linejoin="round"/>
<text x="54" y="565.9" font-family="DejaVu Sans, Verdana, sans-serif" font-size="14.3" font-weight="normal" fill="#111" textLength="124" lengthAdjust="spacingAndGlyphs" stroke="#111" stroke-width="0.3">CCI(20) 94.45</text>
<rect x="32" y="720.5" width="352" height="17" fill="#fff"/>
<line x1="34.5" y1="729.7" x2="47.5" y2="729.7" stroke="#111" stroke-width="2.4"/>
<text x="54" y="735.3" font-family="DejaVu Sans, Verdana, sans-serif" font-size="14" font-weight="normal" fill="#111" textLength="274" lengthAdjust="spacingAndGlyphs" stroke="#111" stroke-width="0.3">Slow STO %K(14) %D(3) 95.03,</text>
<text x="336" y="735.3" font-family="DejaVu Sans, Verdana, sans-serif" font-size="14" font-weight="normal" fill="#e01818" textLength="47" lengthAdjust="spacingAndGlyphs" stroke="#e01818" stroke-width="0.3">95.56</text>
<rect x="670" y="47" width="280" height="90.5" fill="#fff"/>
<rect x="675.5" y="52" width="269.3" height="81" fill="#fff" stroke="#6e6e6e" stroke-width="1.9"/>
<text x="681.2" y="75.8" font-family="Liberation Sans, Arial, sans-serif" font-size="20.5" font-weight="bold" fill="#262626" textLength="249" lengthAdjust="spacingAndGlyphs">The awaited correction is</text>
<text x="681.2" y="99.3" font-family="Liberation Sans, Arial, sans-serif" font-size="20.5" font-weight="bold" fill="#262626" textLength="208.7" lengthAdjust="spacingAndGlyphs">here, and the volume</text>
<text x="681.2" y="122.4" font-family="Liberation Sans, Arial, sans-serif" font-size="20.5" font-weight="bold" fill="#262626" textLength="226" lengthAdjust="spacingAndGlyphs">shows we&#39;re at its start.</text>
<rect x="816" y="273.8" width="275" height="52.2" fill="#fff"/>
<rect x="823.2" y="280.8" width="262.3" height="38.6" fill="#fdfb3c" stroke="#2a2a2a" stroke-width="2.3"/>
<text x="831.5" y="308.5" font-family="Liberation Sans, Arial, sans-serif" font-size="28" font-weight="bold" fill="#000" textLength="245.8" lengthAdjust="spacingAndGlyphs">monicakingsley.co</text>
<text x="30.5" y="21.3" font-family="Liberation Sans, Arial, sans-serif" font-size="21.5" font-weight="bold" fill="#000" textLength="51" lengthAdjust="spacingAndGlyphs">$SPX</text>
<text x="88" y="21.3" font-family="Liberation Sans, Arial, sans-serif" font-size="17.2" font-weight="normal" fill="#111" textLength="191" lengthAdjust="spacingAndGlyphs" stroke="#111" stroke-width="0.3">S&amp;P 500 Large Cap Index</text>
<text x="286.7" y="21.3" font-family="Liberation Sans, Arial, sans-serif" font-size="14.3" font-weight="normal" fill="#111" textLength="37.3" lengthAdjust="spacingAndGlyphs" stroke="#111" stroke-width="0.3">INDX</text>
<text x="31" y="39.8" font-family="Liberation Sans, Arial, sans-serif" font-size="14.5" font-weight="normal" fill="#111" textLength="86.5" lengthAdjust="spacingAndGlyphs" stroke="#111" stroke-width="0.3">19-Apr-2021</text>
<text x="375.3" y="39.4" font-family="Liberation Sans, Arial, sans-serif" font-size="16" font-weight="bold" fill="#000" textLength="43" lengthAdjust="spacingAndGlyphs">Open</text>
<text x="425.3" y="39.4" font-family="Liberation Sans, Arial, sans-serif" font-size="14.2" font-weight="normal" fill="#111" textLength="59.5" lengthAdjust="spacingAndGlyphs" stroke="#111" stroke-width="0.3">4179.80</text>
<text x="494" y="39.4" font-family="Liberation Sans, Arial, sans-serif" font-size="16" font-weight="bold" fill="#000" textLength="36.7" lengthAdjust="spacingAndGlyphs">High</text>
<text x="537.5" y="39.4" font-family="Liberation Sans, Arial, sans-serif" font-size="14.2" font-weight="normal" fill="#111" textLength="59.3" lengthAdjust="spacingAndGlyphs" stroke="#111" stroke-width="0.3">4180.81</text>
<text x="606.5" y="39.4" font-family="Liberation Sans, Arial, sans-serif" font-size="16" font-weight="bold" fill="#000" textLength="35" lengthAdjust="spacingAndGlyphs">Low</text>
<text x="649.3" y="39.4" font-family="Liberation Sans, Arial, sans-serif" font-size="14.2" font-weight="normal" fill="#111" textLength="59" lengthAdjust="spacingAndGlyphs" stroke="#111" stroke-width="0.3">4150.47</text>
<text x="719" y="39.4" font-family="Liberation Sans, Arial, sans-serif" font-size="16" font-weight="bold" fill="#000" textLength="47.5" lengthAdjust="spacingAndGlyphs">Close</text>
<text x="773.8" y="39.4" font-family="Liberation Sans, Arial, sans-serif" font-size="14.2" font-weight="normal" fill="#111" textLength="60" lengthAdjust="spacingAndGlyphs" stroke="#111" stroke-width="0.3">4163.26</text>
<text x="843.3" y="39.4" font-family="Liberation Sans, Arial, sans-serif" font-size="16" font-weight="bold" fill="#000" textLength="65" lengthAdjust="spacingAndGlyphs">Volume</text>
<text x="915" y="39.4" font-family="Liberation Sans, Arial, sans-serif" font-size="14.2" font-weight="normal" fill="#111" textLength="33.5" lengthAdjust="spacingAndGlyphs" stroke="#111" stroke-width="0.3">2.0B</text>
<text x="959" y="39.4" font-family="Liberation Sans, Arial, sans-serif" font-size="16" font-weight="bold" fill="#000" textLength="32.5" lengthAdjust="spacingAndGlyphs">Chg</text>
<text x="997.8" y="39.4" font-family="Liberation Sans, Arial, sans-serif" font-size="14.2" font-weight="normal" fill="#111" textLength="43.7" lengthAdjust="spacingAndGlyphs" stroke="#111" stroke-width="0.3">-22.21</text>
<text x="1048.7" y="39.4" font-family="Liberation Sans, Arial, sans-serif" font-size="14.2" font-weight="normal" fill="#111" textLength="62" lengthAdjust="spacingAndGlyphs" stroke="#111" stroke-width="0.3">(-0.53%)</text>
<path d="M1114.3,33 L1125.8,33 L1120,38 Z" fill="#a30f1f"/>
<text x="986.7" y="19.8" font-family="DejaVu Sans, Verdana, sans-serif" font-size="13.5" font-weight="normal" fill="#333" textLength="139" lengthAdjust="spacingAndGlyphs" stroke="#333" stroke-width="0.3">©StockCharts.com</text>
</svg>
</body></html>
